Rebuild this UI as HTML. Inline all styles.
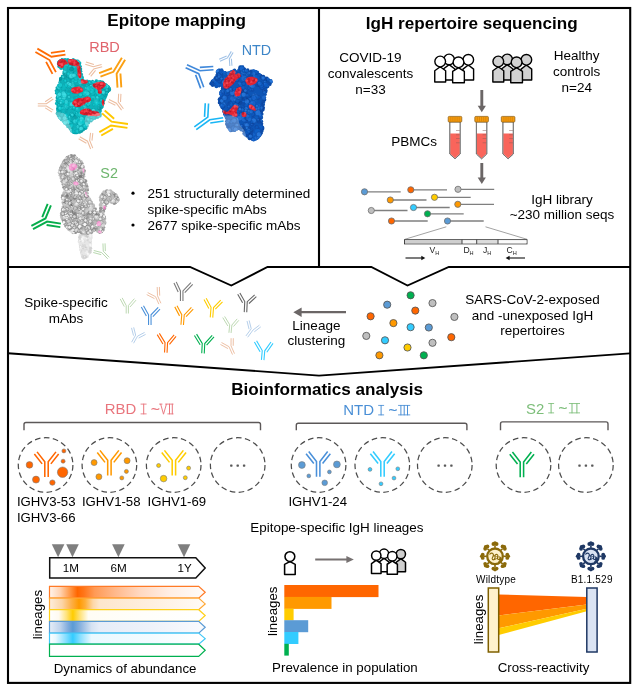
<!DOCTYPE html>
<html><head><meta charset="utf-8"><title>Graphical abstract</title>
<style>
html,body{margin:0;padding:0;background:#fff;}
body{width:640px;height:694px;overflow:hidden;font-family:'Liberation Sans', sans-serif;}
svg{display:block;font-family:"Liberation Sans",sans-serif;}
</style></head><body>
<svg width="640" height="694" viewBox="0 0 640 694" style="will-change:transform">
<g opacity="0.999">
<rect x="0" y="0" width="640" height="694" fill="#fff"/>
<g fill="none" stroke="#000" stroke-width="2.1" stroke-linejoin="miter">
<rect x="8" y="8" width="622.2" height="674.9"/>
<path d="M319,8V267"/>
<path d="M8,267H190L231.3,285.5L267.5,267H371.3L407.5,285.5L448.8,267H630" stroke-width="1.9"/>
<path d="M8,353.2L319,375.6L630,353.4" stroke-width="1.9"/>
</g>
<text x="107.3" y="26.4" font-size="17.1" text-anchor="start" font-weight="bold" fill="#000" >Epitope mapping</text>
<text x="365.8" y="28.5" font-size="17.1" text-anchor="start" font-weight="bold" fill="#000" >IgH repertoire sequencing</text>
<text x="231.2" y="394.6" font-size="17.1" text-anchor="start" font-weight="bold" fill="#000" >Bioinformatics analysis</text>
<defs><clipPath id="cprbd"><path d="M57.78,61.67C58.44,60.31 58.86,59.83 60.37,59.07C61.88,58.32 62.14,58.43 64.26,58.43C66.38,58.43 67.03,58.86 69.45,59.07C71.87,59.29 72.36,58.88 74.63,59.33C76.9,59.79 77.66,59.72 79.17,61.02C80.68,62.32 80.81,62.94 81.11,64.91C81.41,66.87 80.31,67.18 80.46,69.45C80.62,71.71 81.16,72.36 81.76,74.63C82.37,76.9 81.7,77.81 83.06,79.17C84.42,80.53 85.33,80.01 87.59,80.46C89.86,80.92 90.06,81.11 92.78,81.11C95.5,81.11 96.54,80.16 99.26,80.46C101.98,80.77 102.18,81.2 104.45,82.41C106.72,83.62 107.47,84.14 108.98,85.65C110.5,87.16 111.08,87.23 110.93,88.89C110.78,90.55 109.55,90.96 108.34,92.78C107.13,94.59 106.65,94.55 105.74,96.67C104.84,98.79 104.9,99.74 104.45,101.85C103.99,103.97 104.55,103.63 103.8,105.74C103.04,107.86 101.66,108.81 101.21,110.93C100.75,113.05 102.31,113.3 101.85,114.82C101.4,116.33 101.08,116.2 99.26,117.41C97.45,118.62 96.5,118.79 94.08,120C91.66,121.21 90.4,121.08 88.89,122.6C87.38,124.11 88.65,124.67 87.59,126.48C86.54,128.3 86.17,128.86 84.35,130.37C82.54,131.89 81.78,132.06 79.82,132.97C77.85,133.87 77.74,134.26 75.93,134.26C74.11,134.26 73.55,134.18 72.04,132.97C70.53,131.76 70.96,130.89 69.45,129.08C67.93,127.26 67.37,127 65.56,125.19C63.74,123.37 63.48,123.11 61.67,121.3C59.85,119.48 58.99,119.53 57.78,117.41C56.57,115.29 56.63,114.64 56.48,112.22C56.33,109.8 57.28,109.46 57.13,107.04C56.98,104.62 55.83,104.27 55.83,101.85C55.83,99.43 57.28,99.09 57.13,96.67C56.98,94.25 55.19,93.9 55.19,91.48C55.19,89.06 56.22,88.26 57.13,86.3C58.04,84.33 58.56,84.93 59.07,83.06C59.59,81.18 58.52,80.17 59.33,78.26C60.15,76.35 61.64,76.64 62.57,74.89C63.51,73.14 63.69,72.37 63.35,70.74C63.02,69.11 62.51,69.25 61.15,67.89C59.79,66.53 58.31,66.36 57.52,64.91C56.73,63.46 57.11,63.03 57.78,61.67Z"/></clipPath><filter id="blrbd" x="-5%" y="-5%" width="110%" height="110%"><feGaussianBlur stdDeviation="0.45"/></filter></defs>
<g filter="url(#blrbd)">
<path d="M57.78,61.67C58.44,60.31 58.86,59.83 60.37,59.07C61.88,58.32 62.14,58.43 64.26,58.43C66.38,58.43 67.03,58.86 69.45,59.07C71.87,59.29 72.36,58.88 74.63,59.33C76.9,59.79 77.66,59.72 79.17,61.02C80.68,62.32 80.81,62.94 81.11,64.91C81.41,66.87 80.31,67.18 80.46,69.45C80.62,71.71 81.16,72.36 81.76,74.63C82.37,76.9 81.7,77.81 83.06,79.17C84.42,80.53 85.33,80.01 87.59,80.46C89.86,80.92 90.06,81.11 92.78,81.11C95.5,81.11 96.54,80.16 99.26,80.46C101.98,80.77 102.18,81.2 104.45,82.41C106.72,83.62 107.47,84.14 108.98,85.65C110.5,87.16 111.08,87.23 110.93,88.89C110.78,90.55 109.55,90.96 108.34,92.78C107.13,94.59 106.65,94.55 105.74,96.67C104.84,98.79 104.9,99.74 104.45,101.85C103.99,103.97 104.55,103.63 103.8,105.74C103.04,107.86 101.66,108.81 101.21,110.93C100.75,113.05 102.31,113.3 101.85,114.82C101.4,116.33 101.08,116.2 99.26,117.41C97.45,118.62 96.5,118.79 94.08,120C91.66,121.21 90.4,121.08 88.89,122.6C87.38,124.11 88.65,124.67 87.59,126.48C86.54,128.3 86.17,128.86 84.35,130.37C82.54,131.89 81.78,132.06 79.82,132.97C77.85,133.87 77.74,134.26 75.93,134.26C74.11,134.26 73.55,134.18 72.04,132.97C70.53,131.76 70.96,130.89 69.45,129.08C67.93,127.26 67.37,127 65.56,125.19C63.74,123.37 63.48,123.11 61.67,121.3C59.85,119.48 58.99,119.53 57.78,117.41C56.57,115.29 56.63,114.64 56.48,112.22C56.33,109.8 57.28,109.46 57.13,107.04C56.98,104.62 55.83,104.27 55.83,101.85C55.83,99.43 57.28,99.09 57.13,96.67C56.98,94.25 55.19,93.9 55.19,91.48C55.19,89.06 56.22,88.26 57.13,86.3C58.04,84.33 58.56,84.93 59.07,83.06C59.59,81.18 58.52,80.17 59.33,78.26C60.15,76.35 61.64,76.64 62.57,74.89C63.51,73.14 63.69,72.37 63.35,70.74C63.02,69.11 62.51,69.25 61.15,67.89C59.79,66.53 58.31,66.36 57.52,64.91C56.73,63.46 57.11,63.03 57.78,61.67Z" fill="#0ab2ba"/>
<circle cx="58.58" cy="61.99" r="1.54" fill="#0aa6ae"/>
<circle cx="61.95" cy="59.08" r="1.07" fill="#0aa6ae"/>
<circle cx="65.11" cy="59.62" r="1.23" fill="#0aa6ae"/>
<circle cx="67.94" cy="59.67" r="1.55" fill="#0ab2ba"/>
<circle cx="70.06" cy="60.15" r="1.15" fill="#0aa6ae"/>
<circle cx="73.26" cy="59.75" r="1.67" fill="#0ab2ba"/>
<circle cx="75.13" cy="60.41" r="1.03" fill="#0aa6ae"/>
<circle cx="77.73" cy="61.52" r="1.92" fill="#0aa6ae"/>
<circle cx="79.58" cy="62.99" r="1.8" fill="#0ab2ba"/>
<circle cx="80.9" cy="66.49" r="1.1" fill="#0ab2ba"/>
<circle cx="80.61" cy="68.92" r="1.67" fill="#0aa6ae"/>
<circle cx="80.5" cy="71.34" r="1.83" fill="#0aa6ae"/>
<circle cx="81.13" cy="74.38" r="1.9" fill="#0ab2ba"/>
<circle cx="81.78" cy="77.26" r="1.99" fill="#0ab2ba"/>
<circle cx="82.45" cy="78.69" r="1.33" fill="#0ab2ba"/>
<circle cx="83.63" cy="80.43" r="1.21" fill="#0aa6ae"/>
<circle cx="85.26" cy="80.76" r="1.06" fill="#0aa6ae"/>
<circle cx="87.15" cy="81.3" r="1.8" fill="#0ab2ba"/>
<circle cx="89.68" cy="81.38" r="1.43" fill="#0ab2ba"/>
<circle cx="92.52" cy="81.4" r="1.61" fill="#0aa6ae"/>
<circle cx="96.37" cy="81.19" r="1.92" fill="#0ab2ba"/>
<circle cx="100.46" cy="81.24" r="1.31" fill="#0ab2ba"/>
<circle cx="102.49" cy="82.38" r="1.97" fill="#0aa6ae"/>
<circle cx="103.79" cy="82.93" r="1.04" fill="#0aa6ae"/>
<circle cx="106.23" cy="84.69" r="1.14" fill="#0aa6ae"/>
<circle cx="108.44" cy="86.8" r="1.52" fill="#0ab2ba"/>
<circle cx="109.23" cy="89.77" r="1.94" fill="#0aa6ae"/>
<circle cx="107.51" cy="91.69" r="1.72" fill="#0aa6ae"/>
<circle cx="106.57" cy="93.92" r="1.52" fill="#0ab2ba"/>
<circle cx="105.46" cy="95.58" r="1.99" fill="#0aa6ae"/>
<circle cx="105.03" cy="97.56" r="1.63" fill="#0aa6ae"/>
<circle cx="104.07" cy="99.79" r="1.68" fill="#0aa6ae"/>
<circle cx="103.88" cy="103.47" r="1.02" fill="#0ab2ba"/>
<circle cx="102.4" cy="106.89" r="1.25" fill="#0aa6ae"/>
<circle cx="101.54" cy="108.1" r="1.19" fill="#0aa6ae"/>
<circle cx="100.42" cy="110.93" r="1.38" fill="#0ab2ba"/>
<circle cx="99.93" cy="115.91" r="1.68" fill="#0ab2ba"/>
<circle cx="97.84" cy="117.43" r="1.27" fill="#0aa6ae"/>
<circle cx="95.22" cy="118.58" r="1.1" fill="#0aa6ae"/>
<circle cx="92.52" cy="119.61" r="1.22" fill="#0ab2ba"/>
<circle cx="91.05" cy="120.71" r="1.74" fill="#0aa6ae"/>
<circle cx="88.52" cy="122.76" r="1.79" fill="#0ab2ba"/>
<circle cx="86.96" cy="125.65" r="1.84" fill="#0aa6ae"/>
<circle cx="85.52" cy="128.26" r="1.83" fill="#0aa6ae"/>
<circle cx="83.42" cy="129.93" r="1.42" fill="#0aa6ae"/>
<circle cx="81.39" cy="131.27" r="1.63" fill="#0aa6ae"/>
<circle cx="79.71" cy="132.43" r="1.41" fill="#0aa6ae"/>
<circle cx="73.94" cy="131.68" r="1.88" fill="#0aa6ae"/>
<circle cx="71.87" cy="130.77" r="1.99" fill="#0ab2ba"/>
<circle cx="70.46" cy="128.81" r="1.84" fill="#0aa6ae"/>
<circle cx="69.26" cy="126.81" r="1.89" fill="#0aa6ae"/>
<circle cx="67.47" cy="126.67" r="1.24" fill="#0ab2ba"/>
<circle cx="65.04" cy="122.96" r="1.9" fill="#0ab2ba"/>
<circle cx="63.38" cy="122.06" r="1.12" fill="#0ab2ba"/>
<circle cx="61.36" cy="119.81" r="1.52" fill="#0ab2ba"/>
<circle cx="60" cy="118.06" r="1.25" fill="#0aa6ae"/>
<circle cx="57.76" cy="115.82" r="1.06" fill="#0ab2ba"/>
<circle cx="57.42" cy="113.51" r="1.82" fill="#0aa6ae"/>
<circle cx="57.89" cy="109.82" r="1.81" fill="#0ab2ba"/>
<circle cx="57.61" cy="108.37" r="1.57" fill="#0aa6ae"/>
<circle cx="57.92" cy="106.12" r="1.62" fill="#0ab2ba"/>
<circle cx="56.7" cy="103.53" r="1.78" fill="#0ab2ba"/>
<circle cx="56.42" cy="100.56" r="1.05" fill="#0aa6ae"/>
<circle cx="57.43" cy="97.64" r="1.85" fill="#0aa6ae"/>
<circle cx="57.62" cy="96.1" r="1.31" fill="#0aa6ae"/>
<circle cx="56.35" cy="93.18" r="1.36" fill="#0aa6ae"/>
<circle cx="55.72" cy="90.85" r="1.13" fill="#0aa6ae"/>
<circle cx="57.05" cy="87.77" r="1.57" fill="#0aa6ae"/>
<circle cx="58.71" cy="85.49" r="1.78" fill="#0ab2ba"/>
<circle cx="59.77" cy="82.55" r="1.43" fill="#0aa6ae"/>
<circle cx="60.28" cy="80.32" r="1.31" fill="#0aa6ae"/>
<circle cx="60.4" cy="78.33" r="1.25" fill="#0ab2ba"/>
<circle cx="62.02" cy="76.08" r="1.22" fill="#0ab2ba"/>
<circle cx="63.75" cy="73.59" r="1.37" fill="#0aa6ae"/>
<circle cx="64.07" cy="71.89" r="1.69" fill="#0aa6ae"/>
<circle cx="61.07" cy="68.26" r="1.73" fill="#0ab2ba"/>
<circle cx="59.05" cy="66.52" r="1.72" fill="#0ab2ba"/>
<circle cx="57.83" cy="63.68" r="1.04" fill="#0ab2ba"/>
<g clip-path="url(#cprbd)">
<circle cx="91.93" cy="86.92" r="2.51" fill="#14ccd2" stroke="#078f98" stroke-width="0.45" opacity="0.89"/>
<circle cx="87.46" cy="119" r="1.26" fill="#3fe0e6" stroke="#078f98" stroke-width="0.45" opacity="0.86"/>
<circle cx="86.62" cy="121.22" r="1.59" fill="#068c95" opacity="0.55"/>
<circle cx="69.28" cy="103.89" r="2.7" fill="#14ccd2" stroke="#078f98" stroke-width="0.45" opacity="0.9"/>
<circle cx="78.33" cy="101.53" r="2.13" fill="#3fe0e6" opacity="0.57"/>
<circle cx="63.51" cy="65.7" r="2.4" fill="#0cbcc4" stroke="#078f98" stroke-width="0.45" opacity="0.65"/>
<circle cx="63.35" cy="97.53" r="2.7" fill="#3fe0e6" stroke="#078f98" stroke-width="0.45" opacity="0.9"/>
<circle cx="70.13" cy="119.41" r="1.52" fill="#0cbcc4" opacity="0.49"/>
<circle cx="69.67" cy="118.95" r="0.61" fill="#3fe0e6" opacity="0.6"/>
<circle cx="88.58" cy="93.92" r="2.54" fill="#3fe0e6" opacity="0.36"/>
<circle cx="87.81" cy="93.16" r="1.01" fill="#3fe0e6" opacity="0.6"/>
<circle cx="91.32" cy="117.38" r="1.31" fill="#14ccd2" stroke="#078f98" stroke-width="0.45" opacity="0.65"/>
<circle cx="60.26" cy="119.01" r="1.39" fill="#3fe0e6" stroke="#078f98" stroke-width="0.45" opacity="0.84"/>
<circle cx="59.84" cy="118.59" r="0.56" fill="#3fe0e6" opacity="0.6"/>
<circle cx="73.85" cy="91.51" r="1.98" fill="#0cbcc4" stroke="#078f98" stroke-width="0.45" opacity="0.79"/>
<circle cx="73.25" cy="90.91" r="0.79" fill="#3fe0e6" opacity="0.6"/>
<circle cx="70.5" cy="108.89" r="1.38" fill="#14ccd2" opacity="0.39"/>
<circle cx="70.09" cy="108.48" r="0.55" fill="#3fe0e6" opacity="0.6"/>
<circle cx="98.24" cy="115.86" r="1.67" fill="#3fe0e6" opacity="0.77"/>
<circle cx="97.74" cy="115.36" r="0.67" fill="#3fe0e6" opacity="0.6"/>
<circle cx="86.74" cy="98.29" r="2.27" fill="#0cbcc4" opacity="0.67"/>
<circle cx="65.33" cy="107.39" r="2.21" fill="#3fe0e6" stroke="#078f98" stroke-width="0.45" opacity="0.65"/>
<circle cx="64.67" cy="106.73" r="0.88" fill="#3fe0e6" opacity="0.6"/>
<circle cx="95.35" cy="103.73" r="2.09" fill="#14ccd2" opacity="0.57"/>
<circle cx="86.05" cy="102.1" r="1.83" fill="#089ba4" opacity="0.52"/>
<circle cx="85.5" cy="101.55" r="0.73" fill="#3fe0e6" opacity="0.6"/>
<circle cx="98.05" cy="85.28" r="1.73" fill="#14ccd2" stroke="#078f98" stroke-width="0.45" opacity="0.9"/>
<circle cx="97.53" cy="84.76" r="0.69" fill="#3fe0e6" opacity="0.6"/>
<circle cx="70.26" cy="65.98" r="1.38" fill="#3fe0e6" opacity="0.4"/>
<circle cx="92.54" cy="88.09" r="2.77" fill="#0cbcc4" stroke="#078f98" stroke-width="0.45" opacity="0.79"/>
<circle cx="91.71" cy="87.26" r="1.11" fill="#3fe0e6" opacity="0.6"/>
<circle cx="65.16" cy="124.3" r="1.79" fill="#089ba4" opacity="0.75"/>
<circle cx="64.62" cy="123.76" r="0.72" fill="#3fe0e6" opacity="0.6"/>
<circle cx="85.99" cy="102.64" r="2.21" fill="#3fe0e6" opacity="0.67"/>
<circle cx="64.83" cy="105.83" r="1.52" fill="#3fe0e6" stroke="#078f98" stroke-width="0.45" opacity="0.93"/>
<circle cx="64.38" cy="105.37" r="0.61" fill="#3fe0e6" opacity="0.6"/>
<circle cx="70.97" cy="108.29" r="1.44" fill="#14ccd2" stroke="#078f98" stroke-width="0.45" opacity="0.82"/>
<circle cx="74.12" cy="83.33" r="1.75" fill="#0cbcc4" opacity="0.74"/>
<circle cx="95.09" cy="114.52" r="1.75" fill="#0cbcc4" stroke="#078f98" stroke-width="0.45" opacity="0.77"/>
<circle cx="94.57" cy="114" r="0.7" fill="#3fe0e6" opacity="0.6"/>
<circle cx="57.57" cy="64.34" r="1.52" fill="#14ccd2" stroke="#078f98" stroke-width="0.45" opacity="0.67"/>
<circle cx="56.49" cy="93.13" r="2.31" fill="#089ba4" opacity="0.75"/>
<circle cx="55.8" cy="92.44" r="0.92" fill="#3fe0e6" opacity="0.6"/>
<circle cx="75.86" cy="98.57" r="2.15" fill="#14ccd2" stroke="#078f98" stroke-width="0.45" opacity="0.65"/>
<circle cx="66.07" cy="74.3" r="1.47" fill="#3fe0e6" stroke="#078f98" stroke-width="0.45" opacity="0.66"/>
<circle cx="80.16" cy="89.35" r="2.33" fill="#0cbcc4" stroke="#078f98" stroke-width="0.45" opacity="0.68"/>
<circle cx="79.46" cy="88.65" r="0.93" fill="#3fe0e6" opacity="0.6"/>
<circle cx="65.81" cy="83.68" r="1.39" fill="#3fe0e6" opacity="0.37"/>
<circle cx="65.4" cy="83.26" r="0.55" fill="#3fe0e6" opacity="0.6"/>
<circle cx="99.1" cy="93.72" r="2.69" fill="#14ccd2" stroke="#078f98" stroke-width="0.45" opacity="0.82"/>
<circle cx="98.29" cy="92.91" r="1.08" fill="#3fe0e6" opacity="0.6"/>
<circle cx="60.41" cy="110.18" r="2.75" fill="#0cbcc4" opacity="0.4"/>
<circle cx="59.58" cy="109.35" r="1.1" fill="#3fe0e6" opacity="0.6"/>
<circle cx="83.23" cy="94.97" r="1.5" fill="#14ccd2" opacity="0.44"/>
<circle cx="72.17" cy="104.45" r="2.71" fill="#3fe0e6" stroke="#078f98" stroke-width="0.45" opacity="0.74"/>
<circle cx="71.36" cy="103.64" r="1.09" fill="#3fe0e6" opacity="0.6"/>
<circle cx="64.92" cy="114.53" r="2.37" fill="#14ccd2" stroke="#078f98" stroke-width="0.45" opacity="0.75"/>
<circle cx="64.21" cy="113.82" r="0.95" fill="#3fe0e6" opacity="0.6"/>
<circle cx="94.36" cy="84.6" r="2.51" fill="#3fe0e6" opacity="0.76"/>
<circle cx="60.31" cy="110.89" r="2.26" fill="#0aa6ae" opacity="0.73"/>
<circle cx="103.81" cy="92.55" r="2.64" fill="#0cbcc4" stroke="#078f98" stroke-width="0.45" opacity="0.74"/>
<circle cx="61.04" cy="101.57" r="1.38" fill="#0aa6ae" opacity="0.44"/>
<circle cx="71.21" cy="74.26" r="2.56" fill="#3fe0e6" opacity="0.7"/>
<circle cx="65.09" cy="64.43" r="2.52" fill="#14ccd2" stroke="#078f98" stroke-width="0.45" opacity="0.63"/>
<circle cx="67.6" cy="121.33" r="2.18" fill="#3fe0e6" stroke="#078f98" stroke-width="0.45" opacity="0.83"/>
<circle cx="71.45" cy="130.1" r="1.91" fill="#3fe0e6" stroke="#078f98" stroke-width="0.45" opacity="0.82"/>
<circle cx="70.88" cy="129.52" r="0.76" fill="#3fe0e6" opacity="0.6"/>
<circle cx="65.89" cy="115.58" r="2.68" fill="#14ccd2" opacity="0.54"/>
<circle cx="67.12" cy="85.01" r="2.79" fill="#14ccd2" stroke="#078f98" stroke-width="0.45" opacity="0.66"/>
<circle cx="78.53" cy="130.32" r="2.64" fill="#14ccd2" opacity="0.75"/>
<circle cx="63.59" cy="96.61" r="1.3" fill="#14ccd2" stroke="#078f98" stroke-width="0.45" opacity="0.61"/>
<circle cx="66.15" cy="117.73" r="1.43" fill="#14ccd2" stroke="#078f98" stroke-width="0.45" opacity="0.87"/>
<circle cx="104.02" cy="86.68" r="1.46" fill="#089ba4" opacity="0.56"/>
<circle cx="103.59" cy="86.24" r="0.58" fill="#3fe0e6" opacity="0.6"/>
<circle cx="75.21" cy="121.44" r="2.4" fill="#3fe0e6" stroke="#078f98" stroke-width="0.45" opacity="0.65"/>
<circle cx="74.49" cy="120.72" r="0.96" fill="#3fe0e6" opacity="0.6"/>
<circle cx="74.97" cy="131.66" r="1.78" fill="#14ccd2" stroke="#078f98" stroke-width="0.45" opacity="0.92"/>
<circle cx="88.83" cy="119.95" r="1.92" fill="#14ccd2" stroke="#078f98" stroke-width="0.45" opacity="0.72"/>
<circle cx="88.25" cy="119.37" r="0.77" fill="#3fe0e6" opacity="0.6"/>
<circle cx="64.42" cy="116.17" r="2.1" fill="#3fe0e6" opacity="0.69"/>
<circle cx="101.51" cy="100.28" r="1.65" fill="#14ccd2" stroke="#078f98" stroke-width="0.45" opacity="0.76"/>
<circle cx="88.78" cy="89.85" r="2.03" fill="#3fe0e6" stroke="#078f98" stroke-width="0.45" opacity="0.64"/>
<circle cx="79.94" cy="79.54" r="1.61" fill="#3fe0e6" stroke="#078f98" stroke-width="0.45" opacity="0.61"/>
<circle cx="68.03" cy="93.23" r="2.14" fill="#14ccd2" stroke="#078f98" stroke-width="0.45" opacity="0.64"/>
<circle cx="79.44" cy="64.18" r="1.25" fill="#14ccd2" stroke="#078f98" stroke-width="0.45" opacity="0.66"/>
<circle cx="79.07" cy="63.8" r="0.5" fill="#3fe0e6" opacity="0.6"/>
<circle cx="101.35" cy="82.41" r="1.63" fill="#14ccd2" stroke="#078f98" stroke-width="0.45" opacity="0.61"/>
<circle cx="100.86" cy="81.92" r="0.65" fill="#3fe0e6" opacity="0.6"/>
<circle cx="78.23" cy="126.63" r="1.99" fill="#3fe0e6" stroke="#078f98" stroke-width="0.45" opacity="0.82"/>
<circle cx="77.63" cy="126.03" r="0.8" fill="#3fe0e6" opacity="0.6"/>
<circle cx="93.76" cy="91.13" r="2.77" fill="#0cbcc4" stroke="#078f98" stroke-width="0.45" opacity="0.77"/>
<circle cx="92.93" cy="90.3" r="1.11" fill="#3fe0e6" opacity="0.6"/>
<circle cx="63.54" cy="111.93" r="2.3" fill="#0cbcc4" stroke="#078f98" stroke-width="0.45" opacity="0.66"/>
<circle cx="72.52" cy="107.62" r="1.41" fill="#14ccd2" stroke="#078f98" stroke-width="0.45" opacity="0.87"/>
<circle cx="72.1" cy="107.19" r="0.56" fill="#3fe0e6" opacity="0.6"/>
<circle cx="65.32" cy="60.42" r="1.37" fill="#3fe0e6" stroke="#078f98" stroke-width="0.45" opacity="0.63"/>
<circle cx="64.91" cy="60.01" r="0.55" fill="#3fe0e6" opacity="0.6"/>
<circle cx="74.94" cy="130.53" r="1.98" fill="#14ccd2" opacity="0.56"/>
<circle cx="102.79" cy="91.98" r="1.85" fill="#14ccd2" stroke="#078f98" stroke-width="0.45" opacity="0.67"/>
<circle cx="70.01" cy="73.77" r="1.28" fill="#3fe0e6" stroke="#078f98" stroke-width="0.45" opacity="0.6"/>
<circle cx="93.4" cy="98.26" r="2.43" fill="#3fe0e6" stroke="#078f98" stroke-width="0.45" opacity="0.81"/>
<circle cx="92.67" cy="97.53" r="0.97" fill="#3fe0e6" opacity="0.6"/>
<circle cx="83.41" cy="86.75" r="1.71" fill="#0aa6ae" opacity="0.7"/>
<circle cx="82.9" cy="86.24" r="0.68" fill="#3fe0e6" opacity="0.6"/>
<circle cx="93.67" cy="84.31" r="2.76" fill="#3fe0e6" stroke="#078f98" stroke-width="0.45" opacity="0.95"/>
<circle cx="69.04" cy="91.39" r="1.63" fill="#089ba4" opacity="0.59"/>
<circle cx="84.64" cy="91.91" r="2.19" fill="#089ba4" opacity="0.6"/>
<circle cx="83.99" cy="91.26" r="0.88" fill="#3fe0e6" opacity="0.6"/>
<circle cx="68.36" cy="87.37" r="1.54" fill="#0cbcc4" stroke="#078f98" stroke-width="0.45" opacity="0.75"/>
<circle cx="94.84" cy="85.84" r="1.68" fill="#14ccd2" opacity="0.55"/>
<circle cx="60.99" cy="95.97" r="1.72" fill="#0cbcc4" stroke="#078f98" stroke-width="0.45" opacity="0.67"/>
<circle cx="60.48" cy="95.46" r="0.69" fill="#3fe0e6" opacity="0.6"/>
<circle cx="66.16" cy="60.58" r="2.37" fill="#089ba4" opacity="0.68"/>
<circle cx="106.08" cy="91.9" r="2.29" fill="#14ccd2" stroke="#078f98" stroke-width="0.45" opacity="0.7"/>
<circle cx="105.39" cy="91.21" r="0.92" fill="#3fe0e6" opacity="0.6"/>
<circle cx="101.09" cy="103.84" r="1.34" fill="#0cbcc4" stroke="#078f98" stroke-width="0.45" opacity="0.77"/>
<circle cx="100.69" cy="103.44" r="0.53" fill="#3fe0e6" opacity="0.6"/>
<circle cx="66.54" cy="106.64" r="2.14" fill="#3fe0e6" stroke="#078f98" stroke-width="0.45" opacity="0.84"/>
<circle cx="65.9" cy="106" r="0.86" fill="#3fe0e6" opacity="0.6"/>
<circle cx="79.81" cy="115.57" r="2.79" fill="#068c95" opacity="0.5"/>
<circle cx="60.43" cy="108.48" r="2.23" fill="#14ccd2" stroke="#078f98" stroke-width="0.45" opacity="0.94"/>
<circle cx="59.77" cy="107.81" r="0.89" fill="#3fe0e6" opacity="0.6"/>
<circle cx="84.06" cy="126.9" r="2.01" fill="#068c95" opacity="0.43"/>
<circle cx="106.37" cy="88.46" r="1.75" fill="#14ccd2" stroke="#078f98" stroke-width="0.45" opacity="0.91"/>
<circle cx="105.84" cy="87.93" r="0.7" fill="#3fe0e6" opacity="0.6"/>
<circle cx="84.82" cy="105.44" r="1.77" fill="#3fe0e6" opacity="0.74"/>
<circle cx="84.29" cy="104.91" r="0.71" fill="#3fe0e6" opacity="0.6"/>
<circle cx="58.52" cy="91.25" r="1.7" fill="#14ccd2" stroke="#078f98" stroke-width="0.45" opacity="0.64"/>
<circle cx="77.32" cy="74.5" r="1.5" fill="#089ba4" opacity="0.46"/>
<circle cx="75.64" cy="75.37" r="1.66" fill="#0cbcc4" stroke="#078f98" stroke-width="0.45" opacity="0.67"/>
<circle cx="75.14" cy="74.87" r="0.66" fill="#3fe0e6" opacity="0.6"/>
<circle cx="64.82" cy="71.19" r="1.97" fill="#3fe0e6" stroke="#078f98" stroke-width="0.45" opacity="0.86"/>
<circle cx="64.23" cy="70.6" r="0.79" fill="#3fe0e6" opacity="0.6"/>
<circle cx="85.26" cy="103.76" r="2.21" fill="#14ccd2" stroke="#078f98" stroke-width="0.45" opacity="0.77"/>
<circle cx="70.15" cy="126.58" r="2.3" fill="#3fe0e6" stroke="#078f98" stroke-width="0.45" opacity="0.77"/>
<circle cx="69.46" cy="125.89" r="0.92" fill="#3fe0e6" opacity="0.6"/>
<circle cx="95.15" cy="84.12" r="2.37" fill="#14ccd2" stroke="#078f98" stroke-width="0.45" opacity="0.77"/>
<circle cx="103.3" cy="92.3" r="1.99" fill="#3fe0e6" stroke="#078f98" stroke-width="0.45" opacity="0.81"/>
<circle cx="73.21" cy="89.53" r="2.68" fill="#14ccd2" stroke="#078f98" stroke-width="0.45" opacity="0.75"/>
<circle cx="72.41" cy="88.73" r="1.07" fill="#3fe0e6" opacity="0.6"/>
<circle cx="65.3" cy="80.82" r="1.5" fill="#14ccd2" stroke="#078f98" stroke-width="0.45" opacity="0.92"/>
<circle cx="85.35" cy="93.72" r="2.65" fill="#14ccd2" stroke="#078f98" stroke-width="0.45" opacity="0.85"/>
<circle cx="84.56" cy="92.92" r="1.06" fill="#3fe0e6" opacity="0.6"/>
<circle cx="76.77" cy="100.66" r="1.7" fill="#14ccd2" stroke="#078f98" stroke-width="0.45" opacity="0.64"/>
<circle cx="81.76" cy="91.34" r="1.62" fill="#0cbcc4" opacity="0.47"/>
<circle cx="69.59" cy="84.79" r="1.75" fill="#14ccd2" stroke="#078f98" stroke-width="0.45" opacity="0.72"/>
<circle cx="69.06" cy="84.26" r="0.7" fill="#3fe0e6" opacity="0.6"/>
<circle cx="57.56" cy="95.65" r="2.79" fill="#3fe0e6" stroke="#078f98" stroke-width="0.45" opacity="0.8"/>
<circle cx="79.15" cy="80.82" r="1.64" fill="#3fe0e6" stroke="#078f98" stroke-width="0.45" opacity="0.6"/>
<circle cx="62.49" cy="113.7" r="1.53" fill="#3fe0e6" stroke="#078f98" stroke-width="0.45" opacity="0.8"/>
<circle cx="75.15" cy="67.37" r="1.55" fill="#0cbcc4" opacity="0.57"/>
<circle cx="74.68" cy="66.91" r="0.62" fill="#3fe0e6" opacity="0.6"/>
<circle cx="85.51" cy="109.13" r="2.17" fill="#3fe0e6" stroke="#078f98" stroke-width="0.45" opacity="0.65"/>
<circle cx="84.86" cy="108.48" r="0.87" fill="#3fe0e6" opacity="0.6"/>
<circle cx="59.8" cy="117.97" r="1.83" fill="#3fe0e6" stroke="#078f98" stroke-width="0.45" opacity="0.89"/>
<circle cx="59.25" cy="117.43" r="0.73" fill="#3fe0e6" opacity="0.6"/>
<circle cx="93.23" cy="89.92" r="1.21" fill="#0aa6ae" opacity="0.5"/>
<circle cx="92.86" cy="89.56" r="0.48" fill="#3fe0e6" opacity="0.6"/>
<circle cx="99.9" cy="87.89" r="2.49" fill="#0aa6ae" opacity="0.67"/>
<circle cx="99.15" cy="87.14" r="1" fill="#3fe0e6" opacity="0.6"/>
<circle cx="67.16" cy="70.39" r="1.83" fill="#0aa6ae" opacity="0.4"/>
<circle cx="66.62" cy="69.84" r="0.73" fill="#3fe0e6" opacity="0.6"/>
<circle cx="60.57" cy="89.22" r="2.14" fill="#3fe0e6" stroke="#078f98" stroke-width="0.45" opacity="0.73"/>
<circle cx="66.84" cy="102.88" r="2.22" fill="#0cbcc4" stroke="#078f98" stroke-width="0.45" opacity="0.7"/>
<circle cx="84.14" cy="81.82" r="2.04" fill="#14ccd2" stroke="#078f98" stroke-width="0.45" opacity="0.62"/>
<circle cx="96.46" cy="116.82" r="1.23" fill="#0aa6ae" opacity="0.35"/>
<circle cx="92.82" cy="81.54" r="1.96" fill="#3fe0e6" stroke="#078f98" stroke-width="0.45" opacity="0.63"/>
<circle cx="65.86" cy="64.76" r="2.39" fill="#3fe0e6" opacity="0.58"/>
<circle cx="65.15" cy="64.04" r="0.96" fill="#3fe0e6" opacity="0.6"/>
<circle cx="92.75" cy="97.29" r="2.74" fill="#0cbcc4" stroke="#078f98" stroke-width="0.45" opacity="0.75"/>
<circle cx="86.43" cy="88.07" r="1.94" fill="#3fe0e6" stroke="#078f98" stroke-width="0.45" opacity="0.69"/>
<circle cx="69.5" cy="85.55" r="2.24" fill="#14ccd2" stroke="#078f98" stroke-width="0.45" opacity="0.81"/>
<circle cx="77.6" cy="87.66" r="1.71" fill="#14ccd2" stroke="#078f98" stroke-width="0.45" opacity="0.8"/>
<circle cx="77.09" cy="87.14" r="0.68" fill="#3fe0e6" opacity="0.6"/>
<circle cx="79.21" cy="61.46" r="2.37" fill="#3fe0e6" stroke="#078f98" stroke-width="0.45" opacity="0.68"/>
<circle cx="78.5" cy="60.75" r="0.95" fill="#3fe0e6" opacity="0.6"/>
<circle cx="66.15" cy="104.37" r="2.23" fill="#14ccd2" stroke="#078f98" stroke-width="0.45" opacity="0.73"/>
<circle cx="79.31" cy="73.6" r="1.83" fill="#3fe0e6" stroke="#078f98" stroke-width="0.45" opacity="0.91"/>
<circle cx="62.87" cy="117.32" r="2.64" fill="#0aa6ae" opacity="0.45"/>
<circle cx="62.36" cy="90.44" r="2.79" fill="#14ccd2" stroke="#078f98" stroke-width="0.45" opacity="0.82"/>
<circle cx="56.8" cy="100.13" r="2.15" fill="#0aa6ae" opacity="0.52"/>
<circle cx="56.16" cy="99.48" r="0.86" fill="#3fe0e6" opacity="0.6"/>
<circle cx="68.78" cy="75.23" r="2.7" fill="#0cbcc4" stroke="#078f98" stroke-width="0.45" opacity="0.89"/>
<circle cx="67.97" cy="74.42" r="1.08" fill="#3fe0e6" opacity="0.6"/>
<circle cx="91.11" cy="120.32" r="1.58" fill="#14ccd2" stroke="#078f98" stroke-width="0.45" opacity="0.72"/>
<circle cx="90.64" cy="119.84" r="0.63" fill="#3fe0e6" opacity="0.6"/>
<circle cx="74.39" cy="74.83" r="1.52" fill="#3fe0e6" stroke="#078f98" stroke-width="0.45" opacity="0.92"/>
<circle cx="73.93" cy="74.37" r="0.61" fill="#3fe0e6" opacity="0.6"/>
<circle cx="71.25" cy="130.15" r="1.52" fill="#14ccd2" stroke="#078f98" stroke-width="0.45" opacity="0.91"/>
<circle cx="70.79" cy="129.69" r="0.61" fill="#3fe0e6" opacity="0.6"/>
<circle cx="74.42" cy="108.05" r="2.15" fill="#0cbcc4" stroke="#078f98" stroke-width="0.45" opacity="0.91"/>
<circle cx="73.77" cy="107.41" r="0.86" fill="#3fe0e6" opacity="0.6"/>
<circle cx="64.64" cy="83.29" r="1.38" fill="#0aa6ae" opacity="0.38"/>
<circle cx="56.3" cy="91.97" r="2.33" fill="#0cbcc4" stroke="#078f98" stroke-width="0.45" opacity="0.73"/>
<circle cx="70.69" cy="122.7" r="1.52" fill="#0cbcc4" stroke="#078f98" stroke-width="0.45" opacity="0.93"/>
<circle cx="70.23" cy="122.24" r="0.61" fill="#3fe0e6" opacity="0.6"/>
<circle cx="86.64" cy="99.03" r="1.22" fill="#089ba4" opacity="0.43"/>
<circle cx="86.28" cy="98.67" r="0.49" fill="#3fe0e6" opacity="0.6"/>
<circle cx="59.55" cy="99.43" r="2.54" fill="#14ccd2" stroke="#078f98" stroke-width="0.45" opacity="0.66"/>
<circle cx="83.17" cy="84.86" r="1.98" fill="#089ba4" opacity="0.65"/>
<circle cx="60.26" cy="64.93" r="2.53" fill="#0aa6ae" opacity="0.5"/>
<circle cx="59.5" cy="64.17" r="1.01" fill="#3fe0e6" opacity="0.6"/>
<circle cx="79.73" cy="67.77" r="2.62" fill="#14ccd2" opacity="0.67"/>
<circle cx="97.9" cy="111.37" r="1.22" fill="#3fe0e6" stroke="#078f98" stroke-width="0.45" opacity="0.75"/>
<circle cx="74.62" cy="97.82" r="1.86" fill="#0aa6ae" opacity="0.68"/>
<circle cx="70.87" cy="76.2" r="1.46" fill="#3fe0e6" stroke="#078f98" stroke-width="0.45" opacity="0.79"/>
<circle cx="70.43" cy="75.76" r="0.59" fill="#3fe0e6" opacity="0.6"/>
<circle cx="74.41" cy="115.38" r="1.47" fill="#068c95" opacity="0.77"/>
<circle cx="77.74" cy="131.14" r="1.89" fill="#3fe0e6" stroke="#078f98" stroke-width="0.45" opacity="0.73"/>
<circle cx="91.41" cy="93.17" r="2.26" fill="#3fe0e6" stroke="#078f98" stroke-width="0.45" opacity="0.77"/>
<circle cx="65.88" cy="117.99" r="1.68" fill="#0cbcc4" opacity="0.72"/>
<circle cx="65.38" cy="117.49" r="0.67" fill="#3fe0e6" opacity="0.6"/>
<circle cx="64.35" cy="123.22" r="2.34" fill="#3fe0e6" opacity="0.47"/>
<circle cx="75.68" cy="72.99" r="2.03" fill="#0cbcc4" stroke="#078f98" stroke-width="0.45" opacity="0.92"/>
<circle cx="80.81" cy="101.25" r="1.7" fill="#3fe0e6" stroke="#078f98" stroke-width="0.45" opacity="0.61"/>
<circle cx="65.17" cy="94.36" r="1.72" fill="#3fe0e6" stroke="#078f98" stroke-width="0.45" opacity="0.78"/>
<circle cx="93.03" cy="82.61" r="2.11" fill="#14ccd2" opacity="0.74"/>
<circle cx="63.49" cy="90.93" r="2.32" fill="#089ba4" opacity="0.73"/>
<circle cx="70.06" cy="81.6" r="1.4" fill="#3fe0e6" stroke="#078f98" stroke-width="0.45" opacity="0.91"/>
<circle cx="75.73" cy="90.98" r="2.27" fill="#3fe0e6" stroke="#078f98" stroke-width="0.45" opacity="0.72"/>
<circle cx="75.8" cy="85.38" r="2.18" fill="#0aa6ae" opacity="0.35"/>
<circle cx="66.06" cy="101.67" r="1.96" fill="#3fe0e6" opacity="0.61"/>
<circle cx="64.39" cy="121.17" r="2.53" fill="#3fe0e6" stroke="#078f98" stroke-width="0.45" opacity="0.64"/>
<circle cx="92.09" cy="85.88" r="2.47" fill="#3fe0e6" stroke="#078f98" stroke-width="0.45" opacity="0.87"/>
<circle cx="91.35" cy="85.14" r="0.99" fill="#3fe0e6" opacity="0.6"/>
<circle cx="74.36" cy="64.15" r="2.78" fill="#0cbcc4" stroke="#078f98" stroke-width="0.45" opacity="0.67"/>
<circle cx="77.39" cy="120.62" r="2.24" fill="#14ccd2" stroke="#078f98" stroke-width="0.45" opacity="0.69"/>
<circle cx="61.78" cy="114.95" r="2.02" fill="#0cbcc4" stroke="#078f98" stroke-width="0.45" opacity="0.93"/>
<circle cx="72.57" cy="85.48" r="2.39" fill="#3fe0e6" stroke="#078f98" stroke-width="0.45" opacity="0.73"/>
<circle cx="64.19" cy="123.48" r="2.42" fill="#3fe0e6" stroke="#078f98" stroke-width="0.45" opacity="0.84"/>
<circle cx="86.32" cy="91.25" r="1.39" fill="#3fe0e6" stroke="#078f98" stroke-width="0.45" opacity="0.74"/>
<circle cx="85.9" cy="90.84" r="0.55" fill="#3fe0e6" opacity="0.6"/>
<circle cx="69.29" cy="116.9" r="1.38" fill="#3fe0e6" stroke="#078f98" stroke-width="0.45" opacity="0.89"/>
<circle cx="90.13" cy="82.87" r="1.85" fill="#0cbcc4" stroke="#078f98" stroke-width="0.45" opacity="0.83"/>
<circle cx="89.58" cy="82.32" r="0.74" fill="#3fe0e6" opacity="0.6"/>
<circle cx="74.96" cy="98.88" r="1.34" fill="#0aa6ae" opacity="0.55"/>
<circle cx="66.73" cy="118.01" r="1.86" fill="#3fe0e6" stroke="#078f98" stroke-width="0.45" opacity="0.71"/>
<circle cx="66.17" cy="92.15" r="1.34" fill="#0cbcc4" stroke="#078f98" stroke-width="0.45" opacity="0.68"/>
<circle cx="77.73" cy="109.41" r="2.61" fill="#0cbcc4" stroke="#078f98" stroke-width="0.45" opacity="0.82"/>
<circle cx="76.95" cy="108.62" r="1.05" fill="#3fe0e6" opacity="0.6"/>
<circle cx="89.78" cy="92.46" r="2.43" fill="#068c95" opacity="0.74"/>
<circle cx="86.26" cy="90.71" r="1.24" fill="#14ccd2" stroke="#078f98" stroke-width="0.45" opacity="0.94"/>
<circle cx="67.8" cy="125.63" r="2.73" fill="#068c95" opacity="0.56"/>
<circle cx="76.7" cy="121.54" r="2.07" fill="#0cbcc4" opacity="0.39"/>
<circle cx="76.08" cy="120.92" r="0.83" fill="#3fe0e6" opacity="0.6"/>
<circle cx="72.8" cy="63.59" r="1.61" fill="#089ba4" opacity="0.66"/>
<circle cx="78.67" cy="126.42" r="1.28" fill="#0aa6ae" opacity="0.51"/>
<circle cx="78.29" cy="126.04" r="0.51" fill="#3fe0e6" opacity="0.6"/>
<circle cx="98.79" cy="81.13" r="2.4" fill="#089ba4" opacity="0.47"/>
<circle cx="98.07" cy="80.42" r="0.96" fill="#3fe0e6" opacity="0.6"/>
<circle cx="76.88" cy="131.35" r="2.18" fill="#0cbcc4" stroke="#078f98" stroke-width="0.45" opacity="0.67"/>
<circle cx="87.57" cy="93.59" r="2.26" fill="#3fe0e6" stroke="#078f98" stroke-width="0.45" opacity="0.84"/>
<circle cx="83.4" cy="92.8" r="2.38" fill="#14ccd2" stroke="#078f98" stroke-width="0.45" opacity="0.94"/>
<circle cx="99.23" cy="81.44" r="2.34" fill="#14ccd2" stroke="#078f98" stroke-width="0.45" opacity="0.81"/>
<circle cx="98.53" cy="80.74" r="0.94" fill="#3fe0e6" opacity="0.6"/>
<circle cx="68.07" cy="121.96" r="2.34" fill="#3fe0e6" stroke="#078f98" stroke-width="0.45" opacity="0.77"/>
<circle cx="71.81" cy="114.34" r="2.13" fill="#0cbcc4" stroke="#078f98" stroke-width="0.45" opacity="0.85"/>
<circle cx="71.17" cy="113.7" r="0.85" fill="#3fe0e6" opacity="0.6"/>
<circle cx="78.11" cy="87.9" r="2.49" fill="#0cbcc4" stroke="#078f98" stroke-width="0.45" opacity="0.73"/>
<circle cx="80.28" cy="76.96" r="2.54" fill="#3fe0e6" opacity="0.52"/>
<circle cx="79.52" cy="76.2" r="1.01" fill="#3fe0e6" opacity="0.6"/>
<circle cx="99.39" cy="106.07" r="2.2" fill="#0aa6ae" opacity="0.37"/>
<circle cx="98.73" cy="105.41" r="0.88" fill="#3fe0e6" opacity="0.6"/>
<circle cx="76.3" cy="112.67" r="2.64" fill="#0cbcc4" opacity="0.39"/>
<circle cx="59.06" cy="106.18" r="1.21" fill="#14ccd2" opacity="0.55"/>
<circle cx="79.44" cy="96.35" r="1.31" fill="#14ccd2" stroke="#078f98" stroke-width="0.45" opacity="0.71"/>
<circle cx="91.66" cy="111.72" r="1.81" fill="#14ccd2" opacity="0.43"/>
<circle cx="91.11" cy="111.18" r="0.72" fill="#3fe0e6" opacity="0.6"/>
<circle cx="86.25" cy="126.6" r="2.65" fill="#0cbcc4" stroke="#078f98" stroke-width="0.45" opacity="0.63"/>
<circle cx="81.37" cy="81.52" r="1.94" fill="#0cbcc4" stroke="#078f98" stroke-width="0.45" opacity="0.91"/>
<circle cx="69.21" cy="127.61" r="1.52" fill="#0aa6ae" opacity="0.68"/>
<circle cx="66.14" cy="106.58" r="1.72" fill="#0cbcc4" opacity="0.38"/>
<circle cx="65.63" cy="106.07" r="0.69" fill="#3fe0e6" opacity="0.6"/>
<circle cx="80.5" cy="126.79" r="1.73" fill="#0aa6ae" opacity="0.55"/>
<circle cx="66.05" cy="110.53" r="2.13" fill="#0aa6ae" opacity="0.55"/>
<circle cx="58.6" cy="104.74" r="1.2" fill="#14ccd2" stroke="#078f98" stroke-width="0.45" opacity="0.84"/>
<circle cx="88.37" cy="97.54" r="2.32" fill="#14ccd2" stroke="#078f98" stroke-width="0.45" opacity="0.68"/>
<circle cx="62.11" cy="101.57" r="2.45" fill="#14ccd2" stroke="#078f98" stroke-width="0.45" opacity="0.7"/>
<circle cx="61.37" cy="100.83" r="0.98" fill="#3fe0e6" opacity="0.6"/>
<circle cx="60.1" cy="98.42" r="1.43" fill="#3fe0e6" stroke="#078f98" stroke-width="0.45" opacity="0.75"/>
<circle cx="101.53" cy="100.52" r="1.65" fill="#0cbcc4" stroke="#078f98" stroke-width="0.45" opacity="0.86"/>
<circle cx="101.03" cy="100.02" r="0.66" fill="#3fe0e6" opacity="0.6"/>
<circle cx="99.13" cy="104.52" r="1.32" fill="#089ba4" opacity="0.78"/>
<circle cx="68.57" cy="83.25" r="2.01" fill="#3fe0e6" stroke="#078f98" stroke-width="0.45" opacity="0.86"/>
<circle cx="80.02" cy="94.2" r="2.18" fill="#3fe0e6" stroke="#078f98" stroke-width="0.45" opacity="0.72"/>
<circle cx="97.36" cy="85" r="1.24" fill="#0cbcc4" stroke="#078f98" stroke-width="0.45" opacity="0.8"/>
<circle cx="96.99" cy="84.63" r="0.5" fill="#3fe0e6" opacity="0.6"/>
<circle cx="97.65" cy="98.51" r="1.67" fill="#14ccd2" stroke="#078f98" stroke-width="0.45" opacity="0.62"/>
<circle cx="97.15" cy="98.01" r="0.67" fill="#3fe0e6" opacity="0.6"/>
<circle cx="68.54" cy="73.84" r="1.8" fill="#14ccd2" stroke="#078f98" stroke-width="0.45" opacity="0.83"/>
<circle cx="77.31" cy="104.14" r="1.64" fill="#0aa6ae" opacity="0.62"/>
<circle cx="76.82" cy="103.65" r="0.65" fill="#3fe0e6" opacity="0.6"/>
<circle cx="60.73" cy="102.82" r="1.44" fill="#3fe0e6" stroke="#078f98" stroke-width="0.45" opacity="0.87"/>
<circle cx="60.3" cy="102.39" r="0.58" fill="#3fe0e6" opacity="0.6"/>
<circle cx="80.33" cy="82.42" r="2.24" fill="#3fe0e6" stroke="#078f98" stroke-width="0.45" opacity="0.64"/>
<circle cx="64.97" cy="68.23" r="2.18" fill="#3fe0e6" stroke="#078f98" stroke-width="0.45" opacity="0.76"/>
<circle cx="72.88" cy="81.65" r="2.22" fill="#3fe0e6" stroke="#078f98" stroke-width="0.45" opacity="0.86"/>
<circle cx="72.21" cy="80.98" r="0.89" fill="#3fe0e6" opacity="0.6"/>
<circle cx="75.39" cy="80.18" r="2.65" fill="#14ccd2" stroke="#078f98" stroke-width="0.45" opacity="0.91"/>
<circle cx="92.63" cy="92.72" r="2.56" fill="#0cbcc4" stroke="#078f98" stroke-width="0.45" opacity="0.86"/>
<circle cx="91.86" cy="91.95" r="1.02" fill="#3fe0e6" opacity="0.6"/>
<circle cx="80.33" cy="93.5" r="2.67" fill="#0cbcc4" stroke="#078f98" stroke-width="0.45" opacity="0.71"/>
<circle cx="72.11" cy="115.25" r="1.8" fill="#0cbcc4" stroke="#078f98" stroke-width="0.45" opacity="0.82"/>
<circle cx="83.22" cy="118.27" r="1.54" fill="#14ccd2" stroke="#078f98" stroke-width="0.45" opacity="0.7"/>
<circle cx="83.53" cy="94.26" r="1.4" fill="#14ccd2" stroke="#078f98" stroke-width="0.45" opacity="0.63"/>
<circle cx="83.11" cy="93.84" r="0.56" fill="#3fe0e6" opacity="0.6"/>
<circle cx="62.63" cy="87.69" r="2.72" fill="#0cbcc4" opacity="0.72"/>
<circle cx="106.19" cy="90.98" r="1.25" fill="#068c95" opacity="0.62"/>
<circle cx="105.81" cy="90.6" r="0.5" fill="#3fe0e6" opacity="0.6"/>
<circle cx="86.39" cy="124.04" r="2.34" fill="#14ccd2" stroke="#078f98" stroke-width="0.45" opacity="0.93"/>
<circle cx="91.78" cy="120.13" r="1.2" fill="#3fe0e6" stroke="#078f98" stroke-width="0.45" opacity="0.86"/>
<circle cx="91.42" cy="119.77" r="0.48" fill="#3fe0e6" opacity="0.6"/>
<circle cx="70.66" cy="77.37" r="2.36" fill="#068c95" opacity="0.58"/>
<circle cx="69.95" cy="76.66" r="0.94" fill="#3fe0e6" opacity="0.6"/>
<circle cx="86.81" cy="85.66" r="1.53" fill="#0cbcc4" stroke="#078f98" stroke-width="0.45" opacity="0.87"/>
<circle cx="96.02" cy="101.05" r="1.83" fill="#3fe0e6" opacity="0.37"/>
<circle cx="82.64" cy="89.99" r="2.16" fill="#0aa6ae" opacity="0.68"/>
<circle cx="77.52" cy="114.9" r="2.5" fill="#0cbcc4" stroke="#078f98" stroke-width="0.45" opacity="0.73"/>
<circle cx="76.77" cy="114.16" r="1" fill="#3fe0e6" opacity="0.6"/>
<circle cx="74.24" cy="66.65" r="2.04" fill="#14ccd2" stroke="#078f98" stroke-width="0.45" opacity="0.75"/>
<circle cx="76.12" cy="77.99" r="2.39" fill="#0cbcc4" stroke="#078f98" stroke-width="0.45" opacity="0.75"/>
<circle cx="60.82" cy="67" r="2.55" fill="#0cbcc4" stroke="#078f98" stroke-width="0.45" opacity="0.8"/>
<circle cx="60.05" cy="66.23" r="1.02" fill="#3fe0e6" opacity="0.6"/>
<circle cx="81.83" cy="119.04" r="1.97" fill="#14ccd2" stroke="#078f98" stroke-width="0.45" opacity="0.93"/>
<circle cx="91.48" cy="90.66" r="2.67" fill="#14ccd2" stroke="#078f98" stroke-width="0.45" opacity="0.85"/>
<circle cx="60.21" cy="63.79" r="1.49" fill="#14ccd2" opacity="0.45"/>
<circle cx="59.76" cy="63.34" r="0.6" fill="#3fe0e6" opacity="0.6"/>
<circle cx="93.77" cy="104.79" r="1.27" fill="#14ccd2" stroke="#078f98" stroke-width="0.45" opacity="0.81"/>
<circle cx="88.72" cy="88.57" r="2.79" fill="#14ccd2" stroke="#078f98" stroke-width="0.45" opacity="0.68"/>
<circle cx="80.61" cy="113.92" r="2.5" fill="#14ccd2" opacity="0.8"/>
<circle cx="79.86" cy="113.17" r="1" fill="#3fe0e6" opacity="0.6"/>
<circle cx="80.6" cy="130.64" r="2.57" fill="#068c95" opacity="0.36"/>
<circle cx="79.83" cy="129.87" r="1.03" fill="#3fe0e6" opacity="0.6"/>
<circle cx="88.01" cy="105.12" r="1.4" fill="#0cbcc4" stroke="#078f98" stroke-width="0.45" opacity="0.89"/>
<circle cx="87.59" cy="104.7" r="0.56" fill="#3fe0e6" opacity="0.6"/>
<circle cx="71.61" cy="125.31" r="2.07" fill="#14ccd2" stroke="#078f98" stroke-width="0.45" opacity="0.63"/>
<circle cx="71.69" cy="84.29" r="1.99" fill="#3fe0e6" opacity="0.52"/>
<circle cx="71.09" cy="83.7" r="0.79" fill="#3fe0e6" opacity="0.6"/>
<circle cx="60.18" cy="63.34" r="2.74" fill="#0cbcc4" stroke="#078f98" stroke-width="0.45" opacity="0.95"/>
<circle cx="72.52" cy="72.03" r="1.69" fill="#089ba4" opacity="0.77"/>
<circle cx="72.02" cy="71.52" r="0.67" fill="#3fe0e6" opacity="0.6"/>
<circle cx="89.4" cy="101.46" r="1.74" fill="#3fe0e6" stroke="#078f98" stroke-width="0.45" opacity="0.84"/>
<circle cx="88.88" cy="100.94" r="0.7" fill="#3fe0e6" opacity="0.6"/>
<circle cx="92.44" cy="88.66" r="2.5" fill="#14ccd2" stroke="#078f98" stroke-width="0.45" opacity="0.63"/>
<circle cx="64.97" cy="76.21" r="2.78" fill="#068c95" opacity="0.48"/>
<circle cx="88.4" cy="103.27" r="2.11" fill="#3fe0e6" opacity="0.46"/>
<circle cx="80.74" cy="116.75" r="1.48" fill="#0cbcc4" opacity="0.61"/>
<circle cx="80.29" cy="116.31" r="0.59" fill="#3fe0e6" opacity="0.6"/>
<circle cx="84.91" cy="92.64" r="2.31" fill="#0cbcc4" opacity="0.45"/>
<circle cx="70.65" cy="81.57" r="1.57" fill="#089ba4" opacity="0.66"/>
<circle cx="84.86" cy="126.19" r="1.88" fill="#14ccd2" opacity="0.68"/>
<circle cx="84.3" cy="125.63" r="0.75" fill="#3fe0e6" opacity="0.6"/>
<circle cx="65.91" cy="115.9" r="2.25" fill="#14ccd2" stroke="#078f98" stroke-width="0.45" opacity="0.94"/>
<circle cx="65.24" cy="115.23" r="0.9" fill="#3fe0e6" opacity="0.6"/>
<circle cx="93.72" cy="117.71" r="1.43" fill="#0cbcc4" opacity="0.73"/>
<circle cx="72.32" cy="118.71" r="1.54" fill="#089ba4" opacity="0.42"/>
<circle cx="91.37" cy="83.74" r="1.48" fill="#089ba4" opacity="0.58"/>
<circle cx="90.93" cy="83.3" r="0.59" fill="#3fe0e6" opacity="0.6"/>
<circle cx="65.63" cy="67.9" r="2.73" fill="#0aa6ae" opacity="0.65"/>
<circle cx="97.42" cy="91.96" r="2.39" fill="#14ccd2" stroke="#078f98" stroke-width="0.45" opacity="0.85"/>
<circle cx="72.13" cy="99.5" r="1.32" fill="#14ccd2" opacity="0.68"/>
<circle cx="71.57" cy="69.2" r="2.42" fill="#068c95" opacity="0.69"/>
<circle cx="75.24" cy="117.13" r="1.77" fill="#089ba4" opacity="0.72"/>
<circle cx="100.65" cy="103.17" r="1.67" fill="#0cbcc4" opacity="0.78"/>
<circle cx="64.25" cy="95.37" r="2.58" fill="#3fe0e6" stroke="#078f98" stroke-width="0.45" opacity="0.68"/>
<circle cx="59.6" cy="88.07" r="2.36" fill="#0cbcc4" stroke="#078f98" stroke-width="0.45" opacity="0.92"/>
<circle cx="104.73" cy="98.79" r="1.98" fill="#0cbcc4" stroke="#078f98" stroke-width="0.45" opacity="0.63"/>
<circle cx="85.12" cy="102.5" r="2.67" fill="#14ccd2" stroke="#078f98" stroke-width="0.45" opacity="0.84"/>
<circle cx="84.32" cy="101.7" r="1.07" fill="#3fe0e6" opacity="0.6"/>
<circle cx="69.11" cy="97.03" r="1.3" fill="#3fe0e6" stroke="#078f98" stroke-width="0.45" opacity="0.81"/>
<circle cx="68.72" cy="96.64" r="0.52" fill="#3fe0e6" opacity="0.6"/>
<circle cx="79.14" cy="118.48" r="1.93" fill="#0cbcc4" opacity="0.47"/>
<circle cx="78.57" cy="117.9" r="0.77" fill="#3fe0e6" opacity="0.6"/>
<circle cx="59.16" cy="82.7" r="1.36" fill="#3fe0e6" stroke="#078f98" stroke-width="0.45" opacity="0.78"/>
<circle cx="58.76" cy="82.29" r="0.54" fill="#3fe0e6" opacity="0.6"/>
<circle cx="61.25" cy="108.54" r="1.59" fill="#14ccd2" stroke="#078f98" stroke-width="0.45" opacity="0.65"/>
<circle cx="60.77" cy="108.07" r="0.63" fill="#3fe0e6" opacity="0.6"/>
<circle cx="93.94" cy="86.76" r="2.28" fill="#14ccd2" stroke="#078f98" stroke-width="0.45" opacity="0.91"/>
<circle cx="93.25" cy="86.07" r="0.91" fill="#3fe0e6" opacity="0.6"/>
<circle cx="99.36" cy="108.47" r="1.85" fill="#068c95" opacity="0.66"/>
<circle cx="98.81" cy="107.92" r="0.74" fill="#3fe0e6" opacity="0.6"/>
<circle cx="81.54" cy="103.12" r="2.48" fill="#3fe0e6" opacity="0.75"/>
<circle cx="79.01" cy="88.36" r="1.92" fill="#3fe0e6" stroke="#078f98" stroke-width="0.45" opacity="0.9"/>
<circle cx="78.15" cy="71.14" r="1.95" fill="#14ccd2" stroke="#078f98" stroke-width="0.45" opacity="0.77"/>
<circle cx="77.57" cy="70.55" r="0.78" fill="#3fe0e6" opacity="0.6"/>
<circle cx="58.69" cy="86.8" r="2.33" fill="#3fe0e6" stroke="#078f98" stroke-width="0.45" opacity="0.87"/>
<circle cx="57.99" cy="86.1" r="0.93" fill="#3fe0e6" opacity="0.6"/>
<circle cx="65.23" cy="59.86" r="1.99" fill="#0cbcc4" stroke="#078f98" stroke-width="0.45" opacity="0.91"/>
<circle cx="72.39" cy="90.25" r="2.01" fill="#089ba4" opacity="0.79"/>
<circle cx="73.08" cy="131.72" r="1.91" fill="#0cbcc4" stroke="#078f98" stroke-width="0.45" opacity="0.77"/>
<circle cx="79.88" cy="65.1" r="2.33" fill="#0cbcc4" stroke="#078f98" stroke-width="0.45" opacity="0.9"/>
<circle cx="78.68" cy="122.17" r="1.77" fill="#14ccd2" stroke="#078f98" stroke-width="0.45" opacity="0.73"/>
<circle cx="78.86" cy="92.16" r="1.38" fill="#089ba4" opacity="0.75"/>
<circle cx="59.31" cy="86.15" r="1.92" fill="#0aa6ae" opacity="0.48"/>
<circle cx="70.06" cy="84.37" r="1.92" fill="#3fe0e6" stroke="#078f98" stroke-width="0.45" opacity="0.69"/>
<circle cx="96.57" cy="89.59" r="1.24" fill="#14ccd2" opacity="0.71"/>
<circle cx="67.5" cy="125.85" r="1.66" fill="#0cbcc4" stroke="#078f98" stroke-width="0.45" opacity="0.7"/>
<circle cx="88.25" cy="110.69" r="1.27" fill="#14ccd2" opacity="0.61"/>
<circle cx="87.87" cy="110.31" r="0.51" fill="#3fe0e6" opacity="0.6"/>
<circle cx="80.09" cy="123.57" r="2.34" fill="#3fe0e6" stroke="#078f98" stroke-width="0.45" opacity="0.78"/>
<circle cx="63.44" cy="93.31" r="2.03" fill="#3fe0e6" opacity="0.73"/>
<circle cx="86.21" cy="93.29" r="2.7" fill="#14ccd2" opacity="0.47"/>
<circle cx="85.4" cy="92.48" r="1.08" fill="#3fe0e6" opacity="0.6"/>
<circle cx="67.06" cy="108.4" r="1.21" fill="#0cbcc4" stroke="#078f98" stroke-width="0.45" opacity="0.68"/>
<circle cx="66.7" cy="108.03" r="0.48" fill="#3fe0e6" opacity="0.6"/>
<circle cx="60.26" cy="85.02" r="2.46" fill="#14ccd2" stroke="#078f98" stroke-width="0.45" opacity="0.86"/>
<circle cx="64.58" cy="118.19" r="2.15" fill="#3fe0e6" stroke="#078f98" stroke-width="0.45" opacity="0.7"/>
<circle cx="107.69" cy="93.6" r="2.69" fill="#089ba4" opacity="0.6"/>
<circle cx="106.88" cy="92.79" r="1.08" fill="#3fe0e6" opacity="0.6"/>
<circle cx="80.63" cy="94.86" r="1.98" fill="#14ccd2" stroke="#078f98" stroke-width="0.45" opacity="0.87"/>
<circle cx="56.37" cy="103.46" r="1.52" fill="#0cbcc4" stroke="#078f98" stroke-width="0.45" opacity="0.85"/>
<circle cx="55.91" cy="103.01" r="0.61" fill="#3fe0e6" opacity="0.6"/>
<circle cx="97.33" cy="97.23" r="1.54" fill="#3fe0e6" stroke="#078f98" stroke-width="0.45" opacity="0.71"/>
<circle cx="96.87" cy="96.77" r="0.62" fill="#3fe0e6" opacity="0.6"/>
<circle cx="70.67" cy="63.26" r="2.1" fill="#14ccd2" stroke="#078f98" stroke-width="0.45" opacity="0.75"/>
<circle cx="59.54" cy="94.29" r="2.17" fill="#3fe0e6" stroke="#078f98" stroke-width="0.45" opacity="0.82"/>
<circle cx="71.32" cy="74.24" r="1.87" fill="#14ccd2" opacity="0.58"/>
<circle cx="106.58" cy="86.46" r="2.23" fill="#3fe0e6" stroke="#078f98" stroke-width="0.45" opacity="0.87"/>
<circle cx="62.09" cy="68.19" r="1.48" fill="#14ccd2" stroke="#078f98" stroke-width="0.45" opacity="0.83"/>
<circle cx="81.16" cy="128.48" r="2.25" fill="#3fe0e6" stroke="#078f98" stroke-width="0.45" opacity="0.82"/>
<circle cx="80.48" cy="127.81" r="0.9" fill="#3fe0e6" opacity="0.6"/>
<circle cx="92.9" cy="109.8" r="1.39" fill="#3fe0e6" stroke="#078f98" stroke-width="0.45" opacity="0.91"/>
<circle cx="63.83" cy="64.66" r="2.13" fill="#14ccd2" opacity="0.58"/>
<circle cx="83" cy="82.39" r="1.27" fill="#0cbcc4" stroke="#078f98" stroke-width="0.45" opacity="0.7"/>
<circle cx="82.62" cy="82.01" r="0.51" fill="#3fe0e6" opacity="0.6"/>
<circle cx="65.25" cy="122.78" r="2.42" fill="#3fe0e6" stroke="#078f98" stroke-width="0.45" opacity="0.64"/>
<circle cx="63.1" cy="108.95" r="2.75" fill="#0cbcc4" opacity="0.51"/>
<circle cx="62.28" cy="108.12" r="1.1" fill="#3fe0e6" opacity="0.6"/>
<circle cx="71.38" cy="76.03" r="2.69" fill="#3fe0e6" stroke="#078f98" stroke-width="0.45" opacity="0.83"/>
<circle cx="70.57" cy="75.23" r="1.07" fill="#3fe0e6" opacity="0.6"/>
<circle cx="76.95" cy="113.04" r="1.43" fill="#0cbcc4" stroke="#078f98" stroke-width="0.45" opacity="0.62"/>
<circle cx="76.52" cy="112.61" r="0.57" fill="#3fe0e6" opacity="0.6"/>
<circle cx="76.15" cy="90.34" r="1.36" fill="#068c95" opacity="0.79"/>
<circle cx="75.74" cy="89.94" r="0.54" fill="#3fe0e6" opacity="0.6"/>
<circle cx="63.11" cy="77.05" r="1.48" fill="#3fe0e6" stroke="#078f98" stroke-width="0.45" opacity="0.74"/>
<circle cx="62.66" cy="76.6" r="0.59" fill="#3fe0e6" opacity="0.6"/>
<circle cx="70.68" cy="60.71" r="1.84" fill="#14ccd2" stroke="#078f98" stroke-width="0.45" opacity="0.74"/>
<circle cx="81.59" cy="118.74" r="2.43" fill="#3fe0e6" stroke="#078f98" stroke-width="0.45" opacity="0.72"/>
<circle cx="59.43" cy="78.26" r="2.78" fill="#068c95" opacity="0.69"/>
<circle cx="92.81" cy="99.51" r="1.4" fill="#0aa6ae" opacity="0.76"/>
<circle cx="93.57" cy="110.38" r="1.95" fill="#3fe0e6" stroke="#078f98" stroke-width="0.45" opacity="0.81"/>
<circle cx="92.99" cy="109.8" r="0.78" fill="#3fe0e6" opacity="0.6"/>
<circle cx="74.03" cy="75.48" r="2.26" fill="#3fe0e6" stroke="#078f98" stroke-width="0.45" opacity="0.68"/>
<circle cx="73.35" cy="74.81" r="0.9" fill="#3fe0e6" opacity="0.6"/>
<circle cx="61.8" cy="65.28" r="2.5" fill="#068c95" opacity="0.58"/>
<circle cx="61.05" cy="64.53" r="1" fill="#3fe0e6" opacity="0.6"/>
<circle cx="107.63" cy="90.83" r="2.64" fill="#068c95" opacity="0.36"/>
<circle cx="106.84" cy="90.04" r="1.06" fill="#3fe0e6" opacity="0.6"/>
<circle cx="73.05" cy="80.1" r="1.78" fill="#0cbcc4" stroke="#078f98" stroke-width="0.45" opacity="0.65"/>
<circle cx="81.87" cy="121.56" r="2.79" fill="#14ccd2" opacity="0.75"/>
<circle cx="81.03" cy="120.72" r="1.12" fill="#3fe0e6" opacity="0.6"/>
<circle cx="97.11" cy="103.3" r="1.77" fill="#14ccd2" opacity="0.74"/>
<circle cx="96.58" cy="102.77" r="0.71" fill="#3fe0e6" opacity="0.6"/>
<circle cx="73.19" cy="84.35" r="2.46" fill="#0aa6ae" opacity="0.38"/>
<circle cx="72.9" cy="90.75" r="2.59" fill="#14ccd2" stroke="#078f98" stroke-width="0.45" opacity="0.91"/>
<circle cx="72.12" cy="89.97" r="1.04" fill="#3fe0e6" opacity="0.6"/>
<circle cx="79.73" cy="80.93" r="1.79" fill="#0cbcc4" opacity="0.64"/>
<circle cx="103.25" cy="104.13" r="1.84" fill="#0cbcc4" opacity="0.61"/>
<circle cx="72.31" cy="114.79" r="1.55" fill="#3fe0e6" stroke="#078f98" stroke-width="0.45" opacity="0.72"/>
<circle cx="71.85" cy="114.33" r="0.62" fill="#3fe0e6" opacity="0.6"/>
<circle cx="68.11" cy="80.19" r="1.29" fill="#0cbcc4" stroke="#078f98" stroke-width="0.45" opacity="0.68"/>
<circle cx="68.47" cy="63.39" r="1.79" fill="#0cbcc4" stroke="#078f98" stroke-width="0.45" opacity="0.7"/>
<circle cx="67.93" cy="62.86" r="0.72" fill="#3fe0e6" opacity="0.6"/>
<circle cx="104.6" cy="87.23" r="2.05" fill="#0cbcc4" stroke="#078f98" stroke-width="0.45" opacity="0.63"/>
<circle cx="60.05" cy="108.27" r="2.1" fill="#14ccd2" stroke="#078f98" stroke-width="0.45" opacity="0.85"/>
<circle cx="59.42" cy="107.64" r="0.84" fill="#3fe0e6" opacity="0.6"/>
<path d="M56.48,62.44C57.03,60.85 57.61,61.01 59.33,60.11C61.06,59.21 61.03,58.8 62.96,59.07C64.9,59.35 65.35,59.9 66.59,61.15C67.84,62.39 68.11,62.7 67.63,63.74C67.15,64.78 66.09,64 64.78,65.04C63.46,66.07 64.16,66.73 62.7,67.63C61.25,68.53 60.79,68.82 59.33,68.41C57.88,67.99 58.02,67.66 57.26,66.07C56.5,64.48 55.93,64.04 56.48,62.44Z" fill="#e4222f"/>
<circle cx="60.44" cy="59.99" r="1.14" fill="#f9525e" opacity="0.53"/>
<circle cx="56.99" cy="64.8" r="0.93" fill="#b01828" opacity="0.49"/>
<circle cx="64.6" cy="61.49" r="1.1" fill="#b01828" opacity="0.73"/>
<circle cx="61.65" cy="63.84" r="1.36" fill="#f9525e" opacity="0.74"/>
<circle cx="58.58" cy="67.17" r="0.77" fill="#f9525e" opacity="0.66"/>
<circle cx="61.69" cy="61.58" r="1.35" fill="#b01828" opacity="0.52"/>
<circle cx="59.49" cy="60.84" r="0.89" fill="#f9525e" opacity="0.53"/>
<circle cx="62.56" cy="65.37" r="0.81" fill="#f9525e" opacity="0.46"/>
<circle cx="60.62" cy="61.47" r="1.16" fill="#b01828" opacity="0.76"/>
<circle cx="59.81" cy="64.21" r="1.26" fill="#f9525e" opacity="0.56"/>
<circle cx="61.87" cy="64.89" r="1.14" fill="#f9525e" opacity="0.8"/>
<circle cx="59.15" cy="66.55" r="1.09" fill="#f9525e" opacity="0.5"/>
<circle cx="58.96" cy="66.03" r="1.34" fill="#b01828" opacity="0.76"/>
<circle cx="60.23" cy="60.45" r="1.22" fill="#f9525e" opacity="0.59"/>
<circle cx="59.75" cy="60.34" r="1.39" fill="#b01828" opacity="0.45"/>
<circle cx="60.16" cy="67.15" r="0.92" fill="#f9525e" opacity="0.57"/>
<circle cx="59.21" cy="67.65" r="1.38" fill="#f9525e" opacity="0.71"/>
<path d="M68.15,60.37C68.67,58.92 69.49,59.21 71.39,59.07C73.29,58.94 73.52,59.16 75.28,59.85C77.04,60.54 76.86,60.49 78,61.67C79.14,62.84 80.04,63.08 79.56,64.26C79.07,65.44 78.12,65.87 76.19,66.07C74.25,66.28 74.09,65.45 72.3,65.04C70.5,64.62 70.55,65.76 69.45,64.52C68.34,63.27 67.63,61.82 68.15,60.37Z" fill="#e4222f"/>
<circle cx="69.88" cy="63.52" r="1.38" fill="#b01828" opacity="0.46"/>
<circle cx="72.77" cy="64.55" r="1.36" fill="#b01828" opacity="0.62"/>
<circle cx="74.78" cy="60.82" r="1.25" fill="#f9525e" opacity="0.43"/>
<circle cx="68.29" cy="60.44" r="0.93" fill="#f9525e" opacity="0.66"/>
<circle cx="77.87" cy="63.1" r="1.19" fill="#b01828" opacity="0.78"/>
<circle cx="75.79" cy="65.9" r="1.21" fill="#f9525e" opacity="0.43"/>
<circle cx="75.91" cy="61.14" r="0.85" fill="#b01828" opacity="0.54"/>
<circle cx="71.77" cy="64.24" r="1.32" fill="#b01828" opacity="0.62"/>
<circle cx="72.36" cy="60.13" r="1.18" fill="#f9525e" opacity="0.5"/>
<circle cx="74.25" cy="64.17" r="1.2" fill="#f9525e" opacity="0.47"/>
<circle cx="76.32" cy="64.61" r="0.79" fill="#b01828" opacity="0.57"/>
<circle cx="69.86" cy="61.18" r="1.24" fill="#f9525e" opacity="0.78"/>
<circle cx="74.47" cy="62.71" r="1.13" fill="#f9525e" opacity="0.69"/>
<path d="M77.74,65.82C78.64,64.64 79.89,64.93 80.85,67.63C81.82,70.33 81.86,73.23 81.37,75.93C80.89,78.62 80.08,78.78 79.04,77.74C78,76.7 77.83,75.22 77.48,72.04C77.14,68.86 76.84,66.99 77.74,65.82Z" fill="#e4222f"/>
<circle cx="77.8" cy="67.47" r="1.25" fill="#f9525e" opacity="0.66"/>
<circle cx="80.61" cy="68.34" r="1.26" fill="#b01828" opacity="0.42"/>
<circle cx="78.36" cy="67.49" r="0.91" fill="#b01828" opacity="0.52"/>
<circle cx="78.25" cy="74.4" r="1.26" fill="#f9525e" opacity="0.41"/>
<circle cx="79.58" cy="74.7" r="0.97" fill="#f9525e" opacity="0.8"/>
<circle cx="78.31" cy="66.98" r="0.74" fill="#f9525e" opacity="0.69"/>
<circle cx="78.16" cy="70.98" r="0.7" fill="#b01828" opacity="0.69"/>
<path d="M81.76,79.17C83.14,78.65 84.74,78.95 86.3,79.82C87.85,80.68 88.29,81.37 87.59,82.41C86.9,83.45 85.43,83.88 83.7,83.7C81.98,83.53 81.63,82.97 81.11,81.76C80.59,80.55 80.38,79.69 81.76,79.17Z" fill="#e4222f"/>
<circle cx="86.38" cy="80.69" r="1.08" fill="#f9525e" opacity="0.75"/>
<circle cx="83.64" cy="82.18" r="0.74" fill="#f9525e" opacity="0.73"/>
<circle cx="81.99" cy="81.35" r="1.02" fill="#f9525e" opacity="0.71"/>
<circle cx="82.11" cy="82.27" r="1.36" fill="#f9525e" opacity="0.74"/>
<path d="M71.39,88.89C72.43,87.51 73.33,87.29 75.93,86.95C78.52,86.6 79.21,86.56 81.11,87.59C83.01,88.63 83.4,89.45 83.06,90.83C82.71,92.22 81.72,92.09 79.82,92.78C77.91,93.47 78,93.6 75.93,93.43C73.85,93.25 73.25,93.34 72.04,92.13C70.83,90.92 70.35,90.27 71.39,88.89Z" fill="#e4222f"/>
<circle cx="73.48" cy="89.93" r="1.17" fill="#f9525e" opacity="0.52"/>
<circle cx="75" cy="91" r="1.32" fill="#b01828" opacity="0.56"/>
<circle cx="78.87" cy="87.53" r="1.3" fill="#f9525e" opacity="0.55"/>
<circle cx="81.24" cy="89.52" r="0.85" fill="#f9525e" opacity="0.74"/>
<circle cx="81.87" cy="89.96" r="1.24" fill="#f9525e" opacity="0.48"/>
<circle cx="71.97" cy="90.13" r="0.75" fill="#f9525e" opacity="0.52"/>
<circle cx="71.72" cy="90.15" r="0.85" fill="#f9525e" opacity="0.52"/>
<circle cx="81.1" cy="89.37" r="1.12" fill="#f9525e" opacity="0.63"/>
<circle cx="74.71" cy="91.07" r="0.97" fill="#f9525e" opacity="0.71"/>
<circle cx="72.87" cy="89.55" r="0.71" fill="#f9525e" opacity="0.73"/>
<circle cx="77.43" cy="92.75" r="1.2" fill="#f9525e" opacity="0.62"/>
<circle cx="77.35" cy="89.08" r="0.88" fill="#f9525e" opacity="0.71"/>
<path d="M92.78,84.35C93.82,83.14 95.2,83.1 97.96,82.41C100.73,81.72 101.08,81.24 103.15,81.76C105.22,82.28 105.57,82.8 105.74,84.35C105.92,85.91 105.01,86.38 103.8,87.59C102.59,88.8 101.72,87.51 101.21,88.89C100.69,90.27 102.55,91.57 101.85,92.78C101.16,93.99 99.82,94.29 98.61,93.43C97.4,92.56 98.53,91.27 97.32,89.54C96.11,87.81 95.29,88.33 94.08,86.95C92.87,85.56 91.74,85.56 92.78,84.35Z" fill="#e4222f"/>
<circle cx="102.05" cy="83.54" r="1.34" fill="#f9525e" opacity="0.54"/>
<circle cx="100.99" cy="85.65" r="1.24" fill="#b01828" opacity="0.68"/>
<circle cx="100.95" cy="84.03" r="1.13" fill="#f9525e" opacity="0.77"/>
<circle cx="96.77" cy="83" r="1.09" fill="#f9525e" opacity="0.68"/>
<circle cx="96.14" cy="83.69" r="1.01" fill="#f9525e" opacity="0.78"/>
<circle cx="97.39" cy="83.64" r="1.02" fill="#f9525e" opacity="0.78"/>
<circle cx="95.49" cy="84.79" r="1.08" fill="#b01828" opacity="0.6"/>
<circle cx="96.5" cy="88.16" r="0.98" fill="#f9525e" opacity="0.49"/>
<circle cx="101.57" cy="83.76" r="1.31" fill="#f9525e" opacity="0.52"/>
<circle cx="101.49" cy="87.09" r="1.26" fill="#f9525e" opacity="0.62"/>
<circle cx="93.65" cy="84.25" r="0.71" fill="#b01828" opacity="0.65"/>
<circle cx="98.01" cy="85.92" r="1" fill="#f9525e" opacity="0.61"/>
<circle cx="98.71" cy="82.53" r="0.98" fill="#f9525e" opacity="0.63"/>
<circle cx="97.5" cy="86.35" r="1.05" fill="#b01828" opacity="0.66"/>
<circle cx="105.34" cy="84.34" r="0.81" fill="#f9525e" opacity="0.59"/>
<circle cx="96.92" cy="84.45" r="1.17" fill="#b01828" opacity="0.47"/>
<circle cx="103.14" cy="85.72" r="0.89" fill="#b01828" opacity="0.61"/>
<circle cx="98.47" cy="92.38" r="0.79" fill="#b01828" opacity="0.61"/>
<circle cx="96.15" cy="88.05" r="0.95" fill="#f9525e" opacity="0.5"/>
<circle cx="98.84" cy="84.96" r="0.98" fill="#b01828" opacity="0.41"/>
<circle cx="94.33" cy="86.37" r="1.37" fill="#b01828" opacity="0.71"/>
<circle cx="95.76" cy="85.75" r="0.71" fill="#f9525e" opacity="0.55"/>
<circle cx="100.45" cy="90.48" r="1.04" fill="#f9525e" opacity="0.71"/>
<circle cx="102.03" cy="87.99" r="1.15" fill="#b01828" opacity="0.63"/>
<circle cx="96.45" cy="85.08" r="0.79" fill="#f9525e" opacity="0.46"/>
<path d="M72.69,101.85C73.72,100.13 74.63,99.65 77.22,98.61C79.82,97.58 79.64,98.48 82.41,97.96C85.17,97.45 85.35,96.5 87.59,96.67C89.84,96.84 90.32,97.23 90.83,98.61C91.35,100 91.09,100.64 89.54,101.85C87.98,103.06 87.08,102.11 85,103.15C82.93,104.19 83.83,104.71 81.76,105.74C79.69,106.78 79.47,107.21 77.22,107.04C74.98,106.87 74.54,106.48 73.33,105.09C72.12,103.71 71.65,103.58 72.69,101.85Z" fill="#e4222f"/>
<circle cx="79.58" cy="105.63" r="1.31" fill="#b01828" opacity="0.66"/>
<circle cx="83.07" cy="98.99" r="1.06" fill="#b01828" opacity="0.63"/>
<circle cx="86.73" cy="99.73" r="0.87" fill="#f9525e" opacity="0.49"/>
<circle cx="77.22" cy="104.86" r="0.75" fill="#b01828" opacity="0.74"/>
<circle cx="79.8" cy="103.24" r="0.95" fill="#f9525e" opacity="0.74"/>
<circle cx="84.47" cy="103.55" r="0.95" fill="#b01828" opacity="0.77"/>
<circle cx="86.76" cy="98.62" r="1.28" fill="#f9525e" opacity="0.47"/>
<circle cx="74.3" cy="101.65" r="0.81" fill="#f9525e" opacity="0.66"/>
<circle cx="75.58" cy="102.59" r="1.18" fill="#f9525e" opacity="0.64"/>
<circle cx="83.34" cy="103.93" r="1.25" fill="#f9525e" opacity="0.54"/>
<circle cx="78.07" cy="106.06" r="0.95" fill="#b01828" opacity="0.61"/>
<circle cx="82.52" cy="103.37" r="1.29" fill="#b01828" opacity="0.46"/>
<circle cx="75.86" cy="105.7" r="1.05" fill="#f9525e" opacity="0.62"/>
<circle cx="80.26" cy="103.77" r="1.3" fill="#b01828" opacity="0.41"/>
<circle cx="81.35" cy="101.82" r="1.34" fill="#f9525e" opacity="0.43"/>
<circle cx="87.8" cy="97.83" r="1.24" fill="#f9525e" opacity="0.44"/>
<circle cx="87.77" cy="97.25" r="0.95" fill="#b01828" opacity="0.55"/>
<circle cx="78.19" cy="101.7" r="1.19" fill="#b01828" opacity="0.52"/>
<circle cx="78.78" cy="103.99" r="1.02" fill="#f9525e" opacity="0.47"/>
<circle cx="74.7" cy="104.34" r="0.83" fill="#b01828" opacity="0.77"/>
<circle cx="78.73" cy="103.64" r="1.09" fill="#f9525e" opacity="0.76"/>
<circle cx="87.39" cy="100.94" r="1.06" fill="#b01828" opacity="0.58"/>
<circle cx="89.09" cy="97.79" r="0.73" fill="#f9525e" opacity="0.46"/>
<circle cx="88.05" cy="98.57" r="1.27" fill="#f9525e" opacity="0.45"/>
<circle cx="82.26" cy="100.43" r="1.12" fill="#b01828" opacity="0.7"/>
<circle cx="82.46" cy="98.46" r="0.99" fill="#f9525e" opacity="0.62"/>
<circle cx="79.56" cy="102.77" r="0.93" fill="#b01828" opacity="0.76"/>
<circle cx="76.23" cy="105.46" r="1.16" fill="#f9525e" opacity="0.73"/>
<circle cx="75.15" cy="101.94" r="1.07" fill="#f9525e" opacity="0.67"/>
<circle cx="78.38" cy="100.12" r="1.12" fill="#b01828" opacity="0.49"/>
<circle cx="79.56" cy="102.4" r="1.08" fill="#f9525e" opacity="0.51"/>
<path d="M79.82,112.22C80.16,110.67 81.29,109.85 83.7,108.98C86.12,108.12 86.47,108.47 88.89,108.98C91.31,109.5 90.71,110.24 92.78,110.93C94.85,111.62 94.77,110.71 96.67,111.58C98.57,112.44 99.56,112.96 99.91,114.17C100.25,115.38 99.87,115.6 97.96,116.11C96.06,116.63 95.54,116.29 92.78,116.11C90.01,115.94 90.36,115.81 87.59,115.47C84.83,115.12 84.48,115.68 82.41,114.82C80.33,113.95 79.47,113.78 79.82,112.22Z" fill="#e4222f"/>
<circle cx="93.95" cy="113.77" r="1.16" fill="#b01828" opacity="0.44"/>
<circle cx="88.72" cy="109.49" r="1.19" fill="#b01828" opacity="0.48"/>
<circle cx="84.75" cy="111.48" r="1.22" fill="#f9525e" opacity="0.55"/>
<circle cx="86.15" cy="113.54" r="0.79" fill="#f9525e" opacity="0.42"/>
<circle cx="97.67" cy="112.85" r="1.32" fill="#b01828" opacity="0.42"/>
<circle cx="89.92" cy="110.46" r="1.26" fill="#b01828" opacity="0.79"/>
<circle cx="95.17" cy="115.28" r="0.9" fill="#f9525e" opacity="0.52"/>
<circle cx="87.18" cy="111.49" r="1.31" fill="#f9525e" opacity="0.43"/>
<circle cx="94.27" cy="111.47" r="1.29" fill="#f9525e" opacity="0.51"/>
<circle cx="97.39" cy="112.21" r="0.88" fill="#b01828" opacity="0.51"/>
<circle cx="89.5" cy="112.84" r="1.14" fill="#b01828" opacity="0.72"/>
<circle cx="88.68" cy="115.58" r="1" fill="#f9525e" opacity="0.77"/>
<circle cx="93.29" cy="112.15" r="1.36" fill="#b01828" opacity="0.65"/>
<circle cx="84.29" cy="114.03" r="0.78" fill="#b01828" opacity="0.79"/>
<circle cx="88.55" cy="109.58" r="0.79" fill="#f9525e" opacity="0.45"/>
<circle cx="90.08" cy="112.39" r="0.86" fill="#f9525e" opacity="0.61"/>
<circle cx="81.99" cy="111.19" r="0.87" fill="#f9525e" opacity="0.56"/>
<circle cx="97.95" cy="114.42" r="1.38" fill="#f9525e" opacity="0.53"/>
<circle cx="86.48" cy="111.92" r="0.73" fill="#f9525e" opacity="0.52"/>
<circle cx="96.91" cy="113.6" r="1.01" fill="#f9525e" opacity="0.69"/>
<circle cx="86.35" cy="109.89" r="0.81" fill="#f9525e" opacity="0.67"/>
<circle cx="92.92" cy="114.43" r="0.9" fill="#f9525e" opacity="0.79"/>
<circle cx="86.39" cy="113.46" r="1.34" fill="#b01828" opacity="0.79"/>
<path d="M101.85,101.21C102.2,99.82 103.11,99.05 103.8,99.91C104.49,100.77 104.79,103.06 104.45,104.45C104.1,105.83 103.19,105.96 102.5,105.09C101.81,104.23 101.51,102.59 101.85,101.21Z" fill="#e4222f"/>
<circle cx="103.32" cy="104.81" r="1.31" fill="#f9525e" opacity="0.48"/>
<circle cx="103.95" cy="102.34" r="1.06" fill="#b01828" opacity="0.66"/>
</g>
<path d="M54,113.5C56,111.4 61.2,112 64,113.5C66.8,115 66.4,117.1 68,121C69.6,124.9 72.8,130.8 72,133C71.2,135.2 67.6,133.8 64,132C60.4,130.2 56,127.7 54,124C52,120.3 52,115.6 54,113.5Z" fill="#ffffff" opacity="0.3"/>
<path d="M85.5,117C86.8,114.7 89.3,115.3 93,114.5C96.7,113.7 101.8,111.3 104,113C106.2,114.7 105.8,120.2 104,123C102.2,125.8 98.5,126.4 95,127C91.5,127.6 88.4,128 86.5,126C84.6,124 84.2,119.3 85.5,117Z" fill="#ffffff" opacity="0.3"/>
</g>
<defs><clipPath id="cpntd"><path d="M216.02,71.02C216.78,69.51 217.6,68.58 219.26,68.43C220.92,68.27 221.33,69.46 223.15,70.37C224.96,71.28 225.22,72.32 227.04,72.32C228.85,72.32 229.26,70.98 230.93,70.37C232.59,69.77 232.35,69.57 234.17,69.72C235.98,69.87 237.34,71.78 238.7,71.02C240.07,70.26 239.09,67.69 240,66.48C240.91,65.27 241.08,65.23 242.59,65.83C244.11,66.44 244.67,68.02 246.48,69.07C248.3,70.13 248.41,70.22 250.37,70.37C252.34,70.52 252.79,69.12 254.91,69.72C257.03,70.33 257.48,71.6 259.45,72.96C261.41,74.32 261.52,74.35 263.34,75.56C265.15,76.77 265.41,77.24 267.22,78.15C269.04,79.06 269.9,78.39 271.11,79.45C272.32,80.5 272.86,81.32 272.41,82.69C271.96,84.05 270.38,83.77 269.17,85.28C267.96,86.79 267.98,87.2 267.22,89.17C266.47,91.13 266.38,91.44 265.93,93.7C265.47,95.97 265.58,96.47 265.28,98.89C264.98,101.31 264.93,101.66 264.63,104.08C264.33,106.5 264.44,107.14 263.98,109.26C263.53,111.38 263.14,111.03 262.69,113.15C262.23,115.27 262.04,115.92 262.04,118.34C262.04,120.76 262.38,121.1 262.69,123.52C262.99,125.94 263.49,126.29 263.34,128.71C263.18,131.13 262.95,131.77 262.04,133.89C261.13,136.01 261.11,136.12 259.45,137.78C257.78,139.44 256.88,140.42 254.91,141.02C252.94,141.63 252.68,141.13 251.02,140.37C249.36,139.62 249.44,138.84 247.78,137.78C246.12,136.72 245.1,137.2 243.89,135.84C242.68,134.47 243.8,133.31 242.59,131.95C241.38,130.59 240.52,130.31 238.7,130C236.89,129.7 236.63,130.2 234.82,130.65C233,131.1 232.59,132.4 230.93,131.95C229.26,131.49 228.9,130.52 227.69,128.71C226.48,126.89 226.04,126.14 225.74,124.17C225.44,122.2 226.69,121.94 226.39,120.28C226.09,118.62 225.2,118.7 224.45,117.04C223.69,115.38 223.75,114.96 223.15,113.15C222.54,111.34 222.76,111.38 221.85,109.26C220.95,107.14 220.17,106.19 219.26,104.08C218.35,101.96 217.81,102 217.96,100.19C218.11,98.37 219.61,98.11 219.91,96.3C220.21,94.48 218.96,94.22 219.26,92.41C219.56,90.59 221.2,90.03 221.2,88.52C221.2,87.01 220.92,86.53 219.26,85.93C217.6,85.32 216.19,86.38 214.07,85.93C211.96,85.47 210.94,85.19 210.19,83.98C209.43,82.77 209.93,82.1 210.83,80.74C211.74,79.38 212.86,79.51 214.07,78.15C215.28,76.79 215.57,76.57 216.02,74.91C216.47,73.24 215.26,72.53 216.02,71.02Z"/></clipPath><filter id="blntd" x="-5%" y="-5%" width="110%" height="110%"><feGaussianBlur stdDeviation="0.45"/></filter></defs>
<g filter="url(#blntd)">
<path d="M216.02,71.02C216.78,69.51 217.6,68.58 219.26,68.43C220.92,68.27 221.33,69.46 223.15,70.37C224.96,71.28 225.22,72.32 227.04,72.32C228.85,72.32 229.26,70.98 230.93,70.37C232.59,69.77 232.35,69.57 234.17,69.72C235.98,69.87 237.34,71.78 238.7,71.02C240.07,70.26 239.09,67.69 240,66.48C240.91,65.27 241.08,65.23 242.59,65.83C244.11,66.44 244.67,68.02 246.48,69.07C248.3,70.13 248.41,70.22 250.37,70.37C252.34,70.52 252.79,69.12 254.91,69.72C257.03,70.33 257.48,71.6 259.45,72.96C261.41,74.32 261.52,74.35 263.34,75.56C265.15,76.77 265.41,77.24 267.22,78.15C269.04,79.06 269.9,78.39 271.11,79.45C272.32,80.5 272.86,81.32 272.41,82.69C271.96,84.05 270.38,83.77 269.17,85.28C267.96,86.79 267.98,87.2 267.22,89.17C266.47,91.13 266.38,91.44 265.93,93.7C265.47,95.97 265.58,96.47 265.28,98.89C264.98,101.31 264.93,101.66 264.63,104.08C264.33,106.5 264.44,107.14 263.98,109.26C263.53,111.38 263.14,111.03 262.69,113.15C262.23,115.27 262.04,115.92 262.04,118.34C262.04,120.76 262.38,121.1 262.69,123.52C262.99,125.94 263.49,126.29 263.34,128.71C263.18,131.13 262.95,131.77 262.04,133.89C261.13,136.01 261.11,136.12 259.45,137.78C257.78,139.44 256.88,140.42 254.91,141.02C252.94,141.63 252.68,141.13 251.02,140.37C249.36,139.62 249.44,138.84 247.78,137.78C246.12,136.72 245.1,137.2 243.89,135.84C242.68,134.47 243.8,133.31 242.59,131.95C241.38,130.59 240.52,130.31 238.7,130C236.89,129.7 236.63,130.2 234.82,130.65C233,131.1 232.59,132.4 230.93,131.95C229.26,131.49 228.9,130.52 227.69,128.71C226.48,126.89 226.04,126.14 225.74,124.17C225.44,122.2 226.69,121.94 226.39,120.28C226.09,118.62 225.2,118.7 224.45,117.04C223.69,115.38 223.75,114.96 223.15,113.15C222.54,111.34 222.76,111.38 221.85,109.26C220.95,107.14 220.17,106.19 219.26,104.08C218.35,101.96 217.81,102 217.96,100.19C218.11,98.37 219.61,98.11 219.91,96.3C220.21,94.48 218.96,94.22 219.26,92.41C219.56,90.59 221.2,90.03 221.2,88.52C221.2,87.01 220.92,86.53 219.26,85.93C217.6,85.32 216.19,86.38 214.07,85.93C211.96,85.47 210.94,85.19 210.19,83.98C209.43,82.77 209.93,82.1 210.83,80.74C211.74,79.38 212.86,79.51 214.07,78.15C215.28,76.79 215.57,76.57 216.02,74.91C216.47,73.24 215.26,72.53 216.02,71.02Z" fill="#0c54b6"/>
<circle cx="218.17" cy="71.19" r="1.74" fill="#0c54b6"/>
<circle cx="221.65" cy="70.05" r="1.78" fill="#0c54b6"/>
<circle cx="225.58" cy="72" r="1.11" fill="#0c54b6"/>
<circle cx="228.14" cy="72.3" r="1.1" fill="#0c54b6"/>
<circle cx="232.04" cy="71.23" r="1.18" fill="#0b4ca8"/>
<circle cx="234.52" cy="70.41" r="1.8" fill="#0b4ca8"/>
<circle cx="236.74" cy="71.32" r="1" fill="#0c54b6"/>
<circle cx="239.05" cy="70.7" r="1.96" fill="#0c54b6"/>
<circle cx="239.52" cy="69.64" r="1.96" fill="#0c54b6"/>
<circle cx="240.3" cy="67.19" r="1.97" fill="#0b4ca8"/>
<circle cx="242.91" cy="66.63" r="1.36" fill="#0c54b6"/>
<circle cx="244.7" cy="68.85" r="1.33" fill="#0c54b6"/>
<circle cx="247.75" cy="70.03" r="1.71" fill="#0b4ca8"/>
<circle cx="251.23" cy="70.89" r="1.48" fill="#0b4ca8"/>
<circle cx="253.08" cy="70.43" r="1.18" fill="#0c54b6"/>
<circle cx="255.84" cy="71.3" r="1.36" fill="#0b4ca8"/>
<circle cx="257.46" cy="72.04" r="1.58" fill="#0c54b6"/>
<circle cx="259.31" cy="74.75" r="1.62" fill="#0c54b6"/>
<circle cx="261.03" cy="76.22" r="1.93" fill="#0b4ca8"/>
<circle cx="263.34" cy="76.53" r="1.89" fill="#0b4ca8"/>
<circle cx="264.29" cy="77.91" r="1.75" fill="#0b4ca8"/>
<circle cx="266.82" cy="78.55" r="1.95" fill="#0b4ca8"/>
<circle cx="271.09" cy="80.69" r="1.36" fill="#0b4ca8"/>
<circle cx="269.94" cy="84.45" r="1.55" fill="#0b4ca8"/>
<circle cx="267.63" cy="86.52" r="1.8" fill="#0b4ca8"/>
<circle cx="266.52" cy="90.62" r="1.16" fill="#0b4ca8"/>
<circle cx="265.71" cy="91.71" r="1.74" fill="#0b4ca8"/>
<circle cx="265.43" cy="94.48" r="1.42" fill="#0c54b6"/>
<circle cx="264.91" cy="97.57" r="1.33" fill="#0c54b6"/>
<circle cx="264.57" cy="99.84" r="1.79" fill="#0b4ca8"/>
<circle cx="264.29" cy="101.98" r="1.06" fill="#0c54b6"/>
<circle cx="262.82" cy="104.33" r="2" fill="#0b4ca8"/>
<circle cx="263.36" cy="107.85" r="1.69" fill="#0b4ca8"/>
<circle cx="263.3" cy="109.72" r="1.4" fill="#0b4ca8"/>
<circle cx="262.05" cy="114.08" r="1.53" fill="#0b4ca8"/>
<circle cx="261.64" cy="116.62" r="1.18" fill="#0b4ca8"/>
<circle cx="261.37" cy="117.8" r="1.8" fill="#0c54b6"/>
<circle cx="261.79" cy="121.33" r="1.36" fill="#0b4ca8"/>
<circle cx="262.05" cy="123.87" r="1.26" fill="#0b4ca8"/>
<circle cx="262.88" cy="127.19" r="1.34" fill="#0c54b6"/>
<circle cx="262.64" cy="128.73" r="1.77" fill="#0b4ca8"/>
<circle cx="261.78" cy="130.9" r="1.82" fill="#0b4ca8"/>
<circle cx="261.1" cy="133.16" r="1.64" fill="#0b4ca8"/>
<circle cx="259.7" cy="134.77" r="1.84" fill="#0b4ca8"/>
<circle cx="257.62" cy="137.58" r="1.96" fill="#0c54b6"/>
<circle cx="256.46" cy="138.47" r="1.36" fill="#0b4ca8"/>
<circle cx="252.91" cy="139.44" r="1.72" fill="#0c54b6"/>
<circle cx="249.55" cy="138.21" r="1.94" fill="#0b4ca8"/>
<circle cx="246.85" cy="136.05" r="1.55" fill="#0b4ca8"/>
<circle cx="243.3" cy="133.78" r="1.03" fill="#0b4ca8"/>
<circle cx="241.13" cy="130.25" r="1.18" fill="#0c54b6"/>
<circle cx="237.3" cy="129.62" r="1.04" fill="#0c54b6"/>
<circle cx="234.55" cy="130.16" r="1.89" fill="#0c54b6"/>
<circle cx="230.72" cy="130.65" r="1.55" fill="#0b4ca8"/>
<circle cx="229.33" cy="128.91" r="1.61" fill="#0c54b6"/>
<circle cx="227.56" cy="127.09" r="1.37" fill="#0b4ca8"/>
<circle cx="226.9" cy="124.02" r="1.87" fill="#0b4ca8"/>
<circle cx="226.51" cy="121.29" r="1.55" fill="#0b4ca8"/>
<circle cx="226.29" cy="118.48" r="1.34" fill="#0b4ca8"/>
<circle cx="224.68" cy="114.28" r="1.42" fill="#0b4ca8"/>
<circle cx="223.28" cy="111.69" r="1.16" fill="#0b4ca8"/>
<circle cx="222.37" cy="107.18" r="1.97" fill="#0b4ca8"/>
<circle cx="220.76" cy="105.11" r="1.66" fill="#0b4ca8"/>
<circle cx="219.38" cy="102.65" r="1.62" fill="#0b4ca8"/>
<circle cx="219.69" cy="99.15" r="1.98" fill="#0b4ca8"/>
<circle cx="220.84" cy="94.31" r="1.38" fill="#0c54b6"/>
<circle cx="221.12" cy="91.44" r="1.26" fill="#0b4ca8"/>
<circle cx="221.78" cy="88.58" r="1.02" fill="#0b4ca8"/>
<circle cx="219.17" cy="86.31" r="1.29" fill="#0c54b6"/>
<circle cx="216.4" cy="86.31" r="1.96" fill="#0c54b6"/>
<circle cx="212.68" cy="85.22" r="1.83" fill="#0b4ca8"/>
<circle cx="210.65" cy="83.69" r="1.47" fill="#0b4ca8"/>
<circle cx="212.33" cy="80.93" r="1.15" fill="#0b4ca8"/>
<circle cx="215.63" cy="78" r="1.99" fill="#0c54b6"/>
<circle cx="216.39" cy="75.23" r="1.13" fill="#0b4ca8"/>
<g clip-path="url(#cpntd)">
<circle cx="248.36" cy="120.82" r="1.24" fill="#0f5cc4" stroke="#0a3c88" stroke-width="0.45" opacity="0.6"/>
<circle cx="252.85" cy="73.92" r="2.3" fill="#2a78dc" stroke="#0a3c88" stroke-width="0.45" opacity="0.84"/>
<circle cx="250.56" cy="130.4" r="2.55" fill="#1464cc" stroke="#0a3c88" stroke-width="0.45" opacity="0.76"/>
<circle cx="258.66" cy="109.6" r="2.24" fill="#2a78dc" stroke="#0a3c88" stroke-width="0.45" opacity="0.91"/>
<circle cx="243.66" cy="97.83" r="2.07" fill="#0b4ca8" opacity="0.45"/>
<circle cx="255.15" cy="139.42" r="2.8" fill="#2a78dc" stroke="#0a3c88" stroke-width="0.45" opacity="0.83"/>
<circle cx="254.52" cy="75.96" r="1.67" fill="#0f5cc4" stroke="#0a3c88" stroke-width="0.45" opacity="0.62"/>
<circle cx="254.02" cy="75.46" r="0.67" fill="#2a78dc" opacity="0.6"/>
<circle cx="244.75" cy="115.47" r="2.39" fill="#0b4ca8" opacity="0.61"/>
<circle cx="229.76" cy="110.96" r="1.98" fill="#1464cc" stroke="#0a3c88" stroke-width="0.45" opacity="0.65"/>
<circle cx="244.71" cy="112.52" r="1.62" fill="#0f5cc4" stroke="#0a3c88" stroke-width="0.45" opacity="0.88"/>
<circle cx="238.39" cy="95.07" r="1.41" fill="#0a459e" opacity="0.39"/>
<circle cx="237.97" cy="94.65" r="0.56" fill="#2a78dc" opacity="0.6"/>
<circle cx="240.08" cy="90.14" r="2.47" fill="#0b4ca8" opacity="0.52"/>
<circle cx="236.9" cy="125.56" r="2.4" fill="#2a78dc" stroke="#0a3c88" stroke-width="0.45" opacity="0.82"/>
<circle cx="236.18" cy="124.84" r="0.96" fill="#2a78dc" opacity="0.6"/>
<circle cx="224.81" cy="90.89" r="2.18" fill="#0a459e" opacity="0.52"/>
<circle cx="224.15" cy="90.24" r="0.87" fill="#2a78dc" opacity="0.6"/>
<circle cx="228.6" cy="113.3" r="2.74" fill="#2a78dc" stroke="#0a3c88" stroke-width="0.45" opacity="0.66"/>
<circle cx="227.78" cy="112.48" r="1.1" fill="#2a78dc" opacity="0.6"/>
<circle cx="212.49" cy="79.84" r="1.51" fill="#1464cc" stroke="#0a3c88" stroke-width="0.45" opacity="0.76"/>
<circle cx="248.73" cy="98.06" r="1.94" fill="#1464cc" stroke="#0a3c88" stroke-width="0.45" opacity="0.9"/>
<circle cx="244.54" cy="74.12" r="2.51" fill="#0f5cc4" stroke="#0a3c88" stroke-width="0.45" opacity="0.72"/>
<circle cx="263" cy="77.56" r="2.46" fill="#0a459e" opacity="0.65"/>
<circle cx="262.26" cy="76.82" r="0.98" fill="#2a78dc" opacity="0.6"/>
<circle cx="224.53" cy="71.71" r="1.84" fill="#1464cc" stroke="#0a3c88" stroke-width="0.45" opacity="0.7"/>
<circle cx="254.86" cy="78.12" r="1.58" fill="#1464cc" stroke="#0a3c88" stroke-width="0.45" opacity="0.6"/>
<circle cx="254.38" cy="77.64" r="0.63" fill="#2a78dc" opacity="0.6"/>
<circle cx="258.67" cy="96.67" r="1.27" fill="#2a78dc" opacity="0.6"/>
<circle cx="252.67" cy="114.27" r="2" fill="#1464cc" stroke="#0a3c88" stroke-width="0.45" opacity="0.82"/>
<circle cx="269.31" cy="80.46" r="2.31" fill="#1464cc" stroke="#0a3c88" stroke-width="0.45" opacity="0.88"/>
<circle cx="268.61" cy="79.76" r="0.93" fill="#2a78dc" opacity="0.6"/>
<circle cx="249.07" cy="99.01" r="1.77" fill="#0f5cc4" stroke="#0a3c88" stroke-width="0.45" opacity="0.92"/>
<circle cx="248.54" cy="98.48" r="0.71" fill="#2a78dc" opacity="0.6"/>
<circle cx="238.13" cy="127.97" r="1.56" fill="#0a459e" opacity="0.57"/>
<circle cx="237.66" cy="127.5" r="0.62" fill="#2a78dc" opacity="0.6"/>
<circle cx="235.24" cy="75.81" r="2.06" fill="#2a78dc" stroke="#0a3c88" stroke-width="0.45" opacity="0.83"/>
<circle cx="234.62" cy="75.19" r="0.82" fill="#2a78dc" opacity="0.6"/>
<circle cx="240.84" cy="84.54" r="2.33" fill="#1464cc" stroke="#0a3c88" stroke-width="0.45" opacity="0.73"/>
<circle cx="252.97" cy="124.58" r="1.23" fill="#0a459e" opacity="0.47"/>
<circle cx="252.6" cy="124.21" r="0.49" fill="#2a78dc" opacity="0.6"/>
<circle cx="218.29" cy="70.79" r="1.47" fill="#2a78dc" stroke="#0a3c88" stroke-width="0.45" opacity="0.87"/>
<circle cx="248.27" cy="83.21" r="1.89" fill="#2a78dc" stroke="#0a3c88" stroke-width="0.45" opacity="0.89"/>
<circle cx="259.64" cy="74.72" r="1.71" fill="#0f5cc4" stroke="#0a3c88" stroke-width="0.45" opacity="0.87"/>
<circle cx="247.27" cy="73.62" r="2.5" fill="#2a78dc" stroke="#0a3c88" stroke-width="0.45" opacity="0.68"/>
<circle cx="232.23" cy="100.74" r="1.52" fill="#0f5cc4" stroke="#0a3c88" stroke-width="0.45" opacity="0.73"/>
<circle cx="260.85" cy="115.69" r="2.65" fill="#0f5cc4" stroke="#0a3c88" stroke-width="0.45" opacity="0.77"/>
<circle cx="260.05" cy="114.9" r="1.06" fill="#2a78dc" opacity="0.6"/>
<circle cx="220.74" cy="73.26" r="2.35" fill="#0f5cc4" opacity="0.71"/>
<circle cx="239.44" cy="105.97" r="1.35" fill="#2a78dc" stroke="#0a3c88" stroke-width="0.45" opacity="0.82"/>
<circle cx="248.16" cy="104.45" r="2" fill="#2a78dc" opacity="0.53"/>
<circle cx="251.89" cy="106.19" r="2.48" fill="#0b4ca8" opacity="0.36"/>
<circle cx="251.14" cy="105.44" r="0.99" fill="#2a78dc" opacity="0.6"/>
<circle cx="258.33" cy="111.75" r="2.58" fill="#1464cc" opacity="0.49"/>
<circle cx="257.56" cy="110.98" r="1.03" fill="#2a78dc" opacity="0.6"/>
<circle cx="254.74" cy="71.25" r="2.41" fill="#1464cc" opacity="0.75"/>
<circle cx="256.15" cy="111.77" r="1.53" fill="#0f5cc4" opacity="0.46"/>
<circle cx="234.46" cy="79.23" r="2.24" fill="#0f5cc4" stroke="#0a3c88" stroke-width="0.45" opacity="0.9"/>
<circle cx="253.02" cy="139.8" r="1.6" fill="#2a78dc" stroke="#0a3c88" stroke-width="0.45" opacity="0.63"/>
<circle cx="245.65" cy="112.94" r="2.22" fill="#2a78dc" stroke="#0a3c88" stroke-width="0.45" opacity="0.81"/>
<circle cx="244.98" cy="112.27" r="0.89" fill="#2a78dc" opacity="0.6"/>
<circle cx="236.21" cy="72.18" r="2.62" fill="#2a78dc" stroke="#0a3c88" stroke-width="0.45" opacity="0.79"/>
<circle cx="237.18" cy="90.35" r="1.36" fill="#1464cc" stroke="#0a3c88" stroke-width="0.45" opacity="0.65"/>
<circle cx="214.71" cy="80.07" r="1.95" fill="#083a8a" opacity="0.75"/>
<circle cx="252.02" cy="74.22" r="1.74" fill="#1464cc" stroke="#0a3c88" stroke-width="0.45" opacity="0.89"/>
<circle cx="254.56" cy="135.31" r="2.73" fill="#0f5cc4" opacity="0.51"/>
<circle cx="253.74" cy="134.49" r="1.09" fill="#2a78dc" opacity="0.6"/>
<circle cx="230.36" cy="78.83" r="2.63" fill="#0f5cc4" opacity="0.46"/>
<circle cx="231.5" cy="121.66" r="1.99" fill="#1464cc" stroke="#0a3c88" stroke-width="0.45" opacity="0.95"/>
<circle cx="222.35" cy="91.67" r="1.43" fill="#2a78dc" opacity="0.66"/>
<circle cx="228.6" cy="91.17" r="2.56" fill="#0f5cc4" opacity="0.45"/>
<circle cx="227.83" cy="90.4" r="1.02" fill="#2a78dc" opacity="0.6"/>
<circle cx="254.99" cy="76.8" r="2.75" fill="#1464cc" stroke="#0a3c88" stroke-width="0.45" opacity="0.9"/>
<circle cx="254.16" cy="75.97" r="1.1" fill="#2a78dc" opacity="0.6"/>
<circle cx="238.34" cy="75.53" r="1.33" fill="#1464cc" stroke="#0a3c88" stroke-width="0.45" opacity="0.8"/>
<circle cx="270.64" cy="80.41" r="2.49" fill="#2a78dc" stroke="#0a3c88" stroke-width="0.45" opacity="0.76"/>
<circle cx="269.89" cy="79.66" r="0.99" fill="#2a78dc" opacity="0.6"/>
<circle cx="241.31" cy="130.51" r="2.7" fill="#0f5cc4" stroke="#0a3c88" stroke-width="0.45" opacity="0.75"/>
<circle cx="260.74" cy="127.76" r="1.89" fill="#0f5cc4" opacity="0.8"/>
<circle cx="272.05" cy="82.13" r="1.87" fill="#2a78dc" stroke="#0a3c88" stroke-width="0.45" opacity="0.64"/>
<circle cx="271.49" cy="81.56" r="0.75" fill="#2a78dc" opacity="0.6"/>
<circle cx="238.66" cy="71.39" r="1.81" fill="#1464cc" stroke="#0a3c88" stroke-width="0.45" opacity="0.94"/>
<circle cx="218.67" cy="83.62" r="2.67" fill="#0f5cc4" opacity="0.36"/>
<circle cx="217.87" cy="82.82" r="1.07" fill="#2a78dc" opacity="0.6"/>
<circle cx="230.98" cy="81.97" r="1.67" fill="#0f5cc4" stroke="#0a3c88" stroke-width="0.45" opacity="0.83"/>
<circle cx="230.48" cy="81.47" r="0.67" fill="#2a78dc" opacity="0.6"/>
<circle cx="233.13" cy="101.75" r="2.13" fill="#0f5cc4" stroke="#0a3c88" stroke-width="0.45" opacity="0.79"/>
<circle cx="258.17" cy="97.33" r="2.01" fill="#0f5cc4" stroke="#0a3c88" stroke-width="0.45" opacity="0.84"/>
<circle cx="258.5" cy="107.77" r="1.9" fill="#2a78dc" stroke="#0a3c88" stroke-width="0.45" opacity="0.7"/>
<circle cx="247.16" cy="95.2" r="1.8" fill="#1464cc" stroke="#0a3c88" stroke-width="0.45" opacity="0.62"/>
<circle cx="246.62" cy="94.66" r="0.72" fill="#2a78dc" opacity="0.6"/>
<circle cx="248.72" cy="73.24" r="2.02" fill="#1464cc" stroke="#0a3c88" stroke-width="0.45" opacity="0.62"/>
<circle cx="248.11" cy="72.63" r="0.81" fill="#2a78dc" opacity="0.6"/>
<circle cx="245.32" cy="108.45" r="1.27" fill="#1464cc" stroke="#0a3c88" stroke-width="0.45" opacity="0.69"/>
<circle cx="244.94" cy="108.07" r="0.51" fill="#2a78dc" opacity="0.6"/>
<circle cx="258.95" cy="121.56" r="1.62" fill="#0f5cc4" stroke="#0a3c88" stroke-width="0.45" opacity="0.85"/>
<circle cx="262.23" cy="110.49" r="2.11" fill="#0f5cc4" stroke="#0a3c88" stroke-width="0.45" opacity="0.84"/>
<circle cx="252.13" cy="114.68" r="1.24" fill="#0a459e" opacity="0.67"/>
<circle cx="217.09" cy="70.65" r="2.29" fill="#2a78dc" stroke="#0a3c88" stroke-width="0.45" opacity="0.91"/>
<circle cx="257.13" cy="85.28" r="1.68" fill="#0a459e" opacity="0.58"/>
<circle cx="219.86" cy="82.1" r="1.62" fill="#0f5cc4" stroke="#0a3c88" stroke-width="0.45" opacity="0.82"/>
<circle cx="219.37" cy="81.62" r="0.65" fill="#2a78dc" opacity="0.6"/>
<circle cx="242.43" cy="95.51" r="1.51" fill="#2a78dc" stroke="#0a3c88" stroke-width="0.45" opacity="0.72"/>
<circle cx="241.97" cy="95.05" r="0.61" fill="#2a78dc" opacity="0.6"/>
<circle cx="237.18" cy="108.18" r="2" fill="#0f5cc4" opacity="0.6"/>
<circle cx="236.58" cy="107.58" r="0.8" fill="#2a78dc" opacity="0.6"/>
<circle cx="258.99" cy="128.69" r="1.67" fill="#0a459e" opacity="0.54"/>
<circle cx="240.47" cy="119.16" r="1.34" fill="#0f5cc4" stroke="#0a3c88" stroke-width="0.45" opacity="0.9"/>
<circle cx="240.07" cy="118.76" r="0.54" fill="#2a78dc" opacity="0.6"/>
<circle cx="257.21" cy="79.28" r="2.44" fill="#0f5cc4" opacity="0.64"/>
<circle cx="256.48" cy="78.55" r="0.98" fill="#2a78dc" opacity="0.6"/>
<circle cx="235.59" cy="90.59" r="1.35" fill="#0b4ca8" opacity="0.5"/>
<circle cx="235.19" cy="90.19" r="0.54" fill="#2a78dc" opacity="0.6"/>
<circle cx="256.06" cy="137.87" r="1.85" fill="#2a78dc" stroke="#0a3c88" stroke-width="0.45" opacity="0.79"/>
<circle cx="252.6" cy="90.14" r="1.78" fill="#0a459e" opacity="0.4"/>
<circle cx="252.07" cy="89.61" r="0.71" fill="#2a78dc" opacity="0.6"/>
<circle cx="243.62" cy="72.13" r="2.78" fill="#1464cc" stroke="#0a3c88" stroke-width="0.45" opacity="0.94"/>
<circle cx="242.79" cy="71.29" r="1.11" fill="#2a78dc" opacity="0.6"/>
<circle cx="223.21" cy="104.53" r="2.67" fill="#2a78dc" stroke="#0a3c88" stroke-width="0.45" opacity="0.79"/>
<circle cx="222.41" cy="103.73" r="1.07" fill="#2a78dc" opacity="0.6"/>
<circle cx="239.18" cy="99.16" r="2.67" fill="#2a78dc" stroke="#0a3c88" stroke-width="0.45" opacity="0.69"/>
<circle cx="257.38" cy="111.31" r="1.41" fill="#0b4ca8" opacity="0.78"/>
<circle cx="256.96" cy="110.89" r="0.57" fill="#2a78dc" opacity="0.6"/>
<circle cx="224.75" cy="84.61" r="2.23" fill="#1464cc" opacity="0.63"/>
<circle cx="224.08" cy="83.94" r="0.89" fill="#2a78dc" opacity="0.6"/>
<circle cx="253.66" cy="73.75" r="2.13" fill="#2a78dc" stroke="#0a3c88" stroke-width="0.45" opacity="0.64"/>
<circle cx="231.12" cy="110.32" r="2.22" fill="#1464cc" stroke="#0a3c88" stroke-width="0.45" opacity="0.62"/>
<circle cx="230.46" cy="109.66" r="0.89" fill="#2a78dc" opacity="0.6"/>
<circle cx="242.79" cy="87.96" r="1.79" fill="#1464cc" opacity="0.64"/>
<circle cx="229.63" cy="129.97" r="2.26" fill="#2a78dc" stroke="#0a3c88" stroke-width="0.45" opacity="0.78"/>
<circle cx="228.95" cy="129.3" r="0.9" fill="#2a78dc" opacity="0.6"/>
<circle cx="253.07" cy="125.16" r="1.22" fill="#2a78dc" opacity="0.35"/>
<circle cx="243.49" cy="101.82" r="1.39" fill="#1464cc" stroke="#0a3c88" stroke-width="0.45" opacity="0.83"/>
<circle cx="243.07" cy="101.4" r="0.56" fill="#2a78dc" opacity="0.6"/>
<circle cx="250.3" cy="83.05" r="1.64" fill="#2a78dc" stroke="#0a3c88" stroke-width="0.45" opacity="0.73"/>
<circle cx="224.06" cy="72.89" r="2.09" fill="#1464cc" opacity="0.7"/>
<circle cx="236.68" cy="100.69" r="1.5" fill="#1464cc" stroke="#0a3c88" stroke-width="0.45" opacity="0.77"/>
<circle cx="257.94" cy="112.71" r="2.54" fill="#2a78dc" opacity="0.76"/>
<circle cx="257.18" cy="111.95" r="1.01" fill="#2a78dc" opacity="0.6"/>
<circle cx="250.72" cy="99.21" r="2" fill="#1464cc" stroke="#0a3c88" stroke-width="0.45" opacity="0.91"/>
<circle cx="250.12" cy="98.61" r="0.8" fill="#2a78dc" opacity="0.6"/>
<circle cx="213.79" cy="79.93" r="2.59" fill="#083a8a" opacity="0.75"/>
<circle cx="213.01" cy="79.15" r="1.04" fill="#2a78dc" opacity="0.6"/>
<circle cx="235.24" cy="99.74" r="1.85" fill="#2a78dc" stroke="#0a3c88" stroke-width="0.45" opacity="0.9"/>
<circle cx="257.65" cy="131.3" r="2.67" fill="#1464cc" opacity="0.72"/>
<circle cx="261.56" cy="121.1" r="2.37" fill="#0b4ca8" opacity="0.46"/>
<circle cx="222.14" cy="105.94" r="2.54" fill="#0f5cc4" stroke="#0a3c88" stroke-width="0.45" opacity="0.82"/>
<circle cx="221.37" cy="105.18" r="1.02" fill="#2a78dc" opacity="0.6"/>
<circle cx="244.05" cy="118.87" r="2.72" fill="#2a78dc" opacity="0.6"/>
<circle cx="215.15" cy="77.14" r="1.21" fill="#0b4ca8" opacity="0.52"/>
<circle cx="214.79" cy="76.78" r="0.48" fill="#2a78dc" opacity="0.6"/>
<circle cx="245.75" cy="132.46" r="1.73" fill="#1464cc" stroke="#0a3c88" stroke-width="0.45" opacity="0.94"/>
<circle cx="245.23" cy="131.94" r="0.69" fill="#2a78dc" opacity="0.6"/>
<circle cx="240.08" cy="74.05" r="2.02" fill="#1464cc" opacity="0.45"/>
<circle cx="235.53" cy="89.95" r="2.57" fill="#1464cc" opacity="0.63"/>
<circle cx="264.92" cy="82.11" r="1.69" fill="#2a78dc" stroke="#0a3c88" stroke-width="0.45" opacity="0.78"/>
<circle cx="261.92" cy="110.19" r="1.32" fill="#1464cc" stroke="#0a3c88" stroke-width="0.45" opacity="0.63"/>
<circle cx="261.53" cy="109.8" r="0.53" fill="#2a78dc" opacity="0.6"/>
<circle cx="238.91" cy="73.22" r="2.58" fill="#0b4ca8" opacity="0.78"/>
<circle cx="247.2" cy="132.71" r="1.7" fill="#0f5cc4" stroke="#0a3c88" stroke-width="0.45" opacity="0.9"/>
<circle cx="238.28" cy="115.22" r="2.18" fill="#1464cc" stroke="#0a3c88" stroke-width="0.45" opacity="0.91"/>
<circle cx="237.62" cy="114.56" r="0.87" fill="#2a78dc" opacity="0.6"/>
<circle cx="232.91" cy="111.19" r="2.14" fill="#2a78dc" stroke="#0a3c88" stroke-width="0.45" opacity="0.64"/>
<circle cx="227.89" cy="115.2" r="1.25" fill="#2a78dc" stroke="#0a3c88" stroke-width="0.45" opacity="0.8"/>
<circle cx="227.51" cy="114.82" r="0.5" fill="#2a78dc" opacity="0.6"/>
<circle cx="239.2" cy="100.62" r="1.26" fill="#1464cc" stroke="#0a3c88" stroke-width="0.45" opacity="0.91"/>
<circle cx="238.82" cy="100.24" r="0.5" fill="#2a78dc" opacity="0.6"/>
<circle cx="258.95" cy="136.72" r="2.7" fill="#2a78dc" stroke="#0a3c88" stroke-width="0.45" opacity="0.88"/>
<circle cx="232.42" cy="79.45" r="2.77" fill="#2a78dc" stroke="#0a3c88" stroke-width="0.45" opacity="0.65"/>
<circle cx="242.29" cy="74.73" r="1.81" fill="#1464cc" stroke="#0a3c88" stroke-width="0.45" opacity="0.91"/>
<circle cx="244.69" cy="73.29" r="1.74" fill="#1464cc" stroke="#0a3c88" stroke-width="0.45" opacity="0.77"/>
<circle cx="244.17" cy="72.77" r="0.7" fill="#2a78dc" opacity="0.6"/>
<circle cx="230.73" cy="89.48" r="1.79" fill="#2a78dc" stroke="#0a3c88" stroke-width="0.45" opacity="0.71"/>
<circle cx="230.19" cy="88.94" r="0.72" fill="#2a78dc" opacity="0.6"/>
<circle cx="258.89" cy="85.01" r="1.47" fill="#1464cc" stroke="#0a3c88" stroke-width="0.45" opacity="0.89"/>
<circle cx="239.42" cy="83.3" r="1.29" fill="#2a78dc" opacity="0.45"/>
<circle cx="239.03" cy="82.91" r="0.52" fill="#2a78dc" opacity="0.6"/>
<circle cx="240.33" cy="117.54" r="1.21" fill="#1464cc" stroke="#0a3c88" stroke-width="0.45" opacity="0.68"/>
<circle cx="242.65" cy="92.4" r="1.63" fill="#0f5cc4" stroke="#0a3c88" stroke-width="0.45" opacity="0.81"/>
<circle cx="242.17" cy="91.91" r="0.65" fill="#2a78dc" opacity="0.6"/>
<circle cx="215.73" cy="83.65" r="1.81" fill="#0f5cc4" opacity="0.48"/>
<circle cx="215.19" cy="83.11" r="0.73" fill="#2a78dc" opacity="0.6"/>
<circle cx="247.02" cy="118.83" r="2.37" fill="#0a459e" opacity="0.63"/>
<circle cx="246.31" cy="118.12" r="0.95" fill="#2a78dc" opacity="0.6"/>
<circle cx="221.8" cy="100.85" r="2.07" fill="#2a78dc" stroke="#0a3c88" stroke-width="0.45" opacity="0.95"/>
<circle cx="221.18" cy="100.23" r="0.83" fill="#2a78dc" opacity="0.6"/>
<circle cx="233.77" cy="128.85" r="2.56" fill="#2a78dc" stroke="#0a3c88" stroke-width="0.45" opacity="0.82"/>
<circle cx="248.18" cy="129.17" r="2.66" fill="#0f5cc4" stroke="#0a3c88" stroke-width="0.45" opacity="0.7"/>
<circle cx="227.02" cy="113.94" r="1.7" fill="#1464cc" stroke="#0a3c88" stroke-width="0.45" opacity="0.88"/>
<circle cx="226.51" cy="113.43" r="0.68" fill="#2a78dc" opacity="0.6"/>
<circle cx="234.95" cy="110.81" r="1.52" fill="#1464cc" opacity="0.5"/>
<circle cx="234.49" cy="110.36" r="0.61" fill="#2a78dc" opacity="0.6"/>
<circle cx="248.54" cy="112.01" r="2.27" fill="#2a78dc" opacity="0.72"/>
<circle cx="245.41" cy="124.89" r="2.26" fill="#2a78dc" stroke="#0a3c88" stroke-width="0.45" opacity="0.66"/>
<circle cx="240.13" cy="102.72" r="2.21" fill="#083a8a" opacity="0.5"/>
<circle cx="250.75" cy="106.41" r="2.46" fill="#0f5cc4" opacity="0.36"/>
<circle cx="218.91" cy="74.24" r="1.27" fill="#0f5cc4" stroke="#0a3c88" stroke-width="0.45" opacity="0.86"/>
<circle cx="218.53" cy="73.86" r="0.51" fill="#2a78dc" opacity="0.6"/>
<circle cx="258.09" cy="105.81" r="2.27" fill="#1464cc" opacity="0.67"/>
<circle cx="240.89" cy="115.27" r="2.1" fill="#0f5cc4" stroke="#0a3c88" stroke-width="0.45" opacity="0.67"/>
<circle cx="224.51" cy="116.16" r="1.91" fill="#1464cc" stroke="#0a3c88" stroke-width="0.45" opacity="0.75"/>
<circle cx="223.94" cy="115.59" r="0.76" fill="#2a78dc" opacity="0.6"/>
<circle cx="237.33" cy="89.49" r="2.47" fill="#0a459e" opacity="0.7"/>
<circle cx="236.59" cy="88.75" r="0.99" fill="#2a78dc" opacity="0.6"/>
<circle cx="225.73" cy="87.88" r="2.21" fill="#083a8a" opacity="0.59"/>
<circle cx="225.07" cy="87.22" r="0.88" fill="#2a78dc" opacity="0.6"/>
<circle cx="251.71" cy="130.85" r="1.36" fill="#083a8a" opacity="0.59"/>
<circle cx="251.3" cy="130.44" r="0.54" fill="#2a78dc" opacity="0.6"/>
<circle cx="256.06" cy="126.82" r="1.21" fill="#0a459e" opacity="0.41"/>
<circle cx="264.07" cy="86.74" r="1.9" fill="#1464cc" stroke="#0a3c88" stroke-width="0.45" opacity="0.63"/>
<circle cx="250.11" cy="104" r="1.82" fill="#1464cc" stroke="#0a3c88" stroke-width="0.45" opacity="0.67"/>
<circle cx="239.33" cy="108.01" r="2.64" fill="#1464cc" opacity="0.44"/>
<circle cx="228.31" cy="119.45" r="1.27" fill="#1464cc" stroke="#0a3c88" stroke-width="0.45" opacity="0.78"/>
<circle cx="219.54" cy="92.25" r="2.3" fill="#2a78dc" stroke="#0a3c88" stroke-width="0.45" opacity="0.77"/>
<circle cx="264.04" cy="102.13" r="2.62" fill="#0a459e" opacity="0.5"/>
<circle cx="250.98" cy="134.15" r="2.29" fill="#0a459e" opacity="0.52"/>
<circle cx="233.9" cy="96.73" r="2.17" fill="#083a8a" opacity="0.62"/>
<circle cx="216.11" cy="80.59" r="2.38" fill="#2a78dc" opacity="0.75"/>
<circle cx="215.39" cy="79.88" r="0.95" fill="#2a78dc" opacity="0.6"/>
<circle cx="234.77" cy="108.22" r="1.8" fill="#1464cc" stroke="#0a3c88" stroke-width="0.45" opacity="0.89"/>
<circle cx="234.23" cy="107.68" r="0.72" fill="#2a78dc" opacity="0.6"/>
<circle cx="230.56" cy="83.18" r="2.63" fill="#1464cc" stroke="#0a3c88" stroke-width="0.45" opacity="0.73"/>
<circle cx="229.77" cy="82.39" r="1.05" fill="#2a78dc" opacity="0.6"/>
<circle cx="229" cy="111.5" r="2.01" fill="#1464cc" stroke="#0a3c88" stroke-width="0.45" opacity="0.75"/>
<circle cx="246.86" cy="125.21" r="2.34" fill="#2a78dc" stroke="#0a3c88" stroke-width="0.45" opacity="0.84"/>
<circle cx="246.16" cy="124.51" r="0.94" fill="#2a78dc" opacity="0.6"/>
<circle cx="232.45" cy="98.62" r="2.28" fill="#2a78dc" opacity="0.59"/>
<circle cx="253.18" cy="139.75" r="1.71" fill="#0f5cc4" opacity="0.62"/>
<circle cx="252.66" cy="139.23" r="0.68" fill="#2a78dc" opacity="0.6"/>
<circle cx="261.97" cy="87.43" r="2.19" fill="#0f5cc4" stroke="#0a3c88" stroke-width="0.45" opacity="0.94"/>
<circle cx="239.51" cy="108.08" r="2.25" fill="#0f5cc4" stroke="#0a3c88" stroke-width="0.45" opacity="0.81"/>
<circle cx="248.82" cy="129.97" r="2.78" fill="#0a459e" opacity="0.37"/>
<circle cx="247.99" cy="129.14" r="1.11" fill="#2a78dc" opacity="0.6"/>
<circle cx="251.06" cy="85.17" r="2.55" fill="#2a78dc" stroke="#0a3c88" stroke-width="0.45" opacity="0.85"/>
<circle cx="227.69" cy="112.87" r="2.15" fill="#0f5cc4" stroke="#0a3c88" stroke-width="0.45" opacity="0.68"/>
<circle cx="253.52" cy="86.38" r="1.2" fill="#0f5cc4" opacity="0.61"/>
<circle cx="253.16" cy="86.02" r="0.48" fill="#2a78dc" opacity="0.6"/>
<circle cx="255.68" cy="98.56" r="2.13" fill="#1464cc" stroke="#0a3c88" stroke-width="0.45" opacity="0.92"/>
<circle cx="241.28" cy="114.77" r="2.2" fill="#0f5cc4" stroke="#0a3c88" stroke-width="0.45" opacity="0.75"/>
<circle cx="246.89" cy="100.28" r="1.97" fill="#2a78dc" stroke="#0a3c88" stroke-width="0.45" opacity="0.94"/>
<circle cx="246.3" cy="99.69" r="0.79" fill="#2a78dc" opacity="0.6"/>
<circle cx="255.13" cy="136.75" r="2.38" fill="#0f5cc4" opacity="0.44"/>
<circle cx="251.53" cy="114.09" r="2.78" fill="#0f5cc4" stroke="#0a3c88" stroke-width="0.45" opacity="0.62"/>
<circle cx="219.28" cy="80.17" r="2.72" fill="#0f5cc4" stroke="#0a3c88" stroke-width="0.45" opacity="0.94"/>
<circle cx="218.46" cy="79.35" r="1.09" fill="#2a78dc" opacity="0.6"/>
<circle cx="252.53" cy="85.81" r="2.37" fill="#2a78dc" opacity="0.52"/>
<circle cx="251.82" cy="85.1" r="0.95" fill="#2a78dc" opacity="0.6"/>
<circle cx="252.28" cy="124.84" r="1.99" fill="#0a459e" opacity="0.6"/>
<circle cx="251.68" cy="124.24" r="0.8" fill="#2a78dc" opacity="0.6"/>
<circle cx="246.38" cy="105.46" r="2.46" fill="#0f5cc4" stroke="#0a3c88" stroke-width="0.45" opacity="0.89"/>
<circle cx="243.61" cy="83.63" r="1.94" fill="#0f5cc4" stroke="#0a3c88" stroke-width="0.45" opacity="0.85"/>
<circle cx="227.04" cy="93.21" r="2.7" fill="#0f5cc4" stroke="#0a3c88" stroke-width="0.45" opacity="0.91"/>
<circle cx="226.23" cy="92.41" r="1.08" fill="#2a78dc" opacity="0.6"/>
<circle cx="246.98" cy="112.85" r="1.23" fill="#0f5cc4" stroke="#0a3c88" stroke-width="0.45" opacity="0.79"/>
<circle cx="246.61" cy="112.48" r="0.49" fill="#2a78dc" opacity="0.6"/>
<circle cx="267.2" cy="85.52" r="1.75" fill="#2a78dc" stroke="#0a3c88" stroke-width="0.45" opacity="0.89"/>
<circle cx="253.47" cy="79.69" r="1.89" fill="#2a78dc" stroke="#0a3c88" stroke-width="0.45" opacity="0.93"/>
<circle cx="232.69" cy="70.03" r="1.9" fill="#0f5cc4" opacity="0.65"/>
<circle cx="224.73" cy="79.04" r="1.46" fill="#2a78dc" opacity="0.52"/>
<circle cx="226.9" cy="97.2" r="1.79" fill="#0f5cc4" opacity="0.67"/>
<circle cx="230.31" cy="104.07" r="2.58" fill="#1464cc" stroke="#0a3c88" stroke-width="0.45" opacity="0.74"/>
<circle cx="261.97" cy="109.82" r="2.52" fill="#0a459e" opacity="0.8"/>
<circle cx="261.21" cy="109.06" r="1.01" fill="#2a78dc" opacity="0.6"/>
<circle cx="261.63" cy="107.81" r="1.61" fill="#2a78dc" stroke="#0a3c88" stroke-width="0.45" opacity="0.63"/>
<circle cx="261.15" cy="107.32" r="0.64" fill="#2a78dc" opacity="0.6"/>
<circle cx="233.29" cy="71.21" r="2.67" fill="#2a78dc" opacity="0.74"/>
<circle cx="226.82" cy="97.62" r="1.81" fill="#0a459e" opacity="0.55"/>
<circle cx="215.33" cy="81.66" r="2.12" fill="#0f5cc4" stroke="#0a3c88" stroke-width="0.45" opacity="0.76"/>
<circle cx="214.69" cy="81.02" r="0.85" fill="#2a78dc" opacity="0.6"/>
<circle cx="227.49" cy="91.71" r="2.01" fill="#0a459e" opacity="0.72"/>
<circle cx="248.69" cy="130.7" r="2.17" fill="#2a78dc" stroke="#0a3c88" stroke-width="0.45" opacity="0.77"/>
<circle cx="248.04" cy="130.05" r="0.87" fill="#2a78dc" opacity="0.6"/>
<circle cx="237.74" cy="128.7" r="2.23" fill="#0f5cc4" stroke="#0a3c88" stroke-width="0.45" opacity="0.7"/>
<circle cx="235.5" cy="112.99" r="2.61" fill="#0b4ca8" opacity="0.42"/>
<circle cx="234.71" cy="112.21" r="1.04" fill="#2a78dc" opacity="0.6"/>
<circle cx="249.29" cy="79.53" r="2.65" fill="#1464cc" stroke="#0a3c88" stroke-width="0.45" opacity="0.85"/>
<circle cx="235.94" cy="105.45" r="2.59" fill="#1464cc" stroke="#0a3c88" stroke-width="0.45" opacity="0.94"/>
<circle cx="235.16" cy="104.68" r="1.03" fill="#2a78dc" opacity="0.6"/>
<circle cx="254.17" cy="95.64" r="2.8" fill="#2a78dc" opacity="0.36"/>
<circle cx="253.33" cy="94.8" r="1.12" fill="#2a78dc" opacity="0.6"/>
<circle cx="254.82" cy="100.04" r="1.73" fill="#0b4ca8" opacity="0.67"/>
<circle cx="254.7" cy="98.9" r="2.21" fill="#2a78dc" stroke="#0a3c88" stroke-width="0.45" opacity="0.93"/>
<circle cx="236.83" cy="100.64" r="1.57" fill="#1464cc" stroke="#0a3c88" stroke-width="0.45" opacity="0.62"/>
<circle cx="229.33" cy="84.3" r="1.21" fill="#0f5cc4" opacity="0.36"/>
<circle cx="228.97" cy="83.94" r="0.49" fill="#2a78dc" opacity="0.6"/>
<circle cx="246.72" cy="99.57" r="2.08" fill="#083a8a" opacity="0.6"/>
<circle cx="265.46" cy="84.54" r="2.48" fill="#0f5cc4" stroke="#0a3c88" stroke-width="0.45" opacity="0.92"/>
<circle cx="264.72" cy="83.8" r="0.99" fill="#2a78dc" opacity="0.6"/>
<circle cx="243.15" cy="71.47" r="2.72" fill="#2a78dc" stroke="#0a3c88" stroke-width="0.45" opacity="0.69"/>
<circle cx="232.42" cy="92.93" r="2.77" fill="#2a78dc" stroke="#0a3c88" stroke-width="0.45" opacity="0.74"/>
<circle cx="228.68" cy="78.75" r="1.73" fill="#1464cc" stroke="#0a3c88" stroke-width="0.45" opacity="0.9"/>
<circle cx="228.16" cy="78.23" r="0.69" fill="#2a78dc" opacity="0.6"/>
<circle cx="229.2" cy="103.23" r="1.41" fill="#0a459e" opacity="0.65"/>
<circle cx="241.78" cy="98.09" r="2.26" fill="#083a8a" opacity="0.47"/>
<circle cx="241.1" cy="97.41" r="0.9" fill="#2a78dc" opacity="0.6"/>
<circle cx="264.32" cy="97.69" r="2.31" fill="#2a78dc" opacity="0.56"/>
<circle cx="242.37" cy="95.23" r="2.59" fill="#0f5cc4" stroke="#0a3c88" stroke-width="0.45" opacity="0.66"/>
<circle cx="241.59" cy="94.45" r="1.04" fill="#2a78dc" opacity="0.6"/>
<circle cx="255.39" cy="99.88" r="2.23" fill="#1464cc" opacity="0.53"/>
<circle cx="220.52" cy="94.46" r="2.49" fill="#0f5cc4" stroke="#0a3c88" stroke-width="0.45" opacity="0.67"/>
<circle cx="219.77" cy="93.71" r="0.99" fill="#2a78dc" opacity="0.6"/>
<circle cx="256.68" cy="127.13" r="1.68" fill="#0f5cc4" stroke="#0a3c88" stroke-width="0.45" opacity="0.65"/>
<circle cx="225.44" cy="80.74" r="1.9" fill="#0b4ca8" opacity="0.61"/>
<circle cx="217.97" cy="82.8" r="2.57" fill="#0f5cc4" opacity="0.8"/>
<circle cx="256.94" cy="105.85" r="1.55" fill="#2a78dc" stroke="#0a3c88" stroke-width="0.45" opacity="0.66"/>
<circle cx="228.97" cy="126.32" r="1.29" fill="#0a459e" opacity="0.57"/>
<circle cx="258.86" cy="120.38" r="2.35" fill="#0a459e" opacity="0.75"/>
<circle cx="258.15" cy="119.67" r="0.94" fill="#2a78dc" opacity="0.6"/>
<circle cx="256.89" cy="80.63" r="1.73" fill="#2a78dc" stroke="#0a3c88" stroke-width="0.45" opacity="0.66"/>
<circle cx="253.67" cy="95.55" r="1.87" fill="#2a78dc" stroke="#0a3c88" stroke-width="0.45" opacity="0.94"/>
<circle cx="257.66" cy="76.54" r="2.16" fill="#0f5cc4" opacity="0.66"/>
<circle cx="236.76" cy="95.34" r="2.75" fill="#2a78dc" stroke="#0a3c88" stroke-width="0.45" opacity="0.72"/>
<circle cx="227.27" cy="121.89" r="2.09" fill="#0f5cc4" opacity="0.59"/>
<circle cx="232.04" cy="90.53" r="1.35" fill="#0a459e" opacity="0.79"/>
<circle cx="231.63" cy="90.13" r="0.54" fill="#2a78dc" opacity="0.6"/>
<circle cx="213" cy="79.95" r="2.01" fill="#2a78dc" stroke="#0a3c88" stroke-width="0.45" opacity="0.62"/>
<circle cx="236.3" cy="74.9" r="1.89" fill="#0f5cc4" opacity="0.63"/>
<circle cx="235.74" cy="74.33" r="0.75" fill="#2a78dc" opacity="0.6"/>
<circle cx="233.35" cy="128.1" r="2.36" fill="#0f5cc4" stroke="#0a3c88" stroke-width="0.45" opacity="0.79"/>
<circle cx="264.05" cy="77.59" r="1.89" fill="#1464cc" stroke="#0a3c88" stroke-width="0.45" opacity="0.77"/>
<circle cx="241.83" cy="126.81" r="2.01" fill="#0b4ca8" opacity="0.71"/>
<circle cx="246.73" cy="101.49" r="2.22" fill="#2a78dc" opacity="0.79"/>
<circle cx="243.33" cy="103.98" r="2.09" fill="#0b4ca8" opacity="0.73"/>
<circle cx="227.54" cy="113.69" r="2.78" fill="#083a8a" opacity="0.71"/>
<circle cx="226.71" cy="112.86" r="1.11" fill="#2a78dc" opacity="0.6"/>
<circle cx="219.58" cy="76.26" r="2.47" fill="#1464cc" stroke="#0a3c88" stroke-width="0.45" opacity="0.67"/>
<circle cx="218.84" cy="75.52" r="0.99" fill="#2a78dc" opacity="0.6"/>
<circle cx="247.17" cy="118.7" r="1.26" fill="#2a78dc" stroke="#0a3c88" stroke-width="0.45" opacity="0.88"/>
<circle cx="263.75" cy="90.71" r="1.27" fill="#083a8a" opacity="0.44"/>
<circle cx="263.37" cy="90.33" r="0.51" fill="#2a78dc" opacity="0.6"/>
<circle cx="249.76" cy="119.66" r="1.79" fill="#2a78dc" opacity="0.72"/>
<circle cx="249.22" cy="119.12" r="0.72" fill="#2a78dc" opacity="0.6"/>
<circle cx="244.04" cy="78.22" r="2.67" fill="#2a78dc" opacity="0.56"/>
<circle cx="242.49" cy="109.83" r="1.94" fill="#1464cc" stroke="#0a3c88" stroke-width="0.45" opacity="0.87"/>
<circle cx="241.9" cy="109.25" r="0.78" fill="#2a78dc" opacity="0.6"/>
<circle cx="252.73" cy="80.07" r="1.61" fill="#083a8a" opacity="0.52"/>
<circle cx="236.81" cy="79.82" r="1.82" fill="#2a78dc" stroke="#0a3c88" stroke-width="0.45" opacity="0.75"/>
<circle cx="262.06" cy="120.21" r="1.84" fill="#2a78dc" stroke="#0a3c88" stroke-width="0.45" opacity="0.69"/>
<circle cx="250.41" cy="136.28" r="2.14" fill="#2a78dc" stroke="#0a3c88" stroke-width="0.45" opacity="0.72"/>
<circle cx="249.77" cy="135.64" r="0.86" fill="#2a78dc" opacity="0.6"/>
<circle cx="255.76" cy="96.84" r="2.51" fill="#2a78dc" stroke="#0a3c88" stroke-width="0.45" opacity="0.69"/>
<circle cx="255" cy="96.09" r="1.01" fill="#2a78dc" opacity="0.6"/>
<circle cx="226.05" cy="91.38" r="1.92" fill="#1464cc" stroke="#0a3c88" stroke-width="0.45" opacity="0.7"/>
<circle cx="253.99" cy="108.39" r="1.65" fill="#083a8a" opacity="0.59"/>
<circle cx="253.5" cy="107.9" r="0.66" fill="#2a78dc" opacity="0.6"/>
<circle cx="264.53" cy="92.47" r="1.78" fill="#1464cc" stroke="#0a3c88" stroke-width="0.45" opacity="0.73"/>
<circle cx="264" cy="91.94" r="0.71" fill="#2a78dc" opacity="0.6"/>
<circle cx="268.66" cy="78.97" r="2.44" fill="#0f5cc4" stroke="#0a3c88" stroke-width="0.45" opacity="0.91"/>
<circle cx="267.93" cy="78.24" r="0.97" fill="#2a78dc" opacity="0.6"/>
<circle cx="224.24" cy="81.51" r="1.25" fill="#2a78dc" stroke="#0a3c88" stroke-width="0.45" opacity="0.88"/>
<circle cx="227.91" cy="121.49" r="1.99" fill="#2a78dc" stroke="#0a3c88" stroke-width="0.45" opacity="0.73"/>
<circle cx="243.07" cy="130.66" r="2.37" fill="#083a8a" opacity="0.46"/>
<circle cx="242.36" cy="129.95" r="0.95" fill="#2a78dc" opacity="0.6"/>
<circle cx="228.81" cy="106.53" r="1.57" fill="#1464cc" stroke="#0a3c88" stroke-width="0.45" opacity="0.93"/>
<circle cx="235.63" cy="129.38" r="2.4" fill="#2a78dc" stroke="#0a3c88" stroke-width="0.45" opacity="0.85"/>
<circle cx="256.5" cy="117.78" r="1.55" fill="#1464cc" opacity="0.45"/>
<circle cx="248.92" cy="131.83" r="1.71" fill="#0f5cc4" stroke="#0a3c88" stroke-width="0.45" opacity="0.77"/>
<circle cx="248.4" cy="131.32" r="0.68" fill="#2a78dc" opacity="0.6"/>
<circle cx="217.94" cy="78.02" r="2.12" fill="#1464cc" stroke="#0a3c88" stroke-width="0.45" opacity="0.72"/>
<circle cx="217.3" cy="77.39" r="0.85" fill="#2a78dc" opacity="0.6"/>
<circle cx="266.41" cy="85.27" r="2.2" fill="#0f5cc4" opacity="0.48"/>
<circle cx="217.41" cy="78.85" r="2.8" fill="#0a459e" opacity="0.66"/>
<circle cx="216.57" cy="78.01" r="1.12" fill="#2a78dc" opacity="0.6"/>
<circle cx="246.74" cy="127.9" r="1.56" fill="#2a78dc" stroke="#0a3c88" stroke-width="0.45" opacity="0.87"/>
<circle cx="253.06" cy="83.26" r="1.7" fill="#1464cc" stroke="#0a3c88" stroke-width="0.45" opacity="0.69"/>
<circle cx="250.1" cy="89.61" r="1.49" fill="#1464cc" stroke="#0a3c88" stroke-width="0.45" opacity="0.67"/>
<circle cx="239.67" cy="95.7" r="2.4" fill="#1464cc" stroke="#0a3c88" stroke-width="0.45" opacity="0.85"/>
<circle cx="238.95" cy="94.98" r="0.96" fill="#2a78dc" opacity="0.6"/>
<circle cx="231.47" cy="83.91" r="1.53" fill="#1464cc" opacity="0.36"/>
<circle cx="247.11" cy="131.95" r="2.45" fill="#0f5cc4" opacity="0.56"/>
<circle cx="228.88" cy="120.79" r="1.24" fill="#2a78dc" stroke="#0a3c88" stroke-width="0.45" opacity="0.91"/>
<circle cx="224.04" cy="82.22" r="2.38" fill="#2a78dc" stroke="#0a3c88" stroke-width="0.45" opacity="0.95"/>
<circle cx="264.6" cy="103.76" r="1.41" fill="#2a78dc" stroke="#0a3c88" stroke-width="0.45" opacity="0.86"/>
<circle cx="245.33" cy="90.63" r="1.73" fill="#2a78dc" stroke="#0a3c88" stroke-width="0.45" opacity="0.78"/>
<circle cx="234.78" cy="119.96" r="1.33" fill="#1464cc" stroke="#0a3c88" stroke-width="0.45" opacity="0.74"/>
<circle cx="244.95" cy="118.08" r="1.38" fill="#0a459e" opacity="0.61"/>
<circle cx="234.84" cy="72.62" r="2.27" fill="#0f5cc4" stroke="#0a3c88" stroke-width="0.45" opacity="0.91"/>
<circle cx="234.46" cy="121.41" r="1.21" fill="#0b4ca8" opacity="0.57"/>
<circle cx="234.09" cy="121.05" r="0.49" fill="#2a78dc" opacity="0.6"/>
<circle cx="219.49" cy="82.26" r="1.51" fill="#083a8a" opacity="0.48"/>
<circle cx="219.03" cy="81.81" r="0.6" fill="#2a78dc" opacity="0.6"/>
<circle cx="250.16" cy="73.85" r="2.67" fill="#0b4ca8" opacity="0.55"/>
<circle cx="249.36" cy="73.05" r="1.07" fill="#2a78dc" opacity="0.6"/>
<circle cx="251.11" cy="111.84" r="2" fill="#2a78dc" stroke="#0a3c88" stroke-width="0.45" opacity="0.62"/>
<circle cx="253.76" cy="120.59" r="2.64" fill="#2a78dc" stroke="#0a3c88" stroke-width="0.45" opacity="0.83"/>
<circle cx="250.96" cy="82.3" r="1.76" fill="#1464cc" stroke="#0a3c88" stroke-width="0.45" opacity="0.94"/>
<circle cx="241.83" cy="68.45" r="2.72" fill="#1464cc" stroke="#0a3c88" stroke-width="0.45" opacity="0.91"/>
<circle cx="258.89" cy="134.42" r="2.6" fill="#2a78dc" stroke="#0a3c88" stroke-width="0.45" opacity="0.88"/>
<circle cx="258.1" cy="133.63" r="1.04" fill="#2a78dc" opacity="0.6"/>
<circle cx="230.87" cy="112.01" r="1.7" fill="#1464cc" opacity="0.6"/>
<circle cx="263.09" cy="78.1" r="2" fill="#2a78dc" stroke="#0a3c88" stroke-width="0.45" opacity="0.83"/>
<circle cx="262.49" cy="77.5" r="0.8" fill="#2a78dc" opacity="0.6"/>
<circle cx="243.88" cy="70.91" r="1.77" fill="#0f5cc4" stroke="#0a3c88" stroke-width="0.45" opacity="0.88"/>
<circle cx="243.35" cy="70.38" r="0.71" fill="#2a78dc" opacity="0.6"/>
<circle cx="242.24" cy="126.6" r="2.34" fill="#083a8a" opacity="0.79"/>
<circle cx="241.53" cy="125.9" r="0.94" fill="#2a78dc" opacity="0.6"/>
<circle cx="236.39" cy="77.39" r="2.4" fill="#0a459e" opacity="0.63"/>
<circle cx="249.26" cy="106.94" r="2.03" fill="#0f5cc4" stroke="#0a3c88" stroke-width="0.45" opacity="0.76"/>
<circle cx="234.22" cy="120.57" r="2.49" fill="#2a78dc" stroke="#0a3c88" stroke-width="0.45" opacity="0.61"/>
<circle cx="247.08" cy="84.51" r="1.27" fill="#1464cc" opacity="0.65"/>
<circle cx="245.65" cy="99.33" r="1.51" fill="#0a459e" opacity="0.42"/>
<circle cx="245.2" cy="98.87" r="0.6" fill="#2a78dc" opacity="0.6"/>
<circle cx="242.22" cy="126.17" r="2.13" fill="#0f5cc4" opacity="0.43"/>
<circle cx="241.59" cy="125.53" r="0.85" fill="#2a78dc" opacity="0.6"/>
<circle cx="236.97" cy="74.68" r="1.87" fill="#2a78dc" stroke="#0a3c88" stroke-width="0.45" opacity="0.6"/>
<circle cx="248.92" cy="88.18" r="1.34" fill="#1464cc" stroke="#0a3c88" stroke-width="0.45" opacity="0.66"/>
<circle cx="221.83" cy="74.16" r="1.45" fill="#0a459e" opacity="0.69"/>
<circle cx="221.4" cy="73.73" r="0.58" fill="#2a78dc" opacity="0.6"/>
<circle cx="227.61" cy="94.62" r="1.73" fill="#0a459e" opacity="0.39"/>
<circle cx="246.24" cy="108.49" r="1.91" fill="#2a78dc" stroke="#0a3c88" stroke-width="0.45" opacity="0.9"/>
<circle cx="244.15" cy="132.9" r="1.2" fill="#083a8a" opacity="0.66"/>
<circle cx="246.66" cy="93.06" r="1.58" fill="#083a8a" opacity="0.36"/>
<circle cx="227.85" cy="90.83" r="1.91" fill="#2a78dc" stroke="#0a3c88" stroke-width="0.45" opacity="0.73"/>
<circle cx="227.28" cy="90.26" r="0.76" fill="#2a78dc" opacity="0.6"/>
<circle cx="247.14" cy="117.35" r="1.55" fill="#0f5cc4" stroke="#0a3c88" stroke-width="0.45" opacity="0.68"/>
<circle cx="246.67" cy="116.88" r="0.62" fill="#2a78dc" opacity="0.6"/>
<circle cx="256.39" cy="108.83" r="1.54" fill="#2a78dc" stroke="#0a3c88" stroke-width="0.45" opacity="0.77"/>
<circle cx="247.62" cy="116.05" r="1.83" fill="#2a78dc" stroke="#0a3c88" stroke-width="0.45" opacity="0.87"/>
<circle cx="242.17" cy="115.43" r="2.7" fill="#2a78dc" opacity="0.46"/>
<circle cx="245.69" cy="110.39" r="1.47" fill="#2a78dc" stroke="#0a3c88" stroke-width="0.45" opacity="0.92"/>
<circle cx="246.46" cy="70.71" r="2.06" fill="#1464cc" stroke="#0a3c88" stroke-width="0.45" opacity="0.79"/>
<circle cx="245.84" cy="70.09" r="0.83" fill="#2a78dc" opacity="0.6"/>
<circle cx="271.4" cy="80.79" r="2.29" fill="#2a78dc" stroke="#0a3c88" stroke-width="0.45" opacity="0.91"/>
<circle cx="250.16" cy="77.65" r="2.8" fill="#0b4ca8" opacity="0.75"/>
<circle cx="237.13" cy="125.03" r="1.48" fill="#2a78dc" stroke="#0a3c88" stroke-width="0.45" opacity="0.85"/>
<circle cx="236.69" cy="124.59" r="0.59" fill="#2a78dc" opacity="0.6"/>
<circle cx="251.61" cy="122.06" r="1.53" fill="#0f5cc4" stroke="#0a3c88" stroke-width="0.45" opacity="0.67"/>
<circle cx="228.95" cy="73.52" r="2.77" fill="#2a78dc" stroke="#0a3c88" stroke-width="0.45" opacity="0.84"/>
<circle cx="256.59" cy="96.97" r="1.59" fill="#0f5cc4" opacity="0.78"/>
<circle cx="256.11" cy="96.49" r="0.64" fill="#2a78dc" opacity="0.6"/>
<circle cx="218.9" cy="76.79" r="1.37" fill="#2a78dc" stroke="#0a3c88" stroke-width="0.45" opacity="0.72"/>
<circle cx="261.32" cy="85.4" r="2.52" fill="#0f5cc4" stroke="#0a3c88" stroke-width="0.45" opacity="0.79"/>
<circle cx="260.57" cy="84.64" r="1.01" fill="#2a78dc" opacity="0.6"/>
<circle cx="259.75" cy="83.51" r="2.45" fill="#1464cc" stroke="#0a3c88" stroke-width="0.45" opacity="0.82"/>
<circle cx="259.02" cy="82.78" r="0.98" fill="#2a78dc" opacity="0.6"/>
<circle cx="241.65" cy="90.73" r="2.26" fill="#083a8a" opacity="0.62"/>
<circle cx="243.46" cy="134.26" r="2.38" fill="#2a78dc" opacity="0.42"/>
<circle cx="221.54" cy="78.55" r="1.38" fill="#2a78dc" stroke="#0a3c88" stroke-width="0.45" opacity="0.9"/>
<circle cx="239.62" cy="74.85" r="1.48" fill="#0f5cc4" opacity="0.71"/>
<circle cx="245.72" cy="79.3" r="1.81" fill="#1464cc" stroke="#0a3c88" stroke-width="0.45" opacity="0.78"/>
<circle cx="245.18" cy="78.76" r="0.72" fill="#2a78dc" opacity="0.6"/>
<circle cx="224.69" cy="114.18" r="1.86" fill="#2a78dc" opacity="0.79"/>
<circle cx="224.13" cy="113.62" r="0.75" fill="#2a78dc" opacity="0.6"/>
<circle cx="237.56" cy="101.19" r="2.03" fill="#0f5cc4" stroke="#0a3c88" stroke-width="0.45" opacity="0.8"/>
<circle cx="248.88" cy="117.63" r="2.61" fill="#1464cc" opacity="0.6"/>
<circle cx="236.6" cy="78.98" r="2.65" fill="#0f5cc4" stroke="#0a3c88" stroke-width="0.45" opacity="0.87"/>
<circle cx="235.81" cy="78.18" r="1.06" fill="#2a78dc" opacity="0.6"/>
<circle cx="237.31" cy="111.85" r="1.99" fill="#0f5cc4" opacity="0.58"/>
<circle cx="236.71" cy="111.26" r="0.8" fill="#2a78dc" opacity="0.6"/>
<circle cx="226.86" cy="114.82" r="1.36" fill="#0f5cc4" stroke="#0a3c88" stroke-width="0.45" opacity="0.65"/>
<circle cx="243.71" cy="94.67" r="2.5" fill="#2a78dc" stroke="#0a3c88" stroke-width="0.45" opacity="0.8"/>
<circle cx="242.96" cy="93.92" r="1" fill="#2a78dc" opacity="0.6"/>
<circle cx="235.78" cy="97.37" r="2.32" fill="#1464cc" opacity="0.37"/>
<circle cx="235.08" cy="96.67" r="0.93" fill="#2a78dc" opacity="0.6"/>
<circle cx="250.1" cy="80.39" r="2.4" fill="#0b4ca8" opacity="0.39"/>
<circle cx="253.76" cy="97.87" r="2.73" fill="#1464cc" stroke="#0a3c88" stroke-width="0.45" opacity="0.8"/>
<circle cx="239.39" cy="118.41" r="2.46" fill="#2a78dc" opacity="0.74"/>
<circle cx="238.65" cy="117.67" r="0.99" fill="#2a78dc" opacity="0.6"/>
<circle cx="233.95" cy="73.31" r="2.04" fill="#1464cc" stroke="#0a3c88" stroke-width="0.45" opacity="0.84"/>
<circle cx="233.34" cy="72.7" r="0.82" fill="#2a78dc" opacity="0.6"/>
<circle cx="224.59" cy="97.98" r="2.61" fill="#2a78dc" stroke="#0a3c88" stroke-width="0.45" opacity="0.67"/>
<circle cx="223.81" cy="97.2" r="1.04" fill="#2a78dc" opacity="0.6"/>
<circle cx="252.68" cy="103.26" r="2.67" fill="#1464cc" opacity="0.73"/>
<circle cx="251.88" cy="102.45" r="1.07" fill="#2a78dc" opacity="0.6"/>
<circle cx="239.95" cy="109.16" r="1.74" fill="#2a78dc" stroke="#0a3c88" stroke-width="0.45" opacity="0.88"/>
<path d="M224.45,79.45C225.66,76.85 225.96,78.28 227.69,76.2C229.41,74.13 229.2,73.22 230.93,71.67C232.66,70.11 232.96,69.68 234.17,70.37C235.38,71.06 234.25,73.4 235.46,74.26C236.67,75.12 237.32,73.09 238.7,73.61C240.09,74.13 241.17,74.65 240.65,76.2C240.13,77.76 238.49,77.72 236.76,79.45C235.03,81.17 235.72,80.96 234.17,82.69C232.61,84.41 233,84.37 230.93,85.93C228.85,87.48 228.46,88.52 226.39,88.52C224.32,88.52 223.67,88.35 223.15,85.93C222.63,83.51 223.24,82.04 224.45,79.45Z" fill="#e02636"/>
<circle cx="226.79" cy="83.47" r="1.27" fill="#f4525e" opacity="0.66"/>
<circle cx="225.68" cy="86.76" r="0.78" fill="#f4525e" opacity="0.6"/>
<circle cx="230.62" cy="74.08" r="1.06" fill="#f4525e" opacity="0.62"/>
<circle cx="234.13" cy="79.9" r="1.01" fill="#b01828" opacity="0.56"/>
<circle cx="223.76" cy="83.36" r="0.82" fill="#f4525e" opacity="0.42"/>
<circle cx="228.64" cy="76.03" r="1.15" fill="#b01828" opacity="0.41"/>
<circle cx="239.4" cy="75.43" r="1.06" fill="#b01828" opacity="0.6"/>
<circle cx="227.89" cy="78.18" r="1.08" fill="#b01828" opacity="0.58"/>
<circle cx="232.14" cy="73.55" r="1.22" fill="#b01828" opacity="0.78"/>
<circle cx="225.32" cy="81.23" r="1.05" fill="#b01828" opacity="0.7"/>
<circle cx="236.72" cy="75.38" r="1.19" fill="#f4525e" opacity="0.43"/>
<circle cx="232.12" cy="71.96" r="1.03" fill="#f4525e" opacity="0.64"/>
<circle cx="231.11" cy="80.49" r="1.34" fill="#f4525e" opacity="0.42"/>
<circle cx="228.7" cy="76.43" r="1.15" fill="#f4525e" opacity="0.75"/>
<circle cx="229.9" cy="82.34" r="1.13" fill="#f4525e" opacity="0.53"/>
<circle cx="240.23" cy="76.11" r="0.83" fill="#b01828" opacity="0.8"/>
<circle cx="227.51" cy="81.46" r="0.84" fill="#f4525e" opacity="0.59"/>
<circle cx="227.68" cy="84.23" r="0.86" fill="#b01828" opacity="0.41"/>
<circle cx="230.36" cy="73.45" r="0.95" fill="#b01828" opacity="0.63"/>
<circle cx="229.79" cy="75.37" r="0.75" fill="#b01828" opacity="0.65"/>
<circle cx="234.59" cy="72.26" r="1.24" fill="#f4525e" opacity="0.61"/>
<circle cx="226.55" cy="87.96" r="0.87" fill="#f4525e" opacity="0.53"/>
<circle cx="226.01" cy="84.62" r="0.93" fill="#b01828" opacity="0.68"/>
<circle cx="228.41" cy="80.32" r="0.93" fill="#f4525e" opacity="0.46"/>
<circle cx="231.26" cy="80.51" r="1.29" fill="#f4525e" opacity="0.77"/>
<circle cx="228.69" cy="81.21" r="1.19" fill="#b01828" opacity="0.53"/>
<circle cx="232.89" cy="82.85" r="1.23" fill="#b01828" opacity="0.65"/>
<circle cx="231.51" cy="78.33" r="1" fill="#b01828" opacity="0.68"/>
<circle cx="239.23" cy="76.18" r="0.8" fill="#f4525e" opacity="0.61"/>
<circle cx="226.09" cy="86.11" r="0.99" fill="#b01828" opacity="0.77"/>
<circle cx="237.73" cy="74.72" r="1.29" fill="#b01828" opacity="0.69"/>
<circle cx="232.52" cy="75.23" r="1.24" fill="#b01828" opacity="0.61"/>
<circle cx="232.14" cy="75.63" r="1.21" fill="#f4525e" opacity="0.53"/>
<circle cx="231.73" cy="79.82" r="0.75" fill="#f4525e" opacity="0.74"/>
<circle cx="231.95" cy="73.31" r="0.72" fill="#f4525e" opacity="0.48"/>
<circle cx="230.84" cy="79.94" r="0.78" fill="#b01828" opacity="0.73"/>
<circle cx="232.61" cy="72.06" r="1.06" fill="#b01828" opacity="0.59"/>
<circle cx="233.13" cy="77.63" r="0.94" fill="#f4525e" opacity="0.46"/>
<circle cx="226.12" cy="80.31" r="0.76" fill="#b01828" opacity="0.5"/>
<circle cx="226.53" cy="80.49" r="1.14" fill="#b01828" opacity="0.64"/>
<circle cx="230.94" cy="74.45" r="1.01" fill="#b01828" opacity="0.63"/>
<circle cx="238.82" cy="74.38" r="1.36" fill="#f4525e" opacity="0.42"/>
<circle cx="238.65" cy="77.18" r="1" fill="#b01828" opacity="0.69"/>
<circle cx="230.59" cy="72.36" r="0.88" fill="#f4525e" opacity="0.76"/>
<circle cx="231.77" cy="82.01" r="0.97" fill="#b01828" opacity="0.6"/>
<circle cx="226.57" cy="80.73" r="0.83" fill="#f4525e" opacity="0.62"/>
<circle cx="228.71" cy="86.8" r="0.88" fill="#b01828" opacity="0.8"/>
<circle cx="230.4" cy="81.64" r="0.7" fill="#f4525e" opacity="0.71"/>
<circle cx="224.68" cy="84.89" r="1.11" fill="#f4525e" opacity="0.62"/>
<circle cx="225.59" cy="79.2" r="0.79" fill="#b01828" opacity="0.68"/>
<circle cx="228.96" cy="80.68" r="1.14" fill="#b01828" opacity="0.65"/>
<circle cx="227.43" cy="83.27" r="1.07" fill="#f4525e" opacity="0.58"/>
<path d="M245.83,79.45C246.87,77.72 247.95,77.37 250.37,76.85C252.79,76.33 253.01,76.81 254.91,77.5C256.81,78.19 257.16,78.06 257.5,79.45C257.85,80.83 257.42,81.3 256.21,82.69C255,84.07 254.87,83.94 252.96,84.63C251.06,85.32 250.8,85.62 249.08,85.28C247.35,84.93 247.35,84.89 246.48,83.33C245.62,81.78 244.8,81.17 245.83,79.45Z" fill="#e02636"/>
<circle cx="251.23" cy="83.08" r="0.72" fill="#b01828" opacity="0.48"/>
<circle cx="256.2" cy="79.43" r="0.91" fill="#f4525e" opacity="0.43"/>
<circle cx="254.82" cy="79.55" r="1.05" fill="#b01828" opacity="0.7"/>
<circle cx="256.53" cy="79.24" r="1.02" fill="#b01828" opacity="0.57"/>
<circle cx="256.36" cy="79.84" r="0.84" fill="#f4525e" opacity="0.44"/>
<circle cx="253.01" cy="81.07" r="0.79" fill="#b01828" opacity="0.51"/>
<circle cx="248.75" cy="79.3" r="1.24" fill="#b01828" opacity="0.77"/>
<circle cx="252.93" cy="78.49" r="0.77" fill="#f4525e" opacity="0.69"/>
<circle cx="251.12" cy="81.96" r="1.33" fill="#f4525e" opacity="0.64"/>
<circle cx="256.01" cy="79.97" r="1.22" fill="#f4525e" opacity="0.7"/>
<circle cx="253.51" cy="80.64" r="1.04" fill="#b01828" opacity="0.63"/>
<circle cx="249.23" cy="81.46" r="1.32" fill="#b01828" opacity="0.64"/>
<circle cx="252.82" cy="78.97" r="1.13" fill="#f4525e" opacity="0.45"/>
<circle cx="254.17" cy="80.39" r="0.78" fill="#b01828" opacity="0.68"/>
<circle cx="253.17" cy="78.45" r="1.04" fill="#b01828" opacity="0.47"/>
<circle cx="246.75" cy="80.61" r="1.2" fill="#f4525e" opacity="0.7"/>
<path d="M235.46,90.46C236.5,88.39 237.15,87.91 238.7,87.22C240.26,86.53 240.78,86.14 241.3,87.87C241.82,89.6 241.51,91.46 240.65,93.7C239.79,95.95 239.61,95.95 238.06,96.3C236.5,96.64 235.51,96.56 234.82,95C234.12,93.45 234.43,92.54 235.46,90.46Z" fill="#e02636"/>
<circle cx="240.78" cy="89.98" r="0.73" fill="#f4525e" opacity="0.68"/>
<circle cx="236.43" cy="95.4" r="0.93" fill="#f4525e" opacity="0.4"/>
<circle cx="239.4" cy="92" r="1.28" fill="#f4525e" opacity="0.54"/>
<circle cx="236.11" cy="90.91" r="0.72" fill="#b01828" opacity="0.71"/>
<circle cx="237.19" cy="90.16" r="0.86" fill="#f4525e" opacity="0.61"/>
<circle cx="240.06" cy="91.93" r="0.99" fill="#f4525e" opacity="0.54"/>
<circle cx="235.5" cy="92.52" r="1.02" fill="#f4525e" opacity="0.46"/>
<circle cx="238.33" cy="89.97" r="1.34" fill="#b01828" opacity="0.45"/>
<circle cx="239.64" cy="88.38" r="0.76" fill="#f4525e" opacity="0.55"/>
<path d="M222.5,111.21C223.19,110.69 224.79,112.55 227.04,111.85C229.28,111.16 229.03,110.34 230.93,108.61C232.83,106.88 232.44,105.89 234.17,105.37C235.9,104.85 236.72,105.11 237.41,106.67C238.1,108.22 236.76,108.79 236.76,111.21C236.76,113.63 238.1,114.36 237.41,115.74C236.72,117.13 236.24,116.74 234.17,116.39C232.09,116.05 232.22,115.14 229.63,114.45C227.04,113.76 226.35,114.66 224.45,113.8C222.54,112.93 221.81,111.72 222.5,111.21Z" fill="#e02636"/>
<circle cx="230.27" cy="111.44" r="0.94" fill="#b01828" opacity="0.55"/>
<circle cx="234.86" cy="113.16" r="0.78" fill="#f4525e" opacity="0.79"/>
<circle cx="234.97" cy="106.45" r="1.36" fill="#f4525e" opacity="0.67"/>
<circle cx="232.98" cy="110.19" r="0.8" fill="#f4525e" opacity="0.53"/>
<circle cx="236.95" cy="107.77" r="1.34" fill="#b01828" opacity="0.72"/>
<circle cx="224.96" cy="111.62" r="1.3" fill="#b01828" opacity="0.68"/>
<circle cx="234.88" cy="105.9" r="1.1" fill="#f4525e" opacity="0.41"/>
<circle cx="235.02" cy="110.98" r="0.76" fill="#b01828" opacity="0.64"/>
<circle cx="235.79" cy="114.62" r="1.27" fill="#f4525e" opacity="0.77"/>
<circle cx="235.09" cy="105.75" r="0.71" fill="#f4525e" opacity="0.72"/>
<circle cx="236.03" cy="114.78" r="1.08" fill="#f4525e" opacity="0.67"/>
<circle cx="233.2" cy="109.42" r="1" fill="#b01828" opacity="0.71"/>
<circle cx="225.61" cy="113.87" r="0.82" fill="#b01828" opacity="0.75"/>
<circle cx="235.92" cy="112.89" r="0.92" fill="#b01828" opacity="0.46"/>
<circle cx="236.87" cy="108.86" r="0.88" fill="#f4525e" opacity="0.66"/>
<circle cx="235.91" cy="106.6" r="1.07" fill="#b01828" opacity="0.53"/>
<circle cx="233.02" cy="109.48" r="0.72" fill="#f4525e" opacity="0.56"/>
<circle cx="230.31" cy="111.29" r="1.07" fill="#b01828" opacity="0.75"/>
<circle cx="237.3" cy="106.76" r="1.35" fill="#f4525e" opacity="0.7"/>
<circle cx="223.24" cy="111.44" r="1.12" fill="#f4525e" opacity="0.77"/>
<circle cx="236.8" cy="108.92" r="1.26" fill="#b01828" opacity="0.58"/>
<circle cx="233.53" cy="110.23" r="1.09" fill="#f4525e" opacity="0.77"/>
<circle cx="224.78" cy="113.22" r="0.97" fill="#b01828" opacity="0.58"/>
<circle cx="230.37" cy="109.84" r="0.79" fill="#f4525e" opacity="0.49"/>
<circle cx="236.21" cy="112.49" r="0.71" fill="#b01828" opacity="0.71"/>
<circle cx="233.26" cy="115.56" r="1.34" fill="#f4525e" opacity="0.51"/>
<circle cx="235.28" cy="106.14" r="1.33" fill="#f4525e" opacity="0.73"/>
<path d="M241.95,113.15C242.81,112.29 243.98,111.81 245.19,112.5C246.4,113.19 246.83,114.53 246.48,115.74C246.14,116.95 245.1,117.04 243.89,117.04C242.68,117.04 242.46,116.78 241.95,115.74C241.43,114.71 241.08,114.01 241.95,113.15Z" fill="#e02636"/>
<circle cx="244.98" cy="113.14" r="1.09" fill="#f4525e" opacity="0.69"/>
<circle cx="244.48" cy="114.57" r="1.06" fill="#f4525e" opacity="0.43"/>
<circle cx="243.03" cy="113.41" r="1.34" fill="#b01828" opacity="0.8"/>
<path d="M249.08,106.02C249.59,104.98 250.11,104.21 251.67,104.72C253.22,105.24 253.87,106.41 254.91,107.96C255.95,109.52 256.25,110.04 255.56,110.56C254.87,111.08 253.87,110.43 252.32,109.91C250.76,109.39 250.59,109.65 249.72,108.61C248.86,107.58 248.56,107.06 249.08,106.02Z" fill="#e02636"/>
<circle cx="250.2" cy="106.05" r="1.39" fill="#f4525e" opacity="0.78"/>
<circle cx="249.86" cy="105.96" r="0.88" fill="#f4525e" opacity="0.44"/>
<circle cx="252.79" cy="107.8" r="1.1" fill="#f4525e" opacity="0.73"/>
<circle cx="251.72" cy="107.1" r="1.1" fill="#b01828" opacity="0.56"/>
<circle cx="253.49" cy="107.29" r="1.17" fill="#f4525e" opacity="0.58"/>
<circle cx="250.36" cy="106.61" r="1.16" fill="#f4525e" opacity="0.52"/>
</g>
<path d="M223.15,117.69C225.48,113.54 232.74,115.61 236.11,117.04C239.48,118.47 238.19,121.71 240,124.82C241.82,127.93 244.41,128.97 245.19,132.6C245.96,136.23 248.04,141.93 243.89,142.97C239.74,144 228.59,142.84 224.45,137.78C220.3,132.72 220.82,121.84 223.15,117.69Z" fill="#ffffff" opacity="0.27"/>
</g>
<g opacity="0.45">
<defs><clipPath id="cps2s"><path d="M80.76,230.94C77.81,233.36 78.63,236.87 78.51,241.3C78.39,245.74 79.43,245.91 80.24,249.94C81.04,253.98 80.35,256.77 81.97,258.58C83.58,260.4 85.13,259.33 87.15,257.72C89.16,256.11 89.6,254.7 90.6,251.67C91.61,248.65 91.35,249.6 91.47,244.76C91.59,239.92 93.62,234.16 91.12,230.94C88.62,227.71 83.7,228.52 80.76,230.94Z"/></clipPath><filter id="bls2s" x="-5%" y="-5%" width="110%" height="110%"><feGaussianBlur stdDeviation="0.45"/></filter></defs>
<g filter="url(#bls2s)">
<path d="M80.76,230.94C77.81,233.36 78.63,236.87 78.51,241.3C78.39,245.74 79.43,245.91 80.24,249.94C81.04,253.98 80.35,256.77 81.97,258.58C83.58,260.4 85.13,259.33 87.15,257.72C89.16,256.11 89.6,254.7 90.6,251.67C91.61,248.65 91.35,249.6 91.47,244.76C91.59,239.92 93.62,234.16 91.12,230.94C88.62,227.71 83.7,228.52 80.76,230.94Z" fill="#c8c8c8"/>
<circle cx="80.75" cy="232.12" r="1.37" fill="#c8c8c8"/>
<circle cx="80.5" cy="235" r="1.46" fill="#a0a0a0"/>
<circle cx="79.7" cy="237.36" r="1.62" fill="#a0a0a0"/>
<circle cx="80.28" cy="240.36" r="1.95" fill="#a0a0a0"/>
<circle cx="78.9" cy="241.73" r="1.24" fill="#c8c8c8"/>
<circle cx="80.24" cy="244.7" r="1.38" fill="#c8c8c8"/>
<circle cx="80.11" cy="246.72" r="1.2" fill="#a0a0a0"/>
<circle cx="81.44" cy="248.07" r="1.77" fill="#a0a0a0"/>
<circle cx="80.84" cy="249.82" r="1.81" fill="#c8c8c8"/>
<circle cx="81.18" cy="252.76" r="1.05" fill="#a0a0a0"/>
<circle cx="81.56" cy="253.55" r="1.24" fill="#c8c8c8"/>
<circle cx="82.01" cy="256.88" r="1" fill="#c8c8c8"/>
<circle cx="83.4" cy="258.05" r="1.2" fill="#c8c8c8"/>
<circle cx="84.81" cy="256.92" r="1.92" fill="#a0a0a0"/>
<circle cx="87.45" cy="256.71" r="1.2" fill="#c8c8c8"/>
<circle cx="88.48" cy="254.23" r="1.09" fill="#c8c8c8"/>
<circle cx="89.82" cy="252.16" r="1.72" fill="#a0a0a0"/>
<circle cx="90.28" cy="250.51" r="1.61" fill="#a0a0a0"/>
<circle cx="90.62" cy="248.17" r="1.58" fill="#a0a0a0"/>
<circle cx="90.47" cy="245.75" r="1.24" fill="#c8c8c8"/>
<circle cx="90.32" cy="244.1" r="1.85" fill="#c8c8c8"/>
<circle cx="90.56" cy="241.85" r="1.11" fill="#a0a0a0"/>
<circle cx="90.36" cy="240.52" r="1.4" fill="#c8c8c8"/>
<circle cx="91.05" cy="237.65" r="1.61" fill="#c8c8c8"/>
<circle cx="90.88" cy="235.87" r="1.44" fill="#c8c8c8"/>
<circle cx="90.83" cy="233.56" r="1.28" fill="#c8c8c8"/>
<circle cx="90.52" cy="232.35" r="1.78" fill="#a0a0a0"/>
<circle cx="87.77" cy="232.12" r="1.78" fill="#c8c8c8"/>
<circle cx="85.27" cy="232.14" r="1.23" fill="#a0a0a0"/>
<circle cx="82.79" cy="232.23" r="1.96" fill="#c8c8c8"/>
<g clip-path="url(#cps2s)">
<circle cx="87.16" cy="235.67" r="1.64" fill="#8a8a8a" opacity="0.77"/>
<circle cx="81.92" cy="235.48" r="0.92" fill="#8a8a8a" opacity="0.38"/>
<circle cx="81.64" cy="235.2" r="0.37" fill="#ffffff" opacity="0.6"/>
<circle cx="83.55" cy="247.84" r="1.77" fill="#8a8a8a" opacity="0.57"/>
<circle cx="83.02" cy="247.31" r="0.71" fill="#ffffff" opacity="0.6"/>
<circle cx="82.35" cy="234.2" r="1.22" fill="#a0a0a0" opacity="0.61"/>
<circle cx="87.1" cy="238.52" r="1.4" fill="#ffffff" opacity="0.39"/>
<circle cx="86.68" cy="238.1" r="0.56" fill="#ffffff" opacity="0.6"/>
<circle cx="85.36" cy="235.73" r="1.43" fill="#8a8a8a" opacity="0.74"/>
<circle cx="84.93" cy="235.3" r="0.57" fill="#ffffff" opacity="0.6"/>
<circle cx="84.65" cy="247.29" r="1.35" fill="#a0a0a0" opacity="0.62"/>
<circle cx="84.24" cy="246.89" r="0.54" fill="#ffffff" opacity="0.6"/>
<circle cx="86.04" cy="247.12" r="1.24" fill="#8a8a8a" opacity="0.74"/>
<circle cx="90.89" cy="232.72" r="1.02" fill="#8a8a8a" opacity="0.66"/>
<circle cx="84.86" cy="248.54" r="0.85" fill="#ffffff" opacity="0.46"/>
<circle cx="83.32" cy="257.55" r="1.37" fill="#8a8a8a" opacity="0.37"/>
<circle cx="86.46" cy="249.68" r="1.21" fill="#8a8a8a" opacity="0.37"/>
<circle cx="86.6" cy="246.06" r="1.27" fill="#e8e8e8" opacity="0.5"/>
<circle cx="79.89" cy="240.58" r="1.03" fill="#e8e8e8" opacity="0.79"/>
<circle cx="79.58" cy="240.27" r="0.41" fill="#ffffff" opacity="0.6"/>
<circle cx="86.87" cy="233.22" r="0.9" fill="#8a8a8a" opacity="0.52"/>
<circle cx="81.57" cy="238.02" r="1.32" fill="#a0a0a0" opacity="0.46"/>
<circle cx="90.96" cy="245.3" r="1.22" fill="#ffffff" opacity="0.73"/>
<circle cx="81.37" cy="232.56" r="1.08" fill="#8a8a8a" opacity="0.79"/>
<circle cx="91.05" cy="233.55" r="1.12" fill="#a0a0a0" opacity="0.57"/>
<circle cx="90.71" cy="233.21" r="0.45" fill="#ffffff" opacity="0.6"/>
<circle cx="89.36" cy="241.97" r="1.01" fill="#a0a0a0" opacity="0.56"/>
<circle cx="84.42" cy="241.58" r="1.13" fill="#8a8a8a" opacity="0.43"/>
<circle cx="80.95" cy="250.61" r="1.46" fill="#8a8a8a" opacity="0.5"/>
<circle cx="80.52" cy="250.17" r="0.58" fill="#ffffff" opacity="0.6"/>
<circle cx="86.37" cy="251.99" r="1.68" fill="#e8e8e8" opacity="0.66"/>
<circle cx="83.98" cy="237.22" r="1.53" fill="#e8e8e8" opacity="0.56"/>
<circle cx="83.52" cy="236.76" r="0.61" fill="#ffffff" opacity="0.6"/>
<circle cx="90.4" cy="236.61" r="1.02" fill="#ffffff" opacity="0.37"/>
<circle cx="90.09" cy="236.3" r="0.41" fill="#ffffff" opacity="0.6"/>
<circle cx="80.63" cy="233.59" r="1.62" fill="#ffffff" opacity="0.53"/>
<circle cx="89.76" cy="245" r="1.16" fill="#e8e8e8" opacity="0.49"/>
<circle cx="89.42" cy="244.65" r="0.46" fill="#ffffff" opacity="0.6"/>
<circle cx="80.87" cy="247.87" r="1.67" fill="#e8e8e8" opacity="0.49"/>
<circle cx="82.12" cy="245.38" r="1.55" fill="#8a8a8a" opacity="0.47"/>
<circle cx="81.65" cy="244.92" r="0.62" fill="#ffffff" opacity="0.6"/>
<circle cx="84.36" cy="249.73" r="1.03" fill="#a0a0a0" opacity="0.68"/>
<circle cx="84.05" cy="249.42" r="0.41" fill="#ffffff" opacity="0.6"/>
<circle cx="82.12" cy="240.46" r="1.38" fill="#e8e8e8" opacity="0.55"/>
<circle cx="81.71" cy="240.04" r="0.55" fill="#ffffff" opacity="0.6"/>
<circle cx="88.2" cy="234.65" r="1.22" fill="#ffffff" opacity="0.35"/>
<circle cx="83.11" cy="241.22" r="1.17" fill="#ffffff" opacity="0.55"/>
<circle cx="80.98" cy="233.67" r="0.97" fill="#ffffff" opacity="0.47"/>
<circle cx="80.69" cy="233.38" r="0.39" fill="#ffffff" opacity="0.6"/>
<circle cx="84.59" cy="245.47" r="1.56" fill="#a0a0a0" opacity="0.65"/>
<circle cx="80.76" cy="232.5" r="1.65" fill="#e8e8e8" opacity="0.65"/>
<circle cx="80.26" cy="232" r="0.66" fill="#ffffff" opacity="0.6"/>
<circle cx="87.67" cy="240.07" r="1.2" fill="#8a8a8a" opacity="0.55"/>
<circle cx="80.37" cy="246.82" r="1" fill="#ffffff" opacity="0.73"/>
<circle cx="90.46" cy="235.14" r="1.18" fill="#ffffff" opacity="0.41"/>
<circle cx="90.11" cy="234.79" r="0.47" fill="#ffffff" opacity="0.6"/>
<circle cx="88.21" cy="254.05" r="1.47" fill="#ffffff" opacity="0.58"/>
<circle cx="87.77" cy="253.61" r="0.59" fill="#ffffff" opacity="0.6"/>
<circle cx="86.45" cy="257.19" r="1.15" fill="#8a8a8a" opacity="0.68"/>
<circle cx="84.52" cy="256.69" r="0.9" fill="#e8e8e8" opacity="0.56"/>
<circle cx="84.24" cy="256.42" r="0.36" fill="#ffffff" opacity="0.6"/>
<circle cx="82.53" cy="237.17" r="0.98" fill="#ffffff" opacity="0.52"/>
<circle cx="82.7" cy="256.23" r="1.35" fill="#8a8a8a" opacity="0.39"/>
<circle cx="82.29" cy="255.83" r="0.54" fill="#ffffff" opacity="0.6"/>
<circle cx="81.86" cy="255.35" r="1.24" fill="#8a8a8a" opacity="0.39"/>
<circle cx="81.49" cy="254.98" r="0.5" fill="#ffffff" opacity="0.6"/>
<circle cx="84.03" cy="235.81" r="1.04" fill="#a0a0a0" opacity="0.51"/>
<circle cx="90.13" cy="240.58" r="1.32" fill="#e8e8e8" opacity="0.42"/>
<circle cx="82.1" cy="238.97" r="1.24" fill="#ffffff" opacity="0.69"/>
<circle cx="81.73" cy="238.6" r="0.49" fill="#ffffff" opacity="0.6"/>
<circle cx="87.33" cy="237.1" r="1.06" fill="#8a8a8a" opacity="0.8"/>
<circle cx="85.1" cy="251.12" r="0.86" fill="#a0a0a0" opacity="0.54"/>
<circle cx="84.84" cy="250.86" r="0.35" fill="#ffffff" opacity="0.6"/>
</g>
</g>
</g>
<defs><clipPath id="cps2"><path d="M67.28,155.78C69.5,154.57 70.79,154.39 73.33,154.91C75.87,155.44 76.11,156.21 78.16,158.02C80.22,159.84 80.69,160.19 82.14,162.69C83.59,165.19 84.02,165.71 84.38,168.73C84.75,171.76 83.29,172.42 83.69,175.65C84.1,178.87 85.06,179.33 86.11,182.56C87.16,185.78 88.06,186.65 88.19,189.47C88.31,192.29 85.95,192.23 86.63,194.65C87.32,197.07 89.27,197.09 91.12,199.84C92.98,202.58 92.72,202.69 94.58,206.4C96.43,210.11 97.38,215.01 99.07,215.73C100.76,216.46 100.99,212.33 101.84,209.51C102.68,206.69 102.94,206.46 102.7,203.64C102.46,200.81 100.52,200.24 100.8,197.42C101.08,194.59 101.77,193.15 103.91,191.54C106.05,189.93 107.13,189.94 109.96,190.51C112.78,191.07 113.79,191.78 116,193.96C118.22,196.14 119.46,197.62 119.46,199.84C119.46,202.05 117.98,202.94 116,203.46C114.03,203.99 113.09,201.92 110.99,202.08C108.9,202.24 108.31,202.74 107.02,204.16C105.73,205.57 106.15,206.07 105.46,208.13C104.78,210.19 104.04,210.43 104.08,212.97C104.12,215.51 105.44,216.19 105.64,219.02C105.84,221.84 105.35,222.48 104.95,225.06C104.54,227.64 104.84,228.1 103.91,230.07C102.98,232.05 103.07,233.33 100.97,233.53C98.88,233.73 97.34,230.94 94.92,230.94C92.51,230.94 92.82,232.52 90.6,233.53C88.39,234.54 88.04,235.46 85.42,235.26C82.8,235.06 82.2,233.07 79.37,232.67C76.55,232.26 76.15,234.34 73.33,233.53C70.5,232.72 69.7,231.63 67.28,229.21C64.86,226.79 64.57,225.98 62.96,223.16C61.35,220.34 60.77,220.14 60.37,217.11C59.96,214.09 60.63,213.43 61.23,210.2C61.84,206.98 62.96,206.52 62.96,203.29C62.96,200.07 61.03,199.4 61.23,196.38C61.43,193.36 63.62,193.15 63.82,190.33C64.02,187.51 62.9,187.11 62.1,184.29C61.29,181.46 61.17,181.06 60.37,178.24C59.56,175.42 58.64,175.21 58.64,172.19C58.64,169.17 59.16,168.1 60.37,165.28C61.58,162.46 62.21,162.31 63.82,160.1C65.44,157.88 65.06,156.98 67.28,155.78Z"/></clipPath><filter id="bls2" x="-5%" y="-5%" width="110%" height="110%"><feGaussianBlur stdDeviation="0.3"/></filter></defs>
<g filter="url(#bls2)">
<path d="M67.28,155.78C69.5,154.57 70.79,154.39 73.33,154.91C75.87,155.44 76.11,156.21 78.16,158.02C80.22,159.84 80.69,160.19 82.14,162.69C83.59,165.19 84.02,165.71 84.38,168.73C84.75,171.76 83.29,172.42 83.69,175.65C84.1,178.87 85.06,179.33 86.11,182.56C87.16,185.78 88.06,186.65 88.19,189.47C88.31,192.29 85.95,192.23 86.63,194.65C87.32,197.07 89.27,197.09 91.12,199.84C92.98,202.58 92.72,202.69 94.58,206.4C96.43,210.11 97.38,215.01 99.07,215.73C100.76,216.46 100.99,212.33 101.84,209.51C102.68,206.69 102.94,206.46 102.7,203.64C102.46,200.81 100.52,200.24 100.8,197.42C101.08,194.59 101.77,193.15 103.91,191.54C106.05,189.93 107.13,189.94 109.96,190.51C112.78,191.07 113.79,191.78 116,193.96C118.22,196.14 119.46,197.62 119.46,199.84C119.46,202.05 117.98,202.94 116,203.46C114.03,203.99 113.09,201.92 110.99,202.08C108.9,202.24 108.31,202.74 107.02,204.16C105.73,205.57 106.15,206.07 105.46,208.13C104.78,210.19 104.04,210.43 104.08,212.97C104.12,215.51 105.44,216.19 105.64,219.02C105.84,221.84 105.35,222.48 104.95,225.06C104.54,227.64 104.84,228.1 103.91,230.07C102.98,232.05 103.07,233.33 100.97,233.53C98.88,233.73 97.34,230.94 94.92,230.94C92.51,230.94 92.82,232.52 90.6,233.53C88.39,234.54 88.04,235.46 85.42,235.26C82.8,235.06 82.2,233.07 79.37,232.67C76.55,232.26 76.15,234.34 73.33,233.53C70.5,232.72 69.7,231.63 67.28,229.21C64.86,226.79 64.57,225.98 62.96,223.16C61.35,220.34 60.77,220.14 60.37,217.11C59.96,214.09 60.63,213.43 61.23,210.2C61.84,206.98 62.96,206.52 62.96,203.29C62.96,200.07 61.03,199.4 61.23,196.38C61.43,193.36 63.62,193.15 63.82,190.33C64.02,187.51 62.9,187.11 62.1,184.29C61.29,181.46 61.17,181.06 60.37,178.24C59.56,175.42 58.64,175.21 58.64,172.19C58.64,169.17 59.16,168.1 60.37,165.28C61.58,162.46 62.21,162.31 63.82,160.1C65.44,157.88 65.06,156.98 67.28,155.78Z" fill="#bcbcbc"/>
<circle cx="68.67" cy="157.01" r="1.56" fill="#969696"/>
<circle cx="71.36" cy="155.91" r="1.86" fill="#969696"/>
<circle cx="74.4" cy="156.05" r="1.79" fill="#969696"/>
<circle cx="76.29" cy="157.97" r="1.54" fill="#bcbcbc"/>
<circle cx="79.03" cy="159.66" r="1.4" fill="#bcbcbc"/>
<circle cx="80.97" cy="161.77" r="1.83" fill="#bcbcbc"/>
<circle cx="82.31" cy="163.37" r="1.24" fill="#969696"/>
<circle cx="83.54" cy="166.93" r="1.59" fill="#bcbcbc"/>
<circle cx="84.38" cy="170.74" r="1.5" fill="#969696"/>
<circle cx="84.15" cy="172.87" r="1.41" fill="#bcbcbc"/>
<circle cx="83.89" cy="174.87" r="1.32" fill="#969696"/>
<circle cx="83.77" cy="176.2" r="1.56" fill="#bcbcbc"/>
<circle cx="85.02" cy="180.46" r="1.39" fill="#bcbcbc"/>
<circle cx="85.44" cy="181.1" r="1.93" fill="#969696"/>
<circle cx="86.52" cy="184.34" r="1.4" fill="#bcbcbc"/>
<circle cx="87.11" cy="186.34" r="1.27" fill="#969696"/>
<circle cx="87.41" cy="188.51" r="1.41" fill="#bcbcbc"/>
<circle cx="88.02" cy="190.17" r="1.1" fill="#969696"/>
<circle cx="87.24" cy="193.25" r="1.56" fill="#bcbcbc"/>
<circle cx="87.29" cy="196.65" r="1.77" fill="#969696"/>
<circle cx="87.97" cy="197.02" r="1.42" fill="#969696"/>
<circle cx="89.05" cy="199.24" r="1.97" fill="#bcbcbc"/>
<circle cx="90.03" cy="199.99" r="1.39" fill="#bcbcbc"/>
<circle cx="91.69" cy="201.82" r="1.15" fill="#bcbcbc"/>
<circle cx="93.46" cy="204.85" r="1.33" fill="#bcbcbc"/>
<circle cx="93.96" cy="205.94" r="1.21" fill="#bcbcbc"/>
<circle cx="95.55" cy="208.99" r="1.37" fill="#969696"/>
<circle cx="96.99" cy="211.77" r="1.14" fill="#bcbcbc"/>
<circle cx="97.61" cy="213.16" r="1.23" fill="#bcbcbc"/>
<circle cx="98.49" cy="214.68" r="1.63" fill="#969696"/>
<circle cx="99.82" cy="211.94" r="1.6" fill="#bcbcbc"/>
<circle cx="100.46" cy="211.03" r="1.51" fill="#969696"/>
<circle cx="100.82" cy="208.39" r="1.82" fill="#969696"/>
<circle cx="100.63" cy="204.99" r="1.93" fill="#bcbcbc"/>
<circle cx="101.22" cy="202.91" r="1.56" fill="#bcbcbc"/>
<circle cx="100.82" cy="199.99" r="1.92" fill="#bcbcbc"/>
<circle cx="100.23" cy="197.44" r="1.41" fill="#bcbcbc"/>
<circle cx="101.05" cy="195.51" r="1.37" fill="#bcbcbc"/>
<circle cx="102.31" cy="193.63" r="1.14" fill="#969696"/>
<circle cx="104.04" cy="191.82" r="1.69" fill="#bcbcbc"/>
<circle cx="106.93" cy="191.28" r="1.92" fill="#969696"/>
<circle cx="110.31" cy="191.17" r="1.96" fill="#bcbcbc"/>
<circle cx="111.74" cy="192.23" r="1.73" fill="#bcbcbc"/>
<circle cx="112.87" cy="193.16" r="1.55" fill="#bcbcbc"/>
<circle cx="115.58" cy="195.05" r="1.92" fill="#969696"/>
<circle cx="116.73" cy="197.07" r="1.87" fill="#bcbcbc"/>
<circle cx="117.77" cy="198.92" r="1.57" fill="#969696"/>
<circle cx="118.76" cy="200.24" r="1.01" fill="#bcbcbc"/>
<circle cx="115.26" cy="202.19" r="1.99" fill="#969696"/>
<circle cx="114.24" cy="203.15" r="1.74" fill="#969696"/>
<circle cx="111.82" cy="202.47" r="1.54" fill="#bcbcbc"/>
<circle cx="110.34" cy="202.24" r="1.09" fill="#bcbcbc"/>
<circle cx="106.92" cy="203.17" r="1.61" fill="#969696"/>
<circle cx="105.72" cy="206.14" r="1.37" fill="#bcbcbc"/>
<circle cx="104.45" cy="208.49" r="1.75" fill="#969696"/>
<circle cx="103.99" cy="210.9" r="1.24" fill="#969696"/>
<circle cx="103.21" cy="212.58" r="1.43" fill="#bcbcbc"/>
<circle cx="104.58" cy="216.93" r="1.38" fill="#969696"/>
<circle cx="105.19" cy="218.98" r="1.13" fill="#bcbcbc"/>
<circle cx="104.59" cy="222.63" r="1.95" fill="#bcbcbc"/>
<circle cx="104.1" cy="224.1" r="1.47" fill="#969696"/>
<circle cx="103.7" cy="227.17" r="1.52" fill="#969696"/>
<circle cx="103.22" cy="229.67" r="1.83" fill="#bcbcbc"/>
<circle cx="101.56" cy="231.91" r="1.28" fill="#bcbcbc"/>
<circle cx="99.61" cy="232.52" r="1.41" fill="#969696"/>
<circle cx="97.41" cy="231.74" r="1.14" fill="#bcbcbc"/>
<circle cx="94.06" cy="230.11" r="1.63" fill="#969696"/>
<circle cx="91.42" cy="232.31" r="1.68" fill="#969696"/>
<circle cx="90.06" cy="232.27" r="1.71" fill="#bcbcbc"/>
<circle cx="87.71" cy="233.84" r="1.27" fill="#bcbcbc"/>
<circle cx="84.8" cy="233.29" r="1.79" fill="#bcbcbc"/>
<circle cx="81.8" cy="232.63" r="1.89" fill="#969696"/>
<circle cx="78.91" cy="231.31" r="1.63" fill="#969696"/>
<circle cx="75.68" cy="232.26" r="1.65" fill="#969696"/>
<circle cx="73.02" cy="232.51" r="1.65" fill="#bcbcbc"/>
<circle cx="71.87" cy="230.22" r="1.9" fill="#969696"/>
<circle cx="69.09" cy="229.43" r="1.79" fill="#bcbcbc"/>
<circle cx="67.33" cy="228.27" r="1.08" fill="#969696"/>
<circle cx="65.43" cy="225.95" r="1.49" fill="#bcbcbc"/>
<circle cx="64.48" cy="224.16" r="1.04" fill="#bcbcbc"/>
<circle cx="63.94" cy="221.04" r="2" fill="#969696"/>
<circle cx="62.09" cy="217.58" r="1.49" fill="#bcbcbc"/>
<circle cx="61.31" cy="215.55" r="1.44" fill="#bcbcbc"/>
<circle cx="61.82" cy="213.49" r="1.84" fill="#969696"/>
<circle cx="62.66" cy="210.83" r="1.95" fill="#bcbcbc"/>
<circle cx="62.03" cy="209.5" r="1.14" fill="#969696"/>
<circle cx="62.75" cy="206.88" r="1.2" fill="#bcbcbc"/>
<circle cx="63.57" cy="204.55" r="1.03" fill="#969696"/>
<circle cx="63.45" cy="202.46" r="1.99" fill="#bcbcbc"/>
<circle cx="62.84" cy="200.02" r="1.07" fill="#969696"/>
<circle cx="62.48" cy="197.5" r="1.8" fill="#bcbcbc"/>
<circle cx="62.24" cy="195.63" r="1.13" fill="#969696"/>
<circle cx="63.53" cy="192.59" r="1.11" fill="#bcbcbc"/>
<circle cx="64.2" cy="189.06" r="1.13" fill="#bcbcbc"/>
<circle cx="63.21" cy="187.38" r="1.16" fill="#969696"/>
<circle cx="62.74" cy="184.23" r="1.36" fill="#bcbcbc"/>
<circle cx="62.1" cy="181.2" r="1.58" fill="#969696"/>
<circle cx="61.17" cy="177.94" r="1.7" fill="#bcbcbc"/>
<circle cx="59.98" cy="175.15" r="1.41" fill="#bcbcbc"/>
<circle cx="59.68" cy="172.31" r="1.86" fill="#bcbcbc"/>
<circle cx="60.27" cy="170.13" r="1.85" fill="#bcbcbc"/>
<circle cx="60.82" cy="168.41" r="1.74" fill="#bcbcbc"/>
<circle cx="61.43" cy="165.78" r="1.31" fill="#bcbcbc"/>
<circle cx="63.11" cy="161.8" r="1.19" fill="#bcbcbc"/>
<circle cx="64.25" cy="160.43" r="1.09" fill="#969696"/>
<circle cx="66.92" cy="157.94" r="1.42" fill="#bcbcbc"/>
<g clip-path="url(#cps2)">
<circle cx="70.84" cy="205.37" r="1.86" fill="#969696" opacity="0.66"/>
<circle cx="65.66" cy="195.54" r="1.81" fill="#ffffff" opacity="0.72"/>
<circle cx="95.94" cy="227.63" r="1.48" fill="#666666" opacity="0.44"/>
<circle cx="86.74" cy="216.35" r="1.29" fill="#efefef" stroke="#5a5a5a" stroke-width="0.45" opacity="0.6"/>
<circle cx="86.25" cy="214.31" r="1.39" fill="#666666" opacity="0.39"/>
<circle cx="85.83" cy="213.9" r="0.55" fill="#ffffff" opacity="0.6"/>
<circle cx="63.8" cy="222.55" r="1.95" fill="#ffffff" stroke="#5a5a5a" stroke-width="0.45" opacity="0.94"/>
<circle cx="74.35" cy="228.13" r="1.79" fill="#ffffff" stroke="#5a5a5a" stroke-width="0.45" opacity="0.84"/>
<circle cx="79.42" cy="192.58" r="0.91" fill="#efefef" stroke="#5a5a5a" stroke-width="0.45" opacity="0.93"/>
<circle cx="79.19" cy="207.92" r="1.58" fill="#d8d8d8" stroke="#5a5a5a" stroke-width="0.45" opacity="0.85"/>
<circle cx="96.07" cy="214.27" r="1.21" fill="#666666" opacity="0.69"/>
<circle cx="95.71" cy="213.91" r="0.48" fill="#ffffff" opacity="0.6"/>
<circle cx="74.36" cy="177.06" r="1.31" fill="#d8d8d8" stroke="#5a5a5a" stroke-width="0.45" opacity="0.82"/>
<circle cx="63.27" cy="202.92" r="1.81" fill="#666666" opacity="0.52"/>
<circle cx="91.6" cy="202.84" r="1.42" fill="#efefef" stroke="#5a5a5a" stroke-width="0.45" opacity="0.79"/>
<circle cx="75.05" cy="229.59" r="1.7" fill="#d8d8d8" stroke="#5a5a5a" stroke-width="0.45" opacity="0.82"/>
<circle cx="74.54" cy="229.08" r="0.68" fill="#ffffff" opacity="0.6"/>
<circle cx="77.81" cy="186.87" r="1.6" fill="#efefef" opacity="0.38"/>
<circle cx="77.33" cy="186.39" r="0.64" fill="#ffffff" opacity="0.6"/>
<circle cx="87.69" cy="233.1" r="1.19" fill="#d8d8d8" stroke="#5a5a5a" stroke-width="0.45" opacity="0.81"/>
<circle cx="87.33" cy="232.74" r="0.48" fill="#ffffff" opacity="0.6"/>
<circle cx="71.03" cy="159.09" r="1.53" fill="#ffffff" stroke="#5a5a5a" stroke-width="0.45" opacity="0.69"/>
<circle cx="84.16" cy="217.42" r="1.54" fill="#d8d8d8" stroke="#5a5a5a" stroke-width="0.45" opacity="0.78"/>
<circle cx="83.69" cy="216.96" r="0.61" fill="#ffffff" opacity="0.6"/>
<circle cx="89.5" cy="222.93" r="1.23" fill="#ffffff" stroke="#5a5a5a" stroke-width="0.45" opacity="0.7"/>
<circle cx="89.13" cy="222.56" r="0.49" fill="#ffffff" opacity="0.6"/>
<circle cx="116.53" cy="195.26" r="1.68" fill="#efefef" stroke="#5a5a5a" stroke-width="0.45" opacity="0.69"/>
<circle cx="116.03" cy="194.75" r="0.67" fill="#ffffff" opacity="0.6"/>
<circle cx="60.95" cy="172.79" r="1.23" fill="#efefef" stroke="#5a5a5a" stroke-width="0.45" opacity="0.77"/>
<circle cx="60.58" cy="172.42" r="0.49" fill="#ffffff" opacity="0.6"/>
<circle cx="79.21" cy="194.63" r="1.06" fill="#d8d8d8" opacity="0.55"/>
<circle cx="67.8" cy="167.24" r="1.9" fill="#efefef" opacity="0.6"/>
<circle cx="84.65" cy="184.58" r="1.02" fill="#ffffff" stroke="#5a5a5a" stroke-width="0.45" opacity="0.77"/>
<circle cx="76.82" cy="217.22" r="0.99" fill="#969696" opacity="0.62"/>
<circle cx="85.46" cy="202.7" r="1.98" fill="#efefef" opacity="0.55"/>
<circle cx="84.87" cy="202.1" r="0.79" fill="#ffffff" opacity="0.6"/>
<circle cx="77.96" cy="187.02" r="2.02" fill="#d8d8d8" opacity="0.39"/>
<circle cx="77.35" cy="186.41" r="0.81" fill="#ffffff" opacity="0.6"/>
<circle cx="81.04" cy="186.27" r="1.09" fill="#d8d8d8" opacity="0.43"/>
<circle cx="75.76" cy="156.7" r="1.52" fill="#efefef" stroke="#5a5a5a" stroke-width="0.45" opacity="0.62"/>
<circle cx="63.61" cy="214.13" r="1.98" fill="#ffffff" stroke="#5a5a5a" stroke-width="0.45" opacity="0.75"/>
<circle cx="88.38" cy="227.84" r="1.31" fill="#808080" opacity="0.5"/>
<circle cx="88.66" cy="198.08" r="1.77" fill="#d8d8d8" opacity="0.53"/>
<circle cx="90.5" cy="211.96" r="1.86" fill="#d8d8d8" stroke="#5a5a5a" stroke-width="0.45" opacity="0.95"/>
<circle cx="89.94" cy="211.4" r="0.75" fill="#ffffff" opacity="0.6"/>
<circle cx="68.84" cy="171.33" r="1.41" fill="#666666" opacity="0.56"/>
<circle cx="68.41" cy="170.91" r="0.56" fill="#ffffff" opacity="0.6"/>
<circle cx="68.1" cy="228.81" r="1.99" fill="#d8d8d8" opacity="0.61"/>
<circle cx="67.5" cy="228.21" r="0.8" fill="#ffffff" opacity="0.6"/>
<circle cx="65.25" cy="169.74" r="1.16" fill="#efefef" stroke="#5a5a5a" stroke-width="0.45" opacity="0.66"/>
<circle cx="64.9" cy="169.39" r="0.46" fill="#ffffff" opacity="0.6"/>
<circle cx="69.13" cy="215.77" r="1.27" fill="#efefef" stroke="#5a5a5a" stroke-width="0.45" opacity="0.92"/>
<circle cx="68.75" cy="215.39" r="0.51" fill="#ffffff" opacity="0.6"/>
<circle cx="91.93" cy="231.8" r="1.48" fill="#efefef" stroke="#5a5a5a" stroke-width="0.45" opacity="0.94"/>
<circle cx="73.63" cy="188.77" r="1.95" fill="#808080" opacity="0.42"/>
<circle cx="66.61" cy="214.5" r="1.64" fill="#d8d8d8" opacity="0.42"/>
<circle cx="66.12" cy="214.01" r="0.66" fill="#ffffff" opacity="0.6"/>
<circle cx="75.06" cy="212.48" r="1.02" fill="#808080" opacity="0.39"/>
<circle cx="70.06" cy="170.42" r="1.72" fill="#ffffff" stroke="#5a5a5a" stroke-width="0.45" opacity="0.77"/>
<circle cx="83.3" cy="199.61" r="2.1" fill="#d8d8d8" opacity="0.51"/>
<circle cx="82.67" cy="198.99" r="0.84" fill="#ffffff" opacity="0.6"/>
<circle cx="82.62" cy="192.01" r="2.06" fill="#ffffff" opacity="0.55"/>
<circle cx="65.53" cy="216.92" r="1.93" fill="#ffffff" opacity="0.44"/>
<circle cx="64.95" cy="216.35" r="0.77" fill="#ffffff" opacity="0.6"/>
<circle cx="81.51" cy="198.28" r="1.26" fill="#d8d8d8" stroke="#5a5a5a" stroke-width="0.45" opacity="0.67"/>
<circle cx="78.67" cy="230.84" r="1.58" fill="#d8d8d8" stroke="#5a5a5a" stroke-width="0.45" opacity="0.65"/>
<circle cx="78.2" cy="230.37" r="0.63" fill="#ffffff" opacity="0.6"/>
<circle cx="69.58" cy="187.23" r="1.9" fill="#d8d8d8" stroke="#5a5a5a" stroke-width="0.45" opacity="0.75"/>
<circle cx="79.42" cy="221.06" r="2.01" fill="#666666" opacity="0.7"/>
<circle cx="78.82" cy="220.45" r="0.8" fill="#ffffff" opacity="0.6"/>
<circle cx="78.8" cy="188.03" r="0.92" fill="#969696" opacity="0.49"/>
<circle cx="78.52" cy="187.75" r="0.37" fill="#ffffff" opacity="0.6"/>
<circle cx="74.5" cy="170.08" r="1.27" fill="#efefef" stroke="#5a5a5a" stroke-width="0.45" opacity="0.89"/>
<circle cx="68.27" cy="216.5" r="1.98" fill="#ffffff" stroke="#5a5a5a" stroke-width="0.45" opacity="0.85"/>
<circle cx="90.03" cy="212.39" r="1.9" fill="#d8d8d8" stroke="#5a5a5a" stroke-width="0.45" opacity="0.65"/>
<circle cx="84.03" cy="181.71" r="1.01" fill="#ffffff" stroke="#5a5a5a" stroke-width="0.45" opacity="0.65"/>
<circle cx="108.36" cy="203.24" r="1.05" fill="#ffffff" stroke="#5a5a5a" stroke-width="0.45" opacity="0.73"/>
<circle cx="108.05" cy="202.93" r="0.42" fill="#ffffff" opacity="0.6"/>
<circle cx="94.98" cy="220.09" r="1.45" fill="#969696" opacity="0.41"/>
<circle cx="97.58" cy="216.24" r="1.09" fill="#ffffff" stroke="#5a5a5a" stroke-width="0.45" opacity="0.74"/>
<circle cx="97.26" cy="215.91" r="0.44" fill="#ffffff" opacity="0.6"/>
<circle cx="66.64" cy="174.53" r="2.02" fill="#666666" opacity="0.67"/>
<circle cx="66.03" cy="173.92" r="0.81" fill="#ffffff" opacity="0.6"/>
<circle cx="79.65" cy="226.96" r="2" fill="#efefef" stroke="#5a5a5a" stroke-width="0.45" opacity="0.89"/>
<circle cx="83.52" cy="189.78" r="1.58" fill="#efefef" stroke="#5a5a5a" stroke-width="0.45" opacity="0.92"/>
<circle cx="83.04" cy="189.3" r="0.63" fill="#ffffff" opacity="0.6"/>
<circle cx="61.97" cy="213.21" r="1.98" fill="#ffffff" opacity="0.49"/>
<circle cx="113.98" cy="198.7" r="1.69" fill="#d8d8d8" opacity="0.8"/>
<circle cx="81.07" cy="198.79" r="1.58" fill="#d8d8d8" stroke="#5a5a5a" stroke-width="0.45" opacity="0.63"/>
<circle cx="66.17" cy="198.1" r="2.04" fill="#d8d8d8" stroke="#5a5a5a" stroke-width="0.45" opacity="0.62"/>
<circle cx="80.32" cy="201.95" r="0.96" fill="#efefef" stroke="#5a5a5a" stroke-width="0.45" opacity="0.91"/>
<circle cx="80.04" cy="201.67" r="0.38" fill="#ffffff" opacity="0.6"/>
<circle cx="62.23" cy="180.29" r="1.93" fill="#d8d8d8" opacity="0.43"/>
<circle cx="70.93" cy="205.72" r="1.13" fill="#efefef" stroke="#5a5a5a" stroke-width="0.45" opacity="0.94"/>
<circle cx="70.59" cy="205.38" r="0.45" fill="#ffffff" opacity="0.6"/>
<circle cx="84.21" cy="225.53" r="1.3" fill="#efefef" stroke="#5a5a5a" stroke-width="0.45" opacity="0.64"/>
<circle cx="75" cy="212.77" r="1.5" fill="#808080" opacity="0.52"/>
<circle cx="76.94" cy="229.37" r="1.7" fill="#d8d8d8" stroke="#5a5a5a" stroke-width="0.45" opacity="0.75"/>
<circle cx="73.9" cy="219.45" r="1" fill="#ffffff" stroke="#5a5a5a" stroke-width="0.45" opacity="0.61"/>
<circle cx="67.81" cy="227.05" r="1.65" fill="#ffffff" opacity="0.52"/>
<circle cx="69.58" cy="199.58" r="1.67" fill="#efefef" stroke="#5a5a5a" stroke-width="0.45" opacity="0.78"/>
<circle cx="85.43" cy="217.02" r="1.84" fill="#ffffff" stroke="#5a5a5a" stroke-width="0.45" opacity="0.81"/>
<circle cx="84.87" cy="216.47" r="0.74" fill="#ffffff" opacity="0.6"/>
<circle cx="107.67" cy="195.38" r="1.77" fill="#d8d8d8" opacity="0.38"/>
<circle cx="91.68" cy="218.51" r="1.19" fill="#808080" opacity="0.54"/>
<circle cx="103.55" cy="217.64" r="1.82" fill="#efefef" stroke="#5a5a5a" stroke-width="0.45" opacity="0.69"/>
<circle cx="87.03" cy="211.05" r="1.74" fill="#d8d8d8" opacity="0.57"/>
<circle cx="67.43" cy="191.49" r="1.79" fill="#d8d8d8" stroke="#5a5a5a" stroke-width="0.45" opacity="0.74"/>
<circle cx="66.89" cy="190.96" r="0.72" fill="#ffffff" opacity="0.6"/>
<circle cx="72.62" cy="175.26" r="1.56" fill="#efefef" stroke="#5a5a5a" stroke-width="0.45" opacity="0.72"/>
<circle cx="83.15" cy="207.12" r="0.97" fill="#969696" opacity="0.76"/>
<circle cx="69.42" cy="224.01" r="2.02" fill="#efefef" stroke="#5a5a5a" stroke-width="0.45" opacity="0.69"/>
<circle cx="107.55" cy="193.49" r="1.38" fill="#ffffff" stroke="#5a5a5a" stroke-width="0.45" opacity="0.84"/>
<circle cx="71.08" cy="185.68" r="0.99" fill="#efefef" opacity="0.78"/>
<circle cx="103.74" cy="196.06" r="1.58" fill="#d8d8d8" stroke="#5a5a5a" stroke-width="0.45" opacity="0.85"/>
<circle cx="66.98" cy="174.26" r="1.91" fill="#efefef" stroke="#5a5a5a" stroke-width="0.45" opacity="0.71"/>
<circle cx="82.6" cy="174.06" r="0.95" fill="#efefef" stroke="#5a5a5a" stroke-width="0.45" opacity="0.75"/>
<circle cx="66.91" cy="211.68" r="1.21" fill="#ffffff" opacity="0.52"/>
<circle cx="66.95" cy="196.44" r="1.33" fill="#d8d8d8" stroke="#5a5a5a" stroke-width="0.45" opacity="0.9"/>
<circle cx="110.52" cy="199.75" r="1.32" fill="#808080" opacity="0.46"/>
<circle cx="110.12" cy="199.36" r="0.53" fill="#ffffff" opacity="0.6"/>
<circle cx="84.65" cy="186.44" r="0.97" fill="#808080" opacity="0.48"/>
<circle cx="84.36" cy="186.15" r="0.39" fill="#ffffff" opacity="0.6"/>
<circle cx="101.96" cy="196.73" r="1.79" fill="#ffffff" stroke="#5a5a5a" stroke-width="0.45" opacity="0.71"/>
<circle cx="75.18" cy="185.22" r="1.92" fill="#d8d8d8" stroke="#5a5a5a" stroke-width="0.45" opacity="0.61"/>
<circle cx="74.61" cy="184.64" r="0.77" fill="#ffffff" opacity="0.6"/>
<circle cx="81.34" cy="178.8" r="1.88" fill="#ffffff" opacity="0.56"/>
<circle cx="80.69" cy="201.2" r="2.03" fill="#ffffff" stroke="#5a5a5a" stroke-width="0.45" opacity="0.75"/>
<circle cx="80.09" cy="200.59" r="0.81" fill="#ffffff" opacity="0.6"/>
<circle cx="81.87" cy="227.99" r="0.95" fill="#efefef" stroke="#5a5a5a" stroke-width="0.45" opacity="0.94"/>
<circle cx="81.58" cy="227.71" r="0.38" fill="#ffffff" opacity="0.6"/>
<circle cx="70.34" cy="173.27" r="1.72" fill="#666666" opacity="0.77"/>
<circle cx="69.83" cy="172.76" r="0.69" fill="#ffffff" opacity="0.6"/>
<circle cx="91.91" cy="223.12" r="1.82" fill="#969696" opacity="0.75"/>
<circle cx="74.7" cy="163.26" r="0.92" fill="#d8d8d8" opacity="0.66"/>
<circle cx="76.02" cy="215.09" r="1.54" fill="#666666" opacity="0.51"/>
<circle cx="103.5" cy="225.41" r="2.09" fill="#ffffff" opacity="0.49"/>
<circle cx="82.81" cy="214.32" r="1.73" fill="#969696" opacity="0.46"/>
<circle cx="82.29" cy="213.8" r="0.69" fill="#ffffff" opacity="0.6"/>
<circle cx="78.94" cy="215.91" r="1.91" fill="#ffffff" opacity="0.79"/>
<circle cx="78.37" cy="215.34" r="0.76" fill="#ffffff" opacity="0.6"/>
<circle cx="68.42" cy="171.05" r="1.65" fill="#ffffff" stroke="#5a5a5a" stroke-width="0.45" opacity="0.84"/>
<circle cx="75.13" cy="175.16" r="1.7" fill="#ffffff" stroke="#5a5a5a" stroke-width="0.45" opacity="0.95"/>
<circle cx="70.43" cy="183.55" r="1.55" fill="#ffffff" stroke="#5a5a5a" stroke-width="0.45" opacity="0.9"/>
<circle cx="69.96" cy="183.09" r="0.62" fill="#ffffff" opacity="0.6"/>
<circle cx="72.24" cy="212.91" r="1.39" fill="#969696" opacity="0.53"/>
<circle cx="69.29" cy="163.52" r="2.02" fill="#d8d8d8" stroke="#5a5a5a" stroke-width="0.45" opacity="0.69"/>
<circle cx="75.29" cy="187.06" r="1.29" fill="#d8d8d8" stroke="#5a5a5a" stroke-width="0.45" opacity="0.65"/>
<circle cx="74.9" cy="186.68" r="0.51" fill="#ffffff" opacity="0.6"/>
<circle cx="104.9" cy="208.76" r="0.9" fill="#efefef" stroke="#5a5a5a" stroke-width="0.45" opacity="0.77"/>
<circle cx="104.63" cy="208.49" r="0.36" fill="#ffffff" opacity="0.6"/>
<circle cx="62.15" cy="199.15" r="1.69" fill="#d8d8d8" stroke="#5a5a5a" stroke-width="0.45" opacity="0.95"/>
<circle cx="61.64" cy="198.64" r="0.68" fill="#ffffff" opacity="0.6"/>
<circle cx="69.33" cy="157.06" r="1.1" fill="#ffffff" stroke="#5a5a5a" stroke-width="0.45" opacity="0.71"/>
<circle cx="59.28" cy="171.8" r="2.05" fill="#ffffff" stroke="#5a5a5a" stroke-width="0.45" opacity="0.77"/>
<circle cx="58.66" cy="171.18" r="0.82" fill="#ffffff" opacity="0.6"/>
<circle cx="90.96" cy="208.41" r="1.86" fill="#efefef" opacity="0.53"/>
<circle cx="90.4" cy="207.86" r="0.75" fill="#ffffff" opacity="0.6"/>
<circle cx="82.26" cy="184.58" r="1.69" fill="#efefef" stroke="#5a5a5a" stroke-width="0.45" opacity="0.7"/>
<circle cx="78.2" cy="162.48" r="1.3" fill="#efefef" stroke="#5a5a5a" stroke-width="0.45" opacity="0.84"/>
<circle cx="77.81" cy="162.09" r="0.52" fill="#ffffff" opacity="0.6"/>
<circle cx="65.08" cy="166.4" r="1.32" fill="#d8d8d8" stroke="#5a5a5a" stroke-width="0.45" opacity="0.71"/>
<circle cx="83.47" cy="211.64" r="1.11" fill="#969696" opacity="0.53"/>
<circle cx="105.94" cy="197.1" r="0.91" fill="#ffffff" opacity="0.52"/>
<circle cx="105.66" cy="196.83" r="0.36" fill="#ffffff" opacity="0.6"/>
<circle cx="96.12" cy="226.23" r="1.93" fill="#ffffff" opacity="0.79"/>
<circle cx="95.54" cy="225.65" r="0.77" fill="#ffffff" opacity="0.6"/>
<circle cx="103.57" cy="214.7" r="1.42" fill="#ffffff" stroke="#5a5a5a" stroke-width="0.45" opacity="0.8"/>
<circle cx="85.81" cy="202.59" r="1.61" fill="#efefef" stroke="#5a5a5a" stroke-width="0.45" opacity="0.86"/>
<circle cx="85.33" cy="202.1" r="0.65" fill="#ffffff" opacity="0.6"/>
<circle cx="83.1" cy="224.61" r="1.05" fill="#ffffff" stroke="#5a5a5a" stroke-width="0.45" opacity="0.88"/>
<circle cx="82.78" cy="224.29" r="0.42" fill="#ffffff" opacity="0.6"/>
<circle cx="65.6" cy="163.28" r="1.2" fill="#666666" opacity="0.74"/>
<circle cx="65.24" cy="162.92" r="0.48" fill="#ffffff" opacity="0.6"/>
<circle cx="107.73" cy="191.39" r="1.54" fill="#d8d8d8" opacity="0.57"/>
<circle cx="107.27" cy="190.93" r="0.62" fill="#ffffff" opacity="0.6"/>
<circle cx="65.16" cy="190.3" r="1.81" fill="#d8d8d8" opacity="0.71"/>
<circle cx="92.05" cy="227.68" r="1.86" fill="#efefef" stroke="#5a5a5a" stroke-width="0.45" opacity="0.93"/>
<circle cx="91.49" cy="227.12" r="0.74" fill="#ffffff" opacity="0.6"/>
<circle cx="76.19" cy="188.34" r="1.64" fill="#969696" opacity="0.63"/>
<circle cx="75.7" cy="187.85" r="0.65" fill="#ffffff" opacity="0.6"/>
<circle cx="96.91" cy="225.34" r="1.77" fill="#efefef" stroke="#5a5a5a" stroke-width="0.45" opacity="0.84"/>
<circle cx="71.33" cy="171.75" r="1.82" fill="#d8d8d8" stroke="#5a5a5a" stroke-width="0.45" opacity="0.69"/>
<circle cx="70.78" cy="171.2" r="0.73" fill="#ffffff" opacity="0.6"/>
<circle cx="71.14" cy="212.58" r="1.94" fill="#d8d8d8" opacity="0.42"/>
<circle cx="70.56" cy="211.99" r="0.78" fill="#ffffff" opacity="0.6"/>
<circle cx="86.42" cy="195.61" r="2.03" fill="#d8d8d8" stroke="#5a5a5a" stroke-width="0.45" opacity="0.7"/>
<circle cx="76.06" cy="223.56" r="1.71" fill="#808080" opacity="0.52"/>
<circle cx="84.13" cy="177.51" r="1.43" fill="#ffffff" stroke="#5a5a5a" stroke-width="0.45" opacity="0.69"/>
<circle cx="83.7" cy="177.08" r="0.57" fill="#ffffff" opacity="0.6"/>
<circle cx="66.68" cy="226.85" r="1.2" fill="#808080" opacity="0.4"/>
<circle cx="64.99" cy="207.73" r="1.44" fill="#ffffff" stroke="#5a5a5a" stroke-width="0.45" opacity="0.83"/>
<circle cx="64.55" cy="207.3" r="0.58" fill="#ffffff" opacity="0.6"/>
<circle cx="83.05" cy="207.62" r="1.16" fill="#d8d8d8" opacity="0.57"/>
<circle cx="64.47" cy="218.76" r="0.9" fill="#ffffff" opacity="0.63"/>
<circle cx="64.2" cy="218.49" r="0.36" fill="#ffffff" opacity="0.6"/>
<circle cx="79.99" cy="197.97" r="1.54" fill="#d8d8d8" stroke="#5a5a5a" stroke-width="0.45" opacity="0.62"/>
<circle cx="79.53" cy="197.51" r="0.62" fill="#ffffff" opacity="0.6"/>
<circle cx="77.4" cy="183.25" r="1.2" fill="#efefef" stroke="#5a5a5a" stroke-width="0.45" opacity="0.66"/>
<circle cx="77.04" cy="182.9" r="0.48" fill="#ffffff" opacity="0.6"/>
<circle cx="67.01" cy="227.11" r="1.87" fill="#efefef" stroke="#5a5a5a" stroke-width="0.45" opacity="0.82"/>
<circle cx="76.53" cy="204.61" r="1.39" fill="#969696" opacity="0.64"/>
<circle cx="76.11" cy="204.2" r="0.55" fill="#ffffff" opacity="0.6"/>
<circle cx="74.5" cy="163.89" r="2" fill="#808080" opacity="0.44"/>
<circle cx="63.78" cy="218.52" r="1.36" fill="#ffffff" stroke="#5a5a5a" stroke-width="0.45" opacity="0.62"/>
<circle cx="72.18" cy="162.88" r="1.35" fill="#ffffff" stroke="#5a5a5a" stroke-width="0.45" opacity="0.77"/>
<circle cx="71.78" cy="162.48" r="0.54" fill="#ffffff" opacity="0.6"/>
<circle cx="83.37" cy="232.55" r="0.91" fill="#efefef" stroke="#5a5a5a" stroke-width="0.45" opacity="0.89"/>
<circle cx="83.1" cy="232.28" r="0.36" fill="#ffffff" opacity="0.6"/>
<circle cx="69.81" cy="164.38" r="1.81" fill="#efefef" stroke="#5a5a5a" stroke-width="0.45" opacity="0.83"/>
<circle cx="69.27" cy="163.84" r="0.72" fill="#ffffff" opacity="0.6"/>
<circle cx="64.1" cy="200.89" r="1.02" fill="#efefef" stroke="#5a5a5a" stroke-width="0.45" opacity="0.65"/>
<circle cx="63.79" cy="200.58" r="0.41" fill="#ffffff" opacity="0.6"/>
<circle cx="76" cy="177.6" r="2.1" fill="#efefef" stroke="#5a5a5a" stroke-width="0.45" opacity="0.82"/>
<circle cx="75.37" cy="176.97" r="0.84" fill="#ffffff" opacity="0.6"/>
<circle cx="85.87" cy="190.01" r="1.04" fill="#969696" opacity="0.68"/>
<circle cx="80.29" cy="221.73" r="1.75" fill="#efefef" opacity="0.49"/>
<circle cx="83.87" cy="198" r="1.91" fill="#efefef" stroke="#5a5a5a" stroke-width="0.45" opacity="0.93"/>
<circle cx="83.3" cy="197.43" r="0.76" fill="#ffffff" opacity="0.6"/>
<circle cx="85.2" cy="219.08" r="1.51" fill="#ffffff" stroke="#5a5a5a" stroke-width="0.45" opacity="0.71"/>
<circle cx="84.75" cy="218.63" r="0.61" fill="#ffffff" opacity="0.6"/>
<circle cx="81.57" cy="219.43" r="1.72" fill="#ffffff" stroke="#5a5a5a" stroke-width="0.45" opacity="0.65"/>
<circle cx="88.41" cy="205.72" r="1.32" fill="#efefef" stroke="#5a5a5a" stroke-width="0.45" opacity="0.73"/>
<circle cx="84.96" cy="204.54" r="1.57" fill="#d8d8d8" stroke="#5a5a5a" stroke-width="0.45" opacity="0.67"/>
<circle cx="80.04" cy="167.73" r="1.49" fill="#808080" opacity="0.78"/>
<circle cx="64.58" cy="217.91" r="1.16" fill="#d8d8d8" stroke="#5a5a5a" stroke-width="0.45" opacity="0.87"/>
<circle cx="76.33" cy="223.82" r="1.77" fill="#efefef" stroke="#5a5a5a" stroke-width="0.45" opacity="0.83"/>
<circle cx="75.8" cy="223.29" r="0.71" fill="#ffffff" opacity="0.6"/>
<circle cx="67.89" cy="186.22" r="1.89" fill="#ffffff" stroke="#5a5a5a" stroke-width="0.45" opacity="0.66"/>
<circle cx="84.62" cy="217.58" r="1.68" fill="#ffffff" stroke="#5a5a5a" stroke-width="0.45" opacity="0.68"/>
<circle cx="75.1" cy="213.29" r="1.96" fill="#969696" opacity="0.4"/>
<circle cx="64.84" cy="200.34" r="1.04" fill="#ffffff" stroke="#5a5a5a" stroke-width="0.45" opacity="0.83"/>
<circle cx="64.53" cy="200.03" r="0.42" fill="#ffffff" opacity="0.6"/>
<circle cx="64.83" cy="166.12" r="1.13" fill="#d8d8d8" opacity="0.6"/>
<circle cx="66.84" cy="179.03" r="1.3" fill="#d8d8d8" opacity="0.79"/>
<circle cx="94.56" cy="210.01" r="1.64" fill="#d8d8d8" stroke="#5a5a5a" stroke-width="0.45" opacity="0.64"/>
<circle cx="94.07" cy="209.52" r="0.65" fill="#ffffff" opacity="0.6"/>
<circle cx="69.98" cy="203.5" r="1.92" fill="#d8d8d8" stroke="#5a5a5a" stroke-width="0.45" opacity="0.94"/>
<circle cx="69.4" cy="202.92" r="0.77" fill="#ffffff" opacity="0.6"/>
<circle cx="82.69" cy="173.55" r="1.32" fill="#808080" opacity="0.36"/>
<circle cx="82.29" cy="173.16" r="0.53" fill="#ffffff" opacity="0.6"/>
<circle cx="79.04" cy="209.14" r="1.45" fill="#efefef" stroke="#5a5a5a" stroke-width="0.45" opacity="0.76"/>
<circle cx="78.6" cy="208.7" r="0.58" fill="#ffffff" opacity="0.6"/>
<circle cx="77.54" cy="160.2" r="1.51" fill="#d8d8d8" opacity="0.65"/>
<circle cx="63.42" cy="216.25" r="1.19" fill="#ffffff" stroke="#5a5a5a" stroke-width="0.45" opacity="0.72"/>
<circle cx="66.88" cy="218.35" r="1.84" fill="#ffffff" stroke="#5a5a5a" stroke-width="0.45" opacity="0.93"/>
<circle cx="66.33" cy="217.8" r="0.74" fill="#ffffff" opacity="0.6"/>
<circle cx="68.28" cy="160.35" r="1.09" fill="#d8d8d8" stroke="#5a5a5a" stroke-width="0.45" opacity="0.65"/>
<circle cx="66.89" cy="209.4" r="1.96" fill="#d8d8d8" stroke="#5a5a5a" stroke-width="0.45" opacity="0.92"/>
<circle cx="66.3" cy="208.82" r="0.78" fill="#ffffff" opacity="0.6"/>
<circle cx="102.76" cy="209.25" r="1.05" fill="#ffffff" stroke="#5a5a5a" stroke-width="0.45" opacity="0.89"/>
<circle cx="102.45" cy="208.94" r="0.42" fill="#ffffff" opacity="0.6"/>
<circle cx="64.24" cy="207.42" r="0.92" fill="#efefef" stroke="#5a5a5a" stroke-width="0.45" opacity="0.82"/>
<circle cx="63.97" cy="207.15" r="0.37" fill="#ffffff" opacity="0.6"/>
<circle cx="88.05" cy="226.67" r="1.62" fill="#efefef" stroke="#5a5a5a" stroke-width="0.45" opacity="0.94"/>
<circle cx="87.57" cy="226.19" r="0.65" fill="#ffffff" opacity="0.6"/>
<circle cx="61.8" cy="167.99" r="1.11" fill="#efefef" stroke="#5a5a5a" stroke-width="0.45" opacity="0.88"/>
<circle cx="69.74" cy="156.13" r="1.27" fill="#ffffff" stroke="#5a5a5a" stroke-width="0.45" opacity="0.77"/>
<circle cx="77.93" cy="183.56" r="1.96" fill="#efefef" stroke="#5a5a5a" stroke-width="0.45" opacity="0.72"/>
<circle cx="72.83" cy="230.1" r="1.92" fill="#efefef" stroke="#5a5a5a" stroke-width="0.45" opacity="0.87"/>
<circle cx="77.71" cy="199.5" r="1.38" fill="#ffffff" stroke="#5a5a5a" stroke-width="0.45" opacity="0.6"/>
<circle cx="65.46" cy="214.79" r="1.86" fill="#efefef" stroke="#5a5a5a" stroke-width="0.45" opacity="0.77"/>
<circle cx="78.07" cy="206.27" r="0.97" fill="#d8d8d8" stroke="#5a5a5a" stroke-width="0.45" opacity="0.7"/>
<circle cx="77.78" cy="205.97" r="0.39" fill="#ffffff" opacity="0.6"/>
<circle cx="61.18" cy="170.57" r="1.66" fill="#808080" opacity="0.6"/>
<circle cx="109.8" cy="195.33" r="1.31" fill="#efefef" stroke="#5a5a5a" stroke-width="0.45" opacity="0.94"/>
<circle cx="100.31" cy="218.98" r="1.75" fill="#ffffff" stroke="#5a5a5a" stroke-width="0.45" opacity="0.69"/>
<circle cx="79.51" cy="218.53" r="1.63" fill="#ffffff" opacity="0.74"/>
<circle cx="79.02" cy="218.04" r="0.65" fill="#ffffff" opacity="0.6"/>
<circle cx="74.43" cy="178.06" r="1.37" fill="#969696" opacity="0.66"/>
<circle cx="93.26" cy="230.71" r="1.67" fill="#d8d8d8" stroke="#5a5a5a" stroke-width="0.45" opacity="0.77"/>
<circle cx="72.68" cy="204.59" r="1.04" fill="#d8d8d8" stroke="#5a5a5a" stroke-width="0.45" opacity="0.61"/>
<circle cx="72.37" cy="204.28" r="0.42" fill="#ffffff" opacity="0.6"/>
<circle cx="78.62" cy="159.27" r="0.93" fill="#ffffff" opacity="0.63"/>
<circle cx="78.91" cy="177.35" r="1.53" fill="#666666" opacity="0.39"/>
<circle cx="78.45" cy="176.89" r="0.61" fill="#ffffff" opacity="0.6"/>
<circle cx="104.65" cy="197.19" r="1.25" fill="#d8d8d8" stroke="#5a5a5a" stroke-width="0.45" opacity="0.72"/>
<circle cx="76.62" cy="224" r="1.93" fill="#efefef" stroke="#5a5a5a" stroke-width="0.45" opacity="0.92"/>
<circle cx="76.04" cy="223.42" r="0.77" fill="#ffffff" opacity="0.6"/>
<circle cx="84.75" cy="193.16" r="1.4" fill="#efefef" stroke="#5a5a5a" stroke-width="0.45" opacity="0.81"/>
<circle cx="84.33" cy="192.74" r="0.56" fill="#ffffff" opacity="0.6"/>
<circle cx="94.2" cy="230.03" r="1.22" fill="#efefef" stroke="#5a5a5a" stroke-width="0.45" opacity="0.94"/>
<circle cx="70.43" cy="175.21" r="1.99" fill="#d8d8d8" opacity="0.47"/>
<circle cx="69.83" cy="174.61" r="0.79" fill="#ffffff" opacity="0.6"/>
<circle cx="66.42" cy="189.11" r="1.59" fill="#ffffff" stroke="#5a5a5a" stroke-width="0.45" opacity="0.74"/>
<circle cx="65.94" cy="188.63" r="0.64" fill="#ffffff" opacity="0.6"/>
<circle cx="81.94" cy="214.61" r="1.78" fill="#d8d8d8" opacity="0.78"/>
<circle cx="77.14" cy="172.66" r="1.94" fill="#efefef" opacity="0.68"/>
<circle cx="76.56" cy="172.08" r="0.78" fill="#ffffff" opacity="0.6"/>
<circle cx="74.93" cy="171.55" r="1.7" fill="#808080" opacity="0.49"/>
<circle cx="74.42" cy="171.04" r="0.68" fill="#ffffff" opacity="0.6"/>
<circle cx="77.11" cy="217" r="1.45" fill="#ffffff" stroke="#5a5a5a" stroke-width="0.45" opacity="0.94"/>
<circle cx="83.06" cy="208.84" r="1.79" fill="#ffffff" stroke="#5a5a5a" stroke-width="0.45" opacity="0.76"/>
<circle cx="82.52" cy="208.3" r="0.72" fill="#ffffff" opacity="0.6"/>
<circle cx="76.79" cy="203.18" r="1" fill="#ffffff" opacity="0.5"/>
<circle cx="76.49" cy="202.88" r="0.4" fill="#ffffff" opacity="0.6"/>
<circle cx="83.95" cy="216.49" r="1.21" fill="#d8d8d8" stroke="#5a5a5a" stroke-width="0.45" opacity="0.86"/>
<circle cx="83.59" cy="216.12" r="0.48" fill="#ffffff" opacity="0.6"/>
<circle cx="71.74" cy="207.31" r="0.98" fill="#ffffff" opacity="0.69"/>
<circle cx="73.94" cy="211.57" r="1.57" fill="#d8d8d8" opacity="0.41"/>
<circle cx="73.47" cy="211.1" r="0.63" fill="#ffffff" opacity="0.6"/>
<circle cx="102.83" cy="231.27" r="1.23" fill="#ffffff" stroke="#5a5a5a" stroke-width="0.45" opacity="0.88"/>
<circle cx="88.28" cy="227.72" r="2.06" fill="#ffffff" stroke="#5a5a5a" stroke-width="0.45" opacity="0.8"/>
<circle cx="87.66" cy="227.1" r="0.82" fill="#ffffff" opacity="0.6"/>
<circle cx="68.87" cy="184.11" r="1.16" fill="#d8d8d8" stroke="#5a5a5a" stroke-width="0.45" opacity="0.79"/>
<circle cx="68.52" cy="183.76" r="0.46" fill="#ffffff" opacity="0.6"/>
<circle cx="83.25" cy="218.25" r="1.65" fill="#d8d8d8" stroke="#5a5a5a" stroke-width="0.45" opacity="0.92"/>
<circle cx="60.26" cy="170.28" r="0.93" fill="#969696" opacity="0.36"/>
<circle cx="71.49" cy="211.43" r="1.74" fill="#666666" opacity="0.73"/>
<circle cx="70.97" cy="210.91" r="0.7" fill="#ffffff" opacity="0.6"/>
<circle cx="75.76" cy="195.51" r="1.33" fill="#efefef" stroke="#5a5a5a" stroke-width="0.45" opacity="0.88"/>
<circle cx="69.32" cy="169.56" r="1.61" fill="#efefef" opacity="0.51"/>
<circle cx="68.84" cy="169.08" r="0.64" fill="#ffffff" opacity="0.6"/>
<circle cx="72.42" cy="184.18" r="1.17" fill="#d8d8d8" opacity="0.73"/>
<circle cx="100.02" cy="230.52" r="0.93" fill="#969696" opacity="0.51"/>
<circle cx="75.22" cy="208.5" r="1.73" fill="#d8d8d8" stroke="#5a5a5a" stroke-width="0.45" opacity="0.72"/>
<circle cx="74.7" cy="207.98" r="0.69" fill="#ffffff" opacity="0.6"/>
<circle cx="73.78" cy="178.39" r="1.21" fill="#d8d8d8" stroke="#5a5a5a" stroke-width="0.45" opacity="0.64"/>
<circle cx="87.17" cy="196.03" r="1.27" fill="#ffffff" stroke="#5a5a5a" stroke-width="0.45" opacity="0.78"/>
<circle cx="86.79" cy="195.65" r="0.51" fill="#ffffff" opacity="0.6"/>
<circle cx="82.36" cy="195.42" r="1.46" fill="#ffffff" opacity="0.8"/>
<circle cx="75.97" cy="178.71" r="1.37" fill="#d8d8d8" stroke="#5a5a5a" stroke-width="0.45" opacity="0.73"/>
<circle cx="81.22" cy="230.77" r="1.01" fill="#d8d8d8" opacity="0.75"/>
<circle cx="73.66" cy="232.93" r="1.55" fill="#efefef" stroke="#5a5a5a" stroke-width="0.45" opacity="0.95"/>
<circle cx="73.19" cy="232.46" r="0.62" fill="#ffffff" opacity="0.6"/>
<circle cx="67.66" cy="186.21" r="1.67" fill="#969696" opacity="0.8"/>
<circle cx="89.01" cy="230.1" r="1.68" fill="#ffffff" opacity="0.76"/>
<circle cx="88.51" cy="229.6" r="0.67" fill="#ffffff" opacity="0.6"/>
<circle cx="102.52" cy="229.2" r="1.62" fill="#808080" opacity="0.5"/>
<circle cx="64.8" cy="206.08" r="1.21" fill="#efefef" stroke="#5a5a5a" stroke-width="0.45" opacity="0.61"/>
<circle cx="67.19" cy="171.12" r="0.94" fill="#808080" opacity="0.64"/>
<circle cx="78.08" cy="164.17" r="0.91" fill="#ffffff" opacity="0.49"/>
<circle cx="82.22" cy="206.96" r="1.4" fill="#d8d8d8" stroke="#5a5a5a" stroke-width="0.45" opacity="0.84"/>
<circle cx="81.8" cy="206.54" r="0.56" fill="#ffffff" opacity="0.6"/>
<circle cx="69.98" cy="173.97" r="1.25" fill="#ffffff" opacity="0.4"/>
<circle cx="100.7" cy="230.04" r="1.28" fill="#ffffff" stroke="#5a5a5a" stroke-width="0.45" opacity="0.69"/>
<circle cx="100.32" cy="229.66" r="0.51" fill="#ffffff" opacity="0.6"/>
<circle cx="80.52" cy="203.85" r="1.57" fill="#969696" opacity="0.64"/>
<circle cx="80.05" cy="203.38" r="0.63" fill="#ffffff" opacity="0.6"/>
<circle cx="85.91" cy="193.84" r="0.95" fill="#d8d8d8" stroke="#5a5a5a" stroke-width="0.45" opacity="0.9"/>
<circle cx="104" cy="216.06" r="1.77" fill="#d8d8d8" stroke="#5a5a5a" stroke-width="0.45" opacity="0.91"/>
<circle cx="103.47" cy="215.53" r="0.71" fill="#ffffff" opacity="0.6"/>
<circle cx="107.5" cy="202.52" r="1.18" fill="#ffffff" stroke="#5a5a5a" stroke-width="0.45" opacity="0.78"/>
<circle cx="107.15" cy="202.17" r="0.47" fill="#ffffff" opacity="0.6"/>
<circle cx="83.56" cy="185.3" r="1.8" fill="#ffffff" stroke="#5a5a5a" stroke-width="0.45" opacity="0.61"/>
<circle cx="76.26" cy="177.89" r="1.7" fill="#969696" opacity="0.75"/>
<circle cx="75.75" cy="177.38" r="0.68" fill="#ffffff" opacity="0.6"/>
<circle cx="76.7" cy="174.55" r="2.1" fill="#efefef" stroke="#5a5a5a" stroke-width="0.45" opacity="0.9"/>
<circle cx="76.07" cy="173.92" r="0.84" fill="#ffffff" opacity="0.6"/>
<circle cx="73.95" cy="199.7" r="1.04" fill="#969696" opacity="0.51"/>
<circle cx="113.25" cy="201.28" r="1.97" fill="#efefef" opacity="0.65"/>
<circle cx="112.66" cy="200.69" r="0.79" fill="#ffffff" opacity="0.6"/>
<circle cx="83.19" cy="200.23" r="1.06" fill="#d8d8d8" stroke="#5a5a5a" stroke-width="0.45" opacity="0.71"/>
<circle cx="70.28" cy="190.87" r="1.93" fill="#ffffff" stroke="#5a5a5a" stroke-width="0.45" opacity="0.67"/>
<circle cx="70.72" cy="199.64" r="1.31" fill="#666666" opacity="0.66"/>
<circle cx="87.17" cy="195.65" r="0.93" fill="#efefef" stroke="#5a5a5a" stroke-width="0.45" opacity="0.9"/>
<circle cx="84.24" cy="180.44" r="1.38" fill="#ffffff" stroke="#5a5a5a" stroke-width="0.45" opacity="0.65"/>
<circle cx="69.79" cy="213.62" r="1.59" fill="#d8d8d8" stroke="#5a5a5a" stroke-width="0.45" opacity="0.65"/>
<circle cx="74.22" cy="175.45" r="1.45" fill="#d8d8d8" opacity="0.38"/>
<circle cx="64.77" cy="202.02" r="1.92" fill="#808080" opacity="0.41"/>
<circle cx="79.59" cy="164.58" r="1.71" fill="#d8d8d8" stroke="#5a5a5a" stroke-width="0.45" opacity="0.84"/>
<circle cx="76.09" cy="217.13" r="1.66" fill="#666666" opacity="0.55"/>
<circle cx="74.83" cy="198.21" r="1.33" fill="#666666" opacity="0.8"/>
<circle cx="74.43" cy="197.81" r="0.53" fill="#ffffff" opacity="0.6"/>
<circle cx="86.35" cy="195.54" r="1.86" fill="#efefef" stroke="#5a5a5a" stroke-width="0.45" opacity="0.9"/>
<circle cx="85.79" cy="194.99" r="0.75" fill="#ffffff" opacity="0.6"/>
<circle cx="65.8" cy="211.28" r="1.54" fill="#d8d8d8" stroke="#5a5a5a" stroke-width="0.45" opacity="0.81"/>
<circle cx="81.01" cy="226.29" r="1.16" fill="#d8d8d8" stroke="#5a5a5a" stroke-width="0.45" opacity="0.64"/>
<circle cx="103.26" cy="200.42" r="1.09" fill="#d8d8d8" stroke="#5a5a5a" stroke-width="0.45" opacity="0.72"/>
<circle cx="102.94" cy="200.1" r="0.43" fill="#ffffff" opacity="0.6"/>
<circle cx="87.23" cy="227.27" r="1.85" fill="#efefef" stroke="#5a5a5a" stroke-width="0.45" opacity="0.71"/>
<circle cx="71.32" cy="206.59" r="0.99" fill="#ffffff" stroke="#5a5a5a" stroke-width="0.45" opacity="0.75"/>
<circle cx="73.15" cy="222.74" r="1.52" fill="#efefef" stroke="#5a5a5a" stroke-width="0.45" opacity="0.91"/>
<circle cx="74.61" cy="174.39" r="1.71" fill="#ffffff" stroke="#5a5a5a" stroke-width="0.45" opacity="0.63"/>
<circle cx="74.09" cy="173.88" r="0.68" fill="#ffffff" opacity="0.6"/>
<circle cx="108.9" cy="194.79" r="1.67" fill="#ffffff" stroke="#5a5a5a" stroke-width="0.45" opacity="0.81"/>
<circle cx="108.4" cy="194.28" r="0.67" fill="#ffffff" opacity="0.6"/>
<circle cx="95.94" cy="216.77" r="1.63" fill="#efefef" opacity="0.53"/>
<circle cx="95.45" cy="216.28" r="0.65" fill="#ffffff" opacity="0.6"/>
<circle cx="83.61" cy="184.33" r="1.68" fill="#ffffff" stroke="#5a5a5a" stroke-width="0.45" opacity="0.84"/>
<circle cx="82.12" cy="206.55" r="1.2" fill="#efefef" stroke="#5a5a5a" stroke-width="0.45" opacity="0.81"/>
<circle cx="90.93" cy="205.5" r="1.54" fill="#efefef" opacity="0.45"/>
<circle cx="90.47" cy="205.04" r="0.62" fill="#ffffff" opacity="0.6"/>
<circle cx="76.32" cy="189.02" r="1.23" fill="#efefef" stroke="#5a5a5a" stroke-width="0.45" opacity="0.77"/>
<circle cx="75.95" cy="188.65" r="0.49" fill="#ffffff" opacity="0.6"/>
<circle cx="104.18" cy="199.43" r="1.19" fill="#efefef" stroke="#5a5a5a" stroke-width="0.45" opacity="0.75"/>
<circle cx="103.82" cy="199.07" r="0.48" fill="#ffffff" opacity="0.6"/>
<circle cx="66.75" cy="204.9" r="1.81" fill="#d8d8d8" opacity="0.41"/>
<circle cx="66.2" cy="204.35" r="0.72" fill="#ffffff" opacity="0.6"/>
<circle cx="64.27" cy="187.9" r="1.09" fill="#d8d8d8" stroke="#5a5a5a" stroke-width="0.45" opacity="0.87"/>
<circle cx="87.41" cy="217.4" r="1.7" fill="#969696" opacity="0.74"/>
<circle cx="85.69" cy="220.64" r="1.79" fill="#d8d8d8" stroke="#5a5a5a" stroke-width="0.45" opacity="0.8"/>
<circle cx="85.16" cy="220.11" r="0.72" fill="#ffffff" opacity="0.6"/>
<circle cx="62.86" cy="176.38" r="1.82" fill="#ffffff" stroke="#5a5a5a" stroke-width="0.45" opacity="0.67"/>
<circle cx="74.29" cy="209.19" r="1.03" fill="#efefef" stroke="#5a5a5a" stroke-width="0.45" opacity="0.6"/>
<circle cx="68.3" cy="221.27" r="2.07" fill="#d8d8d8" stroke="#5a5a5a" stroke-width="0.45" opacity="0.73"/>
<circle cx="67.68" cy="220.65" r="0.83" fill="#ffffff" opacity="0.6"/>
<circle cx="75.96" cy="222.95" r="1.55" fill="#808080" opacity="0.36"/>
<circle cx="89.4" cy="231.35" r="1.95" fill="#efefef" stroke="#5a5a5a" stroke-width="0.45" opacity="0.8"/>
<circle cx="92.09" cy="226.82" r="1.7" fill="#efefef" stroke="#5a5a5a" stroke-width="0.45" opacity="0.64"/>
<circle cx="62.22" cy="210.07" r="1.64" fill="#d8d8d8" stroke="#5a5a5a" stroke-width="0.45" opacity="0.67"/>
<circle cx="81.65" cy="192.68" r="1.01" fill="#efefef" stroke="#5a5a5a" stroke-width="0.45" opacity="0.64"/>
<circle cx="76.76" cy="182.49" r="1.54" fill="#808080" opacity="0.44"/>
<circle cx="76.3" cy="182.03" r="0.61" fill="#ffffff" opacity="0.6"/>
<circle cx="77.05" cy="190.44" r="1.91" fill="#ffffff" stroke="#5a5a5a" stroke-width="0.45" opacity="0.61"/>
<circle cx="76.48" cy="189.86" r="0.76" fill="#ffffff" opacity="0.6"/>
<circle cx="83.69" cy="187.35" r="1.62" fill="#efefef" stroke="#5a5a5a" stroke-width="0.45" opacity="0.69"/>
<circle cx="83.2" cy="186.86" r="0.65" fill="#ffffff" opacity="0.6"/>
<circle cx="114.9" cy="198.18" r="1.34" fill="#efefef" stroke="#5a5a5a" stroke-width="0.45" opacity="0.63"/>
<circle cx="68.2" cy="174" r="1.86" fill="#efefef" stroke="#5a5a5a" stroke-width="0.45" opacity="0.79"/>
<circle cx="67.64" cy="173.44" r="0.75" fill="#ffffff" opacity="0.6"/>
<circle cx="84.13" cy="187.2" r="1.9" fill="#d8d8d8" opacity="0.5"/>
<circle cx="91.08" cy="201.43" r="1.53" fill="#d8d8d8" opacity="0.72"/>
<circle cx="92.62" cy="226.29" r="1.62" fill="#ffffff" stroke="#5a5a5a" stroke-width="0.45" opacity="0.69"/>
<circle cx="97.19" cy="220.76" r="1.42" fill="#969696" opacity="0.52"/>
<circle cx="86.72" cy="229.67" r="1.61" fill="#efefef" stroke="#5a5a5a" stroke-width="0.45" opacity="0.66"/>
<circle cx="81.84" cy="192.07" r="1.87" fill="#efefef" stroke="#5a5a5a" stroke-width="0.45" opacity="0.73"/>
<circle cx="103.39" cy="223.79" r="1.54" fill="#d8d8d8" opacity="0.56"/>
<circle cx="64.16" cy="171.74" r="1.78" fill="#d8d8d8" stroke="#5a5a5a" stroke-width="0.45" opacity="0.88"/>
<circle cx="74.66" cy="163.14" r="2.06" fill="#efefef" stroke="#5a5a5a" stroke-width="0.45" opacity="0.87"/>
<circle cx="75.14" cy="197.1" r="1.69" fill="#d8d8d8" stroke="#5a5a5a" stroke-width="0.45" opacity="0.66"/>
<circle cx="65.68" cy="157.91" r="1.74" fill="#d8d8d8" stroke="#5a5a5a" stroke-width="0.45" opacity="0.91"/>
<circle cx="82.56" cy="196.04" r="1.8" fill="#ffffff" stroke="#5a5a5a" stroke-width="0.45" opacity="0.67"/>
<circle cx="82.02" cy="195.5" r="0.72" fill="#ffffff" opacity="0.6"/>
<circle cx="81.68" cy="212.4" r="1.39" fill="#d8d8d8" opacity="0.55"/>
<circle cx="82.83" cy="174.58" r="1.17" fill="#d8d8d8" stroke="#5a5a5a" stroke-width="0.45" opacity="0.84"/>
<circle cx="82.48" cy="174.23" r="0.47" fill="#ffffff" opacity="0.6"/>
<circle cx="103.15" cy="204.22" r="1.33" fill="#666666" opacity="0.51"/>
<circle cx="108.68" cy="192" r="1.83" fill="#ffffff" opacity="0.64"/>
<circle cx="82.66" cy="176.98" r="1.73" fill="#808080" opacity="0.68"/>
<circle cx="82.14" cy="176.47" r="0.69" fill="#ffffff" opacity="0.6"/>
<circle cx="76.94" cy="180.98" r="1.53" fill="#ffffff" stroke="#5a5a5a" stroke-width="0.45" opacity="0.81"/>
<circle cx="80.4" cy="187.7" r="1.97" fill="#efefef" stroke="#5a5a5a" stroke-width="0.45" opacity="0.86"/>
<circle cx="79.81" cy="187.11" r="0.79" fill="#ffffff" opacity="0.6"/>
<circle cx="66.57" cy="215" r="1.91" fill="#ffffff" stroke="#5a5a5a" stroke-width="0.45" opacity="0.75"/>
<circle cx="81.95" cy="180.02" r="2.06" fill="#ffffff" stroke="#5a5a5a" stroke-width="0.45" opacity="0.61"/>
<circle cx="81.33" cy="179.4" r="0.82" fill="#ffffff" opacity="0.6"/>
<circle cx="69.01" cy="191.38" r="1.41" fill="#ffffff" opacity="0.8"/>
<circle cx="74.04" cy="221.12" r="1.01" fill="#ffffff" stroke="#5a5a5a" stroke-width="0.45" opacity="0.64"/>
<circle cx="65.73" cy="212.84" r="1.74" fill="#efefef" stroke="#5a5a5a" stroke-width="0.45" opacity="0.9"/>
<circle cx="76.48" cy="161.79" r="1.37" fill="#ffffff" stroke="#5a5a5a" stroke-width="0.45" opacity="0.77"/>
<circle cx="78.96" cy="186.23" r="2.1" fill="#d8d8d8" stroke="#5a5a5a" stroke-width="0.45" opacity="0.66"/>
<circle cx="83.81" cy="198.94" r="1.96" fill="#d8d8d8" stroke="#5a5a5a" stroke-width="0.45" opacity="0.72"/>
<circle cx="66.29" cy="180.81" r="1.92" fill="#efefef" stroke="#5a5a5a" stroke-width="0.45" opacity="0.92"/>
<circle cx="81.07" cy="228.03" r="0.98" fill="#666666" opacity="0.35"/>
<circle cx="80.49" cy="178.89" r="1.05" fill="#969696" opacity="0.47"/>
<circle cx="80.18" cy="178.58" r="0.42" fill="#ffffff" opacity="0.6"/>
<circle cx="82.56" cy="218.58" r="0.9" fill="#d8d8d8" stroke="#5a5a5a" stroke-width="0.45" opacity="0.84"/>
<circle cx="82.29" cy="218.31" r="0.36" fill="#ffffff" opacity="0.6"/>
<circle cx="70.75" cy="193.62" r="1.24" fill="#d8d8d8" stroke="#5a5a5a" stroke-width="0.45" opacity="0.79"/>
<circle cx="70.37" cy="193.25" r="0.5" fill="#ffffff" opacity="0.6"/>
<circle cx="73.01" cy="159.95" r="1.44" fill="#efefef" stroke="#5a5a5a" stroke-width="0.45" opacity="0.88"/>
<circle cx="66.77" cy="202.62" r="1.67" fill="#d8d8d8" stroke="#5a5a5a" stroke-width="0.45" opacity="0.74"/>
<circle cx="88.62" cy="213.54" r="1.9" fill="#666666" opacity="0.38"/>
<circle cx="84.86" cy="224.52" r="2.06" fill="#ffffff" stroke="#5a5a5a" stroke-width="0.45" opacity="0.91"/>
<circle cx="63.82" cy="185.31" r="1.51" fill="#d8d8d8" stroke="#5a5a5a" stroke-width="0.45" opacity="0.84"/>
<circle cx="66.99" cy="195.78" r="1.68" fill="#666666" opacity="0.72"/>
<circle cx="75.45" cy="222.37" r="1.6" fill="#efefef" stroke="#5a5a5a" stroke-width="0.45" opacity="0.75"/>
<circle cx="116.02" cy="202.41" r="1.21" fill="#969696" opacity="0.51"/>
<circle cx="79.54" cy="169.84" r="1.14" fill="#ffffff" opacity="0.48"/>
<circle cx="79.2" cy="169.5" r="0.46" fill="#ffffff" opacity="0.6"/>
<circle cx="116.67" cy="201.69" r="1.21" fill="#efefef" opacity="0.68"/>
<circle cx="73.71" cy="160.27" r="1.13" fill="#d8d8d8" stroke="#5a5a5a" stroke-width="0.45" opacity="0.89"/>
<circle cx="81.71" cy="200.69" r="1.2" fill="#d8d8d8" stroke="#5a5a5a" stroke-width="0.45" opacity="0.68"/>
<circle cx="81.35" cy="200.33" r="0.48" fill="#ffffff" opacity="0.6"/>
<circle cx="66.9" cy="219.61" r="1.25" fill="#ffffff" stroke="#5a5a5a" stroke-width="0.45" opacity="0.81"/>
<circle cx="66.53" cy="219.24" r="0.5" fill="#ffffff" opacity="0.6"/>
<circle cx="102.21" cy="201.93" r="1.72" fill="#ffffff" stroke="#5a5a5a" stroke-width="0.45" opacity="0.76"/>
<circle cx="71.74" cy="213.83" r="1.6" fill="#ffffff" opacity="0.47"/>
<circle cx="71.26" cy="213.35" r="0.64" fill="#ffffff" opacity="0.6"/>
<circle cx="77.39" cy="216.2" r="1.49" fill="#ffffff" opacity="0.43"/>
<circle cx="94.6" cy="212.64" r="1.64" fill="#ffffff" stroke="#5a5a5a" stroke-width="0.45" opacity="0.84"/>
<circle cx="94.11" cy="212.15" r="0.66" fill="#ffffff" opacity="0.6"/>
<circle cx="110.96" cy="198.96" r="0.96" fill="#ffffff" stroke="#5a5a5a" stroke-width="0.45" opacity="0.82"/>
<circle cx="110.67" cy="198.68" r="0.38" fill="#ffffff" opacity="0.6"/>
<circle cx="60.3" cy="167.26" r="1.87" fill="#969696" opacity="0.58"/>
<circle cx="59.74" cy="166.7" r="0.75" fill="#ffffff" opacity="0.6"/>
<circle cx="85.91" cy="206.15" r="1.45" fill="#d8d8d8" stroke="#5a5a5a" stroke-width="0.45" opacity="0.81"/>
<circle cx="89.95" cy="202.28" r="2" fill="#d8d8d8" stroke="#5a5a5a" stroke-width="0.45" opacity="0.67"/>
<circle cx="89.35" cy="201.67" r="0.8" fill="#ffffff" opacity="0.6"/>
<circle cx="79.93" cy="226.28" r="1.46" fill="#ffffff" opacity="0.71"/>
<circle cx="79.49" cy="225.84" r="0.58" fill="#ffffff" opacity="0.6"/>
<circle cx="118.05" cy="198.81" r="1.3" fill="#efefef" stroke="#5a5a5a" stroke-width="0.45" opacity="0.81"/>
<circle cx="82.58" cy="188.87" r="1.07" fill="#efefef" opacity="0.6"/>
<circle cx="60.43" cy="169.05" r="1.49" fill="#ffffff" stroke="#5a5a5a" stroke-width="0.45" opacity="0.62"/>
<circle cx="59.98" cy="168.6" r="0.6" fill="#ffffff" opacity="0.6"/>
<circle cx="88.5" cy="232.74" r="1.68" fill="#ffffff" stroke="#5a5a5a" stroke-width="0.45" opacity="0.68"/>
<circle cx="88" cy="232.24" r="0.67" fill="#ffffff" opacity="0.6"/>
<circle cx="114.85" cy="193.71" r="1.14" fill="#d8d8d8" stroke="#5a5a5a" stroke-width="0.45" opacity="0.81"/>
<circle cx="114.51" cy="193.37" r="0.46" fill="#ffffff" opacity="0.6"/>
<circle cx="78.76" cy="186.86" r="1.02" fill="#969696" opacity="0.47"/>
<circle cx="78.45" cy="186.56" r="0.41" fill="#ffffff" opacity="0.6"/>
<circle cx="73.31" cy="193.66" r="1.14" fill="#efefef" opacity="0.39"/>
<circle cx="72.97" cy="193.32" r="0.45" fill="#ffffff" opacity="0.6"/>
<circle cx="74.66" cy="216.54" r="1.44" fill="#d8d8d8" stroke="#5a5a5a" stroke-width="0.45" opacity="0.76"/>
<circle cx="101.38" cy="222.26" r="1.84" fill="#d8d8d8" stroke="#5a5a5a" stroke-width="0.45" opacity="0.66"/>
<circle cx="75.91" cy="230.71" r="1.42" fill="#ffffff" opacity="0.55"/>
<circle cx="82.93" cy="164.9" r="1.69" fill="#efefef" stroke="#5a5a5a" stroke-width="0.45" opacity="0.9"/>
<circle cx="82.42" cy="164.39" r="0.68" fill="#ffffff" opacity="0.6"/>
<circle cx="80.17" cy="218.46" r="1.26" fill="#efefef" stroke="#5a5a5a" stroke-width="0.45" opacity="0.61"/>
<circle cx="79.8" cy="218.08" r="0.5" fill="#ffffff" opacity="0.6"/>
<circle cx="90.31" cy="212.32" r="1.55" fill="#efefef" stroke="#5a5a5a" stroke-width="0.45" opacity="0.81"/>
<circle cx="84.74" cy="202.77" r="0.99" fill="#d8d8d8" stroke="#5a5a5a" stroke-width="0.45" opacity="0.9"/>
<circle cx="66.94" cy="199.69" r="1.26" fill="#ffffff" stroke="#5a5a5a" stroke-width="0.45" opacity="0.87"/>
<circle cx="66.57" cy="199.31" r="0.51" fill="#ffffff" opacity="0.6"/>
<circle cx="72.82" cy="217.48" r="1.82" fill="#d8d8d8" stroke="#5a5a5a" stroke-width="0.45" opacity="0.78"/>
<circle cx="72.27" cy="216.93" r="0.73" fill="#ffffff" opacity="0.6"/>
<circle cx="62.77" cy="170.01" r="1.53" fill="#efefef" opacity="0.54"/>
<circle cx="70.8" cy="161.61" r="1.94" fill="#d8d8d8" stroke="#5a5a5a" stroke-width="0.45" opacity="0.83"/>
<circle cx="70.22" cy="161.03" r="0.77" fill="#ffffff" opacity="0.6"/>
<circle cx="73.2" cy="179.31" r="1.74" fill="#d8d8d8" stroke="#5a5a5a" stroke-width="0.45" opacity="0.75"/>
<circle cx="104.61" cy="216.59" r="1.87" fill="#ffffff" stroke="#5a5a5a" stroke-width="0.45" opacity="0.7"/>
<circle cx="104.05" cy="216.03" r="0.75" fill="#ffffff" opacity="0.6"/>
<circle cx="74.96" cy="173.6" r="1.86" fill="#efefef" stroke="#5a5a5a" stroke-width="0.45" opacity="0.79"/>
<circle cx="63.32" cy="209.64" r="1.85" fill="#ffffff" stroke="#5a5a5a" stroke-width="0.45" opacity="0.84"/>
<circle cx="81.68" cy="194.75" r="1.88" fill="#d8d8d8" stroke="#5a5a5a" stroke-width="0.45" opacity="0.94"/>
<circle cx="62.82" cy="200.76" r="2.03" fill="#efefef" stroke="#5a5a5a" stroke-width="0.45" opacity="0.84"/>
<circle cx="62.21" cy="200.15" r="0.81" fill="#ffffff" opacity="0.6"/>
<circle cx="71.14" cy="216.16" r="1.65" fill="#d8d8d8" stroke="#5a5a5a" stroke-width="0.45" opacity="0.76"/>
<circle cx="70.65" cy="215.66" r="0.66" fill="#ffffff" opacity="0.6"/>
<circle cx="74.03" cy="164.43" r="0.93" fill="#ffffff" opacity="0.67"/>
<circle cx="73.75" cy="164.15" r="0.37" fill="#ffffff" opacity="0.6"/>
<circle cx="81.44" cy="181.17" r="1.72" fill="#efefef" stroke="#5a5a5a" stroke-width="0.45" opacity="0.84"/>
<circle cx="80.92" cy="180.65" r="0.69" fill="#ffffff" opacity="0.6"/>
<circle cx="82.08" cy="185.32" r="1.3" fill="#666666" opacity="0.42"/>
<circle cx="81.69" cy="184.93" r="0.52" fill="#ffffff" opacity="0.6"/>
<circle cx="69.38" cy="229.09" r="1.15" fill="#808080" opacity="0.73"/>
<circle cx="83.77" cy="202.55" r="0.98" fill="#efefef" stroke="#5a5a5a" stroke-width="0.45" opacity="0.63"/>
<circle cx="83.47" cy="202.25" r="0.39" fill="#ffffff" opacity="0.6"/>
<circle cx="88.14" cy="222.56" r="1.66" fill="#969696" opacity="0.49"/>
<circle cx="87.64" cy="222.06" r="0.66" fill="#ffffff" opacity="0.6"/>
<circle cx="93.72" cy="214.86" r="1.19" fill="#ffffff" stroke="#5a5a5a" stroke-width="0.45" opacity="0.86"/>
<circle cx="97.14" cy="217.59" r="1.89" fill="#d8d8d8" opacity="0.63"/>
<circle cx="96.57" cy="217.03" r="0.75" fill="#ffffff" opacity="0.6"/>
<circle cx="72.82" cy="188.6" r="1.73" fill="#969696" opacity="0.59"/>
<circle cx="72.3" cy="188.08" r="0.69" fill="#ffffff" opacity="0.6"/>
<circle cx="64.37" cy="213.42" r="1" fill="#ffffff" stroke="#5a5a5a" stroke-width="0.45" opacity="0.78"/>
<circle cx="84.92" cy="198.27" r="1.09" fill="#ffffff" stroke="#5a5a5a" stroke-width="0.45" opacity="0.69"/>
<circle cx="84.6" cy="197.94" r="0.43" fill="#ffffff" opacity="0.6"/>
<circle cx="93.32" cy="218.88" r="1.37" fill="#efefef" stroke="#5a5a5a" stroke-width="0.45" opacity="0.72"/>
<circle cx="80.88" cy="211.28" r="1.36" fill="#efefef" opacity="0.59"/>
<circle cx="85.17" cy="204.01" r="1.39" fill="#efefef" opacity="0.55"/>
<circle cx="103.71" cy="205.02" r="2.07" fill="#ffffff" stroke="#5a5a5a" stroke-width="0.45" opacity="0.94"/>
<circle cx="103.09" cy="204.39" r="0.83" fill="#ffffff" opacity="0.6"/>
<circle cx="82.7" cy="215.56" r="0.93" fill="#808080" opacity="0.75"/>
<circle cx="82.43" cy="215.28" r="0.37" fill="#ffffff" opacity="0.6"/>
<circle cx="63.64" cy="204.36" r="1.45" fill="#d8d8d8" opacity="0.77"/>
<circle cx="69.53" cy="170.76" r="1.85" fill="#d8d8d8" opacity="0.73"/>
<circle cx="68.97" cy="170.21" r="0.74" fill="#ffffff" opacity="0.6"/>
<circle cx="65.25" cy="224.29" r="1.11" fill="#d8d8d8" stroke="#5a5a5a" stroke-width="0.45" opacity="0.71"/>
<circle cx="62.28" cy="171.91" r="1.78" fill="#ffffff" stroke="#5a5a5a" stroke-width="0.45" opacity="0.76"/>
<circle cx="62.88" cy="213.74" r="1.8" fill="#d8d8d8" stroke="#5a5a5a" stroke-width="0.45" opacity="0.88"/>
<circle cx="80.84" cy="213.8" r="1.03" fill="#808080" opacity="0.41"/>
<circle cx="74.33" cy="216.69" r="1.94" fill="#d8d8d8" stroke="#5a5a5a" stroke-width="0.45" opacity="0.93"/>
<circle cx="81.46" cy="172.84" r="1.43" fill="#808080" opacity="0.73"/>
<circle cx="103.65" cy="207.09" r="1.9" fill="#efefef" stroke="#5a5a5a" stroke-width="0.45" opacity="0.76"/>
<circle cx="106.58" cy="202.12" r="2.03" fill="#d8d8d8" stroke="#5a5a5a" stroke-width="0.45" opacity="0.7"/>
<circle cx="115.98" cy="197.18" r="1.16" fill="#efefef" stroke="#5a5a5a" stroke-width="0.45" opacity="0.94"/>
<circle cx="76.22" cy="161.54" r="2.04" fill="#ffffff" opacity="0.69"/>
<circle cx="62.49" cy="177.5" r="1.46" fill="#efefef" stroke="#5a5a5a" stroke-width="0.45" opacity="0.62"/>
<circle cx="62.05" cy="177.07" r="0.58" fill="#ffffff" opacity="0.6"/>
<circle cx="77.16" cy="172.84" r="1.09" fill="#808080" opacity="0.57"/>
<circle cx="70.36" cy="189.84" r="1.35" fill="#ffffff" stroke="#5a5a5a" stroke-width="0.45" opacity="0.79"/>
<circle cx="80.46" cy="176.33" r="1.65" fill="#666666" opacity="0.76"/>
<circle cx="104.93" cy="197.57" r="1.92" fill="#d8d8d8" stroke="#5a5a5a" stroke-width="0.45" opacity="0.73"/>
<circle cx="104.35" cy="196.99" r="0.77" fill="#ffffff" opacity="0.6"/>
<circle cx="77.3" cy="199.77" r="1.15" fill="#efefef" stroke="#5a5a5a" stroke-width="0.45" opacity="0.61"/>
<circle cx="79.22" cy="209.38" r="0.99" fill="#ffffff" stroke="#5a5a5a" stroke-width="0.45" opacity="0.92"/>
<circle cx="64.19" cy="217.36" r="1.51" fill="#ffffff" opacity="0.56"/>
<circle cx="82.94" cy="212.85" r="1.64" fill="#efefef" stroke="#5a5a5a" stroke-width="0.45" opacity="0.68"/>
<circle cx="79.93" cy="166.2" r="1.73" fill="#969696" opacity="0.57"/>
<circle cx="79.41" cy="165.68" r="0.69" fill="#ffffff" opacity="0.6"/>
<circle cx="82.14" cy="166.52" r="1.78" fill="#ffffff" stroke="#5a5a5a" stroke-width="0.45" opacity="0.8"/>
<circle cx="113.93" cy="193.59" r="1.62" fill="#808080" opacity="0.48"/>
<circle cx="113.45" cy="193.11" r="0.65" fill="#ffffff" opacity="0.6"/>
<circle cx="86.39" cy="232.17" r="1.12" fill="#969696" opacity="0.46"/>
<circle cx="66.71" cy="179.14" r="1.74" fill="#ffffff" stroke="#5a5a5a" stroke-width="0.45" opacity="0.82"/>
<circle cx="72.86" cy="174.07" r="1" fill="#969696" opacity="0.56"/>
<circle cx="72.56" cy="173.77" r="0.4" fill="#ffffff" opacity="0.6"/>
<circle cx="75.62" cy="191.19" r="1.5" fill="#efefef" stroke="#5a5a5a" stroke-width="0.45" opacity="0.87"/>
<circle cx="86.29" cy="228.43" r="1.31" fill="#d8d8d8" stroke="#5a5a5a" stroke-width="0.45" opacity="0.88"/>
<circle cx="85.9" cy="228.04" r="0.52" fill="#ffffff" opacity="0.6"/>
<circle cx="76.41" cy="157.42" r="1.47" fill="#d8d8d8" opacity="0.62"/>
<circle cx="100.76" cy="214.43" r="1.73" fill="#ffffff" opacity="0.72"/>
<circle cx="80.93" cy="197.31" r="1.18" fill="#969696" opacity="0.49"/>
<circle cx="65.41" cy="210.32" r="2.07" fill="#969696" opacity="0.55"/>
<circle cx="64.79" cy="209.7" r="0.83" fill="#ffffff" opacity="0.6"/>
<circle cx="100.7" cy="229.22" r="1.21" fill="#efefef" opacity="0.71"/>
<circle cx="100.34" cy="228.86" r="0.48" fill="#ffffff" opacity="0.6"/>
<circle cx="71.54" cy="173.56" r="1.88" fill="#d8d8d8" opacity="0.62"/>
<circle cx="70.98" cy="172.99" r="0.75" fill="#ffffff" opacity="0.6"/>
<circle cx="72.08" cy="225.27" r="1.69" fill="#ffffff" stroke="#5a5a5a" stroke-width="0.45" opacity="0.61"/>
<circle cx="67.95" cy="168.88" r="1.53" fill="#efefef" opacity="0.68"/>
<circle cx="75.68" cy="163.02" r="1.11" fill="#d8d8d8" stroke="#5a5a5a" stroke-width="0.45" opacity="0.63"/>
<circle cx="89.88" cy="233.67" r="1.33" fill="#d8d8d8" opacity="0.36"/>
<circle cx="88.55" cy="230.48" r="0.97" fill="#969696" opacity="0.77"/>
<circle cx="73.17" cy="178.61" r="1.54" fill="#d8d8d8" opacity="0.61"/>
<circle cx="72.7" cy="178.15" r="0.62" fill="#ffffff" opacity="0.6"/>
<circle cx="64.15" cy="180.17" r="1.4" fill="#d8d8d8" stroke="#5a5a5a" stroke-width="0.45" opacity="0.93"/>
<circle cx="95.98" cy="228.39" r="2.05" fill="#808080" opacity="0.45"/>
<circle cx="72.52" cy="192.93" r="1.03" fill="#d8d8d8" stroke="#5a5a5a" stroke-width="0.45" opacity="0.79"/>
<circle cx="72.21" cy="192.62" r="0.41" fill="#ffffff" opacity="0.6"/>
<circle cx="75.78" cy="191.09" r="1.55" fill="#d8d8d8" stroke="#5a5a5a" stroke-width="0.45" opacity="0.68"/>
<circle cx="79.88" cy="193.66" r="1.67" fill="#efefef" stroke="#5a5a5a" stroke-width="0.45" opacity="0.89"/>
<circle cx="79.38" cy="193.16" r="0.67" fill="#ffffff" opacity="0.6"/>
<circle cx="73.97" cy="212.85" r="1.15" fill="#ffffff" stroke="#5a5a5a" stroke-width="0.45" opacity="0.73"/>
<circle cx="73.63" cy="212.5" r="0.46" fill="#ffffff" opacity="0.6"/>
<circle cx="69.47" cy="226.13" r="0.99" fill="#efefef" stroke="#5a5a5a" stroke-width="0.45" opacity="0.72"/>
<circle cx="69.17" cy="225.84" r="0.4" fill="#ffffff" opacity="0.6"/>
<circle cx="78.02" cy="168.96" r="1.92" fill="#808080" opacity="0.49"/>
<circle cx="77.44" cy="168.39" r="0.77" fill="#ffffff" opacity="0.6"/>
<circle cx="66.26" cy="180.42" r="1.82" fill="#d8d8d8" stroke="#5a5a5a" stroke-width="0.45" opacity="0.74"/>
<circle cx="65.71" cy="179.88" r="0.73" fill="#ffffff" opacity="0.6"/>
<circle cx="75.57" cy="169.27" r="1.66" fill="#d8d8d8" opacity="0.79"/>
<circle cx="75.07" cy="168.78" r="0.66" fill="#ffffff" opacity="0.6"/>
<circle cx="71.28" cy="231.94" r="1.85" fill="#ffffff" opacity="0.65"/>
<circle cx="77.8" cy="214.91" r="1.5" fill="#d8d8d8" stroke="#5a5a5a" stroke-width="0.45" opacity="0.66"/>
<circle cx="77.35" cy="214.46" r="0.6" fill="#ffffff" opacity="0.6"/>
<circle cx="78.15" cy="158.69" r="1.38" fill="#d8d8d8" stroke="#5a5a5a" stroke-width="0.45" opacity="0.94"/>
<circle cx="83.38" cy="232.14" r="1.65" fill="#ffffff" opacity="0.5"/>
<circle cx="82.88" cy="231.65" r="0.66" fill="#ffffff" opacity="0.6"/>
<circle cx="90.91" cy="218.83" r="1.21" fill="#efefef" opacity="0.72"/>
<circle cx="90.54" cy="218.47" r="0.49" fill="#ffffff" opacity="0.6"/>
<circle cx="80.28" cy="218.42" r="1.76" fill="#efefef" stroke="#5a5a5a" stroke-width="0.45" opacity="0.87"/>
<circle cx="62.79" cy="200.71" r="1.75" fill="#efefef" stroke="#5a5a5a" stroke-width="0.45" opacity="0.85"/>
<circle cx="62.27" cy="200.19" r="0.7" fill="#ffffff" opacity="0.6"/>
<circle cx="85.29" cy="220.19" r="1.01" fill="#ffffff" opacity="0.52"/>
<circle cx="84.99" cy="219.89" r="0.4" fill="#ffffff" opacity="0.6"/>
<circle cx="64.26" cy="194.9" r="1.07" fill="#969696" opacity="0.57"/>
<circle cx="83.42" cy="194.21" r="1.03" fill="#efefef" opacity="0.39"/>
<circle cx="83.12" cy="193.91" r="0.41" fill="#ffffff" opacity="0.6"/>
<circle cx="71.16" cy="183.51" r="0.99" fill="#efefef" stroke="#5a5a5a" stroke-width="0.45" opacity="0.81"/>
<circle cx="72.71" cy="218.71" r="1.28" fill="#d8d8d8" stroke="#5a5a5a" stroke-width="0.45" opacity="0.7"/>
<circle cx="72.32" cy="218.33" r="0.51" fill="#ffffff" opacity="0.6"/>
<circle cx="73.59" cy="212.97" r="1.53" fill="#666666" opacity="0.6"/>
<circle cx="71.31" cy="204.8" r="1.18" fill="#666666" opacity="0.76"/>
<circle cx="76.5" cy="204.31" r="1.78" fill="#ffffff" opacity="0.52"/>
<circle cx="79.47" cy="162.2" r="1.3" fill="#efefef" stroke="#5a5a5a" stroke-width="0.45" opacity="0.92"/>
<circle cx="79.08" cy="161.81" r="0.52" fill="#ffffff" opacity="0.6"/>
<circle cx="71.16" cy="162.93" r="1.34" fill="#efefef" opacity="0.64"/>
<circle cx="67.6" cy="225.03" r="1.18" fill="#969696" opacity="0.36"/>
<circle cx="67.24" cy="224.68" r="0.47" fill="#ffffff" opacity="0.6"/>
<circle cx="90.36" cy="231.17" r="1.57" fill="#efefef" stroke="#5a5a5a" stroke-width="0.45" opacity="0.74"/>
<circle cx="89.89" cy="230.7" r="0.63" fill="#ffffff" opacity="0.6"/>
<circle cx="76.35" cy="173.18" r="1.73" fill="#ffffff" stroke="#5a5a5a" stroke-width="0.45" opacity="0.83"/>
<circle cx="71.2" cy="195.92" r="0.92" fill="#d8d8d8" stroke="#5a5a5a" stroke-width="0.45" opacity="0.72"/>
<circle cx="71.91" cy="161.14" r="1.05" fill="#d8d8d8" stroke="#5a5a5a" stroke-width="0.45" opacity="0.6"/>
<circle cx="71.6" cy="160.82" r="0.42" fill="#ffffff" opacity="0.6"/>
<circle cx="82.6" cy="217.63" r="1.52" fill="#d8d8d8" opacity="0.68"/>
<circle cx="84.36" cy="200.95" r="2.02" fill="#d8d8d8" opacity="0.45"/>
<circle cx="76.53" cy="193.17" r="1.4" fill="#ffffff" opacity="0.78"/>
<circle cx="76.11" cy="192.75" r="0.56" fill="#ffffff" opacity="0.6"/>
<circle cx="63.77" cy="162.32" r="1.02" fill="#ffffff" stroke="#5a5a5a" stroke-width="0.45" opacity="0.64"/>
<circle cx="92.12" cy="215.11" r="1.4" fill="#969696" opacity="0.59"/>
<circle cx="90.28" cy="209.49" r="1.92" fill="#d8d8d8" opacity="0.79"/>
<circle cx="73.58" cy="169.84" r="1.88" fill="#969696" opacity="0.42"/>
<circle cx="68.37" cy="227.86" r="1.16" fill="#d8d8d8" opacity="0.4"/>
<circle cx="83.7" cy="173.64" r="1.92" fill="#969696" opacity="0.37"/>
<circle cx="83.13" cy="173.07" r="0.77" fill="#ffffff" opacity="0.6"/>
<circle cx="102.64" cy="231.23" r="1.29" fill="#efefef" stroke="#5a5a5a" stroke-width="0.45" opacity="0.77"/>
<circle cx="60.81" cy="168.01" r="1.18" fill="#d8d8d8" stroke="#5a5a5a" stroke-width="0.45" opacity="0.74"/>
<circle cx="105.25" cy="207.91" r="0.98" fill="#efefef" stroke="#5a5a5a" stroke-width="0.45" opacity="0.84"/>
<circle cx="104.95" cy="207.61" r="0.39" fill="#ffffff" opacity="0.6"/>
<circle cx="90.24" cy="221.38" r="1.72" fill="#efefef" stroke="#5a5a5a" stroke-width="0.45" opacity="0.81"/>
<circle cx="86.29" cy="227.05" r="1.09" fill="#ffffff" stroke="#5a5a5a" stroke-width="0.45" opacity="0.89"/>
<circle cx="71.25" cy="198.39" r="1.6" fill="#efefef" stroke="#5a5a5a" stroke-width="0.45" opacity="0.69"/>
<circle cx="70.77" cy="197.91" r="0.64" fill="#ffffff" opacity="0.6"/>
<circle cx="68.69" cy="178.23" r="1.45" fill="#efefef" stroke="#5a5a5a" stroke-width="0.45" opacity="0.74"/>
<circle cx="68.26" cy="177.8" r="0.58" fill="#ffffff" opacity="0.6"/>
<circle cx="64.14" cy="182.06" r="1.76" fill="#efefef" opacity="0.73"/>
<circle cx="71.05" cy="198.16" r="1.91" fill="#969696" opacity="0.69"/>
<circle cx="65.52" cy="213.59" r="1.14" fill="#ffffff" stroke="#5a5a5a" stroke-width="0.45" opacity="0.79"/>
<circle cx="78.27" cy="201.1" r="1.68" fill="#ffffff" stroke="#5a5a5a" stroke-width="0.45" opacity="0.79"/>
<circle cx="77.77" cy="200.6" r="0.67" fill="#ffffff" opacity="0.6"/>
<circle cx="63.2" cy="198.14" r="1.99" fill="#efefef" stroke="#5a5a5a" stroke-width="0.45" opacity="0.92"/>
<circle cx="62.6" cy="197.54" r="0.8" fill="#ffffff" opacity="0.6"/>
<circle cx="78.6" cy="180.05" r="1.13" fill="#efefef" stroke="#5a5a5a" stroke-width="0.45" opacity="0.92"/>
<circle cx="69.49" cy="227.36" r="1.71" fill="#ffffff" stroke="#5a5a5a" stroke-width="0.45" opacity="0.79"/>
<circle cx="68.98" cy="226.85" r="0.69" fill="#ffffff" opacity="0.6"/>
<circle cx="77.17" cy="175.53" r="1.43" fill="#ffffff" stroke="#5a5a5a" stroke-width="0.45" opacity="0.7"/>
<circle cx="68.8" cy="178.85" r="1.2" fill="#d8d8d8" stroke="#5a5a5a" stroke-width="0.45" opacity="0.83"/>
<circle cx="82.41" cy="189.3" r="1.68" fill="#969696" opacity="0.76"/>
<circle cx="81.91" cy="188.79" r="0.67" fill="#ffffff" opacity="0.6"/>
<path d="M69.01,166.14C69.47,164.3 70.39,163.78 72.46,163.55C74.54,163.32 75.86,163.9 76.78,165.28C77.7,166.66 77.53,167.35 75.92,168.73C74.31,170.12 72.58,171.15 70.73,170.46C68.89,169.77 68.55,167.99 69.01,166.14Z" fill="#f29ad0"/>
<circle cx="76.13" cy="165.1" r="0.79" fill="#e070b8" opacity="0.54"/>
<circle cx="70.4" cy="167.75" r="1.08" fill="#f8c0e2" opacity="0.6"/>
<circle cx="73.8" cy="168.92" r="1.2" fill="#e070b8" opacity="0.73"/>
<circle cx="72.66" cy="167.97" r="0.78" fill="#f8c0e2" opacity="0.58"/>
<circle cx="74.3" cy="165.17" r="1.37" fill="#f8c0e2" opacity="0.6"/>
<circle cx="70.2" cy="165.29" r="1.14" fill="#f8c0e2" opacity="0.54"/>
<circle cx="72.44" cy="167.55" r="0.87" fill="#e070b8" opacity="0.44"/>
<circle cx="73.14" cy="165.8" r="1.37" fill="#f8c0e2" opacity="0.74"/>
<path d="M82.83,169.6C83.06,168.45 83.87,168.04 84.56,168.73C85.25,169.43 85.65,171.04 85.42,172.19C85.19,173.34 84.38,173.75 83.69,173.05C83,172.36 82.6,170.75 82.83,169.6Z" fill="#f29ad0"/>
<circle cx="82.91" cy="169.75" r="1.39" fill="#f8c0e2" opacity="0.42"/>
<circle cx="83.5" cy="170.3" r="1.07" fill="#f8c0e2" opacity="0.52"/>
<path d="M73.33,182.56C73.79,181.64 75.4,181.23 76.78,181.69C78.16,182.15 78.97,183.36 78.51,184.29C78.05,185.21 76.44,185.61 75.05,185.15C73.67,184.69 72.87,183.48 73.33,182.56Z" fill="#f29ad0"/>
<circle cx="75.79" cy="183.31" r="0.83" fill="#f8c0e2" opacity="0.63"/>
<circle cx="76.3" cy="184.25" r="1.02" fill="#f8c0e2" opacity="0.78"/>
<path d="M85.42,192.06C86.2,192.29 88.19,194.13 88.88,195.52C89.57,196.9 88.8,197.47 88.01,197.24C87.23,197.01 86.63,196.03 85.94,194.65C85.25,193.27 84.64,191.83 85.42,192.06Z" fill="#f29ad0"/>
<circle cx="85.83" cy="193.63" r="0.99" fill="#f8c0e2" opacity="0.48"/>
<circle cx="87.31" cy="195.22" r="0.79" fill="#f8c0e2" opacity="0.45"/>
<path d="M103.56,205.88C104.25,205.42 105.69,205.83 106.16,206.75C106.62,207.67 105.98,208.88 105.29,209.34C104.6,209.8 104.02,209.4 103.56,208.48C103.1,207.55 102.87,206.34 103.56,205.88Z" fill="#f29ad0"/>
<circle cx="104.97" cy="208.41" r="1.3" fill="#e070b8" opacity="0.45"/>
<circle cx="104.75" cy="208.19" r="0.96" fill="#e070b8" opacity="0.6"/>
<path d="M97,222.3C97.69,221.15 99.05,220.74 100.11,221.43C101.17,222.13 101.66,223.74 100.97,224.89C100.28,226.04 98.58,226.44 97.52,225.75C96.46,225.06 96.31,223.45 97,222.3Z" fill="#f29ad0"/>
<circle cx="98.54" cy="224.44" r="1.29" fill="#f8c0e2" opacity="0.74"/>
<circle cx="100.02" cy="223.22" r="1.2" fill="#f8c0e2" opacity="0.45"/>
<path d="M98.38,230.94C98.98,230.38 100.28,230.38 100.97,230.94C101.66,231.49 101.57,232.46 100.97,233.01C100.37,233.56 99.42,233.56 98.73,233.01C98.03,232.46 97.78,231.49 98.38,230.94Z" fill="#f29ad0"/>
<circle cx="100.71" cy="232.69" r="1.32" fill="#f8c0e2" opacity="0.71"/>
<circle cx="99.16" cy="231.99" r="0.97" fill="#f8c0e2" opacity="0.57"/>
</g>
</g>
<text x="89.2" y="51.5" font-size="14.5" text-anchor="start" font-weight="normal" fill="#e0646c" >RBD</text>
<text x="241.8" y="54.7" font-size="14.3" text-anchor="start" font-weight="normal" fill="#3e86c8" >NTD</text>
<text x="100.3" y="177.8" font-size="14.4" text-anchor="start" font-weight="normal" fill="#6db56d" >S2</text>
<circle cx="133" cy="193.2" r="1.6" fill="#000"/><circle cx="133" cy="225" r="1.6" fill="#000"/>
<text x="147.5" y="198.4" font-size="13.5" text-anchor="start" font-weight="normal" fill="#000" >251 structurally determined</text>
<text x="147.5" y="214" font-size="13.5" text-anchor="start" font-weight="normal" fill="#000" >spike-specific mAbs</text>
<text x="147.5" y="229.7" font-size="13.5" text-anchor="start" font-weight="normal" fill="#000" >2677 spike-specific mAbs</text>
<path d="M37.37,48.61L51.47,56.71L65.49,54.63M50.9,52.85L64.91,50.77M35.43,51.99L49.53,60.09L55.92,72.08M46.09,61.93L52.48,73.92" fill="none" stroke="#ff6c05" stroke-width="1.8" stroke-linejoin="miter"/>
<path d="M101.61,64.49L93.21,66.69L85.26,64.2M93.9,64.49L85.94,62M102.19,66.71L93.79,68.91L88.91,74.87M95.57,70.37L90.69,76.33" fill="none" stroke="#ecbda0" stroke-width="1.05" stroke-linejoin="miter"/>
<path d="M121.88,57.81L113.38,71.81L100.46,76.58M112.06,68.25L99.14,73.02M125.12,59.79L116.62,73.79L117.5,87.62M120.42,73.54L121.3,87.38" fill="none" stroke="#fba013" stroke-width="1.9" stroke-linejoin="miter"/>
<path d="M121.58,110.09L116.38,103.19L109.01,99.57M115.37,105.26L107.99,101.63M123.42,108.71L118.22,101.81L118.65,93.74M120.52,101.93L120.95,93.86" fill="none" stroke="#ecbda0" stroke-width="1.05" stroke-linejoin="miter"/>
<path d="M37.8,103.65L46.4,103.65L53.33,99.06M45.13,101.73L52.07,97.14M37.8,105.95L46.4,105.95L53.29,110.12M45.21,107.92L52.11,112.08" fill="none" stroke="#ecbda0" stroke-width="1.05" stroke-linejoin="miter"/>
<path d="M127.97,123.97L111.57,121.67L102.11,113.37M114.14,118.74L104.69,110.43M127.43,127.83L111.03,125.53L99.34,132.1M112.94,128.93L101.26,135.5" fill="none" stroke="#ffc800" stroke-width="1.9" stroke-linejoin="miter"/>
<path d="M90.63,149.02L87.53,141.22L79.78,136.71M86.37,143.21L78.62,138.69M92.77,148.18L89.67,140.38L90.56,132.86M91.95,140.65L92.84,133.14" fill="none" stroke="#ecbda0" stroke-width="1.05" stroke-linejoin="miter"/>
<path d="M186.99,64.7L200.09,70.7L213.52,69.75M199.85,67.41L213.28,66.45M185.61,67.7L198.71,73.7L203.75,87.22M195.62,74.85L200.65,88.38" fill="none" stroke="#4189da" stroke-width="1.6" stroke-linejoin="miter"/>
<path d="M231.29,51.37L227.49,57.87L220.03,61.26M226.63,55.96L219.17,59.34M233.11,52.43L229.31,58.93L229.85,65.98M231.4,58.77L231.95,65.82" fill="none" stroke="#9fc1e6" stroke-width="1.05" stroke-linejoin="miter"/>
<path d="M194.32,126.97L207.82,117.07L208.55,103.49M204.53,116.89L205.25,103.31M196.28,129.63L209.78,119.73L223.16,117.77M210.25,123L223.64,121.03" fill="none" stroke="#1ab6f5" stroke-width="1.6" stroke-linejoin="miter"/>
<path d="M31.38,225.95L45.48,218.45L50.92,205.27M42.24,217.12L47.68,203.93M33.02,229.05L47.12,221.55L60.87,223.67M46.59,225L60.33,227.13" fill="none" stroke="#06ad4b" stroke-width="1.9" stroke-linejoin="miter"/>
<path d="M107.75,258.83L101.75,252.63L93.77,250.49M101.2,254.66L93.23,252.51M109.25,257.37L103.25,251.17L102.95,243.44M105.35,251.09L105.05,243.36" fill="none" stroke="#b4d6ab" stroke-width="0.95" stroke-linejoin="miter"/>
<text x="370.5" y="62" font-size="13.5" text-anchor="middle" font-weight="normal" fill="#000" >COVID-19</text>
<text x="370.5" y="78" font-size="13.5" text-anchor="middle" font-weight="normal" fill="#000" >convalescents</text>
<text x="370.5" y="93.8" font-size="13.5" text-anchor="middle" font-weight="normal" fill="#000" >n=33</text>
<text x="576.7" y="59.7" font-size="13.5" text-anchor="middle" font-weight="normal" fill="#000" >Healthy</text>
<text x="576.7" y="75.6" font-size="13.5" text-anchor="middle" font-weight="normal" fill="#000" >controls</text>
<text x="576.7" y="91.6" font-size="13.5" text-anchor="middle" font-weight="normal" fill="#000" >n=24</text>
<text x="437" y="145.8" font-size="13.5" text-anchor="end" font-weight="normal" fill="#000" >PBMCs</text>
<text x="562" y="203.8" font-size="13.5" text-anchor="middle" font-weight="normal" fill="#000" >IgH library</text>
<text x="562" y="219.3" font-size="13.5" text-anchor="middle" font-weight="normal" fill="#000" >~230 million seqs</text>
<path d="M443.35,80V69L448.46,65.12H449.74L454.85,69V80Z" fill="#fff" stroke="#000" stroke-width="1.4" stroke-linejoin="round"/>
<circle cx="449.1" cy="59.4" r="5.3" fill="#fff" stroke="#000" stroke-width="1.4"/>
<path d="M463,80V69.1L467.66,65.52H468.94L473.6,69.1V80Z" fill="#fff" stroke="#000" stroke-width="1.4" stroke-linejoin="round"/>
<circle cx="468.3" cy="59.8" r="5.3" fill="#fff" stroke="#000" stroke-width="1.4"/>
<path d="M434.75,82V70.7L439.56,67.28H440.84L445.65,70.7V82Z" fill="#fff" stroke="#000" stroke-width="1.4" stroke-linejoin="round"/>
<circle cx="440.2" cy="61.5" r="5.35" fill="#fff" stroke="#000" stroke-width="1.4"/>
<path d="M452.65,82.8V71.4L457.86,68.08H459.14L464.35,71.4V82.8Z" fill="#fff" stroke="#000" stroke-width="1.4" stroke-linejoin="round"/>
<circle cx="458.5" cy="62.3" r="5.35" fill="#fff" stroke="#000" stroke-width="1.4"/>
<path d="M501.45,80V69L506.56,65.12H507.84L512.95,69V80Z" fill="#d2d2d2" stroke="#000" stroke-width="1.4" stroke-linejoin="round"/>
<circle cx="507.2" cy="59.4" r="5.3" fill="#d2d2d2" stroke="#000" stroke-width="1.4"/>
<path d="M521.1,80V69.1L525.76,65.52H527.04L531.7,69.1V80Z" fill="#d2d2d2" stroke="#000" stroke-width="1.4" stroke-linejoin="round"/>
<circle cx="526.4" cy="59.8" r="5.3" fill="#d2d2d2" stroke="#000" stroke-width="1.4"/>
<path d="M492.85,82V70.7L497.66,67.28H498.94L503.75,70.7V82Z" fill="#d2d2d2" stroke="#000" stroke-width="1.4" stroke-linejoin="round"/>
<circle cx="498.3" cy="61.5" r="5.35" fill="#d2d2d2" stroke="#000" stroke-width="1.4"/>
<path d="M510.75,82.8V71.4L515.96,68.08H517.24L522.45,71.4V82.8Z" fill="#d2d2d2" stroke="#000" stroke-width="1.4" stroke-linejoin="round"/>
<circle cx="516.6" cy="62.3" r="5.35" fill="#d2d2d2" stroke="#000" stroke-width="1.4"/>
<path d="M481.8,90V106.2" stroke="#6b6666" stroke-width="2.9" fill="none"/>
<path d="M477.7,105.7H485.9L481.8,112.2Z" fill="#6b6666"/>
<path d="M481.8,163V178" stroke="#6b6666" stroke-width="2.9" fill="none"/>
<path d="M477.7,177.5H485.9L481.8,184Z" fill="#6b6666"/>
<path d="M449.8,122V154L455,158.8L460.2,154V122Z" fill="#fff" stroke="#666" stroke-width="0.7"/>
<path d="M450.2,133.4H459.8V153.8L455,158.2L450.2,153.8Z" fill="#f9655b"/>
<path d="M456,130.5H459.8" stroke="#8a5a55" stroke-width="0.6" opacity="0.8"/>
<path d="M456,134.8H459.8" stroke="#8a5a55" stroke-width="0.6" opacity="0.8"/>
<path d="M456,138.6H459.8" stroke="#8a5a55" stroke-width="0.6" opacity="0.8"/>
<path d="M456,142.8H459.8" stroke="#8a5a55" stroke-width="0.6" opacity="0.8"/>
<path d="M449.8,122V154L455,158.8L460.2,154V122" fill="none" stroke="#666" stroke-width="0.7"/>
<rect x="448.2" y="116.4" width="13.6" height="5.7" rx="1" fill="#f39c12" stroke="#8a5a10" stroke-width="0.7"/>
<path d="M450.8,117V121.6" stroke="#d98200" stroke-width="0.8"/>
<path d="M452.9,117V121.6" stroke="#d98200" stroke-width="0.8"/>
<path d="M455,117V121.6" stroke="#d98200" stroke-width="0.8"/>
<path d="M457.1,117V121.6" stroke="#d98200" stroke-width="0.8"/>
<path d="M459.2,117V121.6" stroke="#d98200" stroke-width="0.8"/>
<path d="M476.4,122V154L481.6,158.8L486.8,154V122Z" fill="#fff" stroke="#666" stroke-width="0.7"/>
<path d="M476.8,133.4H486.4V153.8L481.6,158.2L476.8,153.8Z" fill="#f9655b"/>
<path d="M482.6,130.5H486.4" stroke="#8a5a55" stroke-width="0.6" opacity="0.8"/>
<path d="M482.6,134.8H486.4" stroke="#8a5a55" stroke-width="0.6" opacity="0.8"/>
<path d="M482.6,138.6H486.4" stroke="#8a5a55" stroke-width="0.6" opacity="0.8"/>
<path d="M482.6,142.8H486.4" stroke="#8a5a55" stroke-width="0.6" opacity="0.8"/>
<path d="M476.4,122V154L481.6,158.8L486.8,154V122" fill="none" stroke="#666" stroke-width="0.7"/>
<rect x="474.8" y="116.4" width="13.6" height="5.7" rx="1" fill="#f39c12" stroke="#8a5a10" stroke-width="0.7"/>
<path d="M477.4,117V121.6" stroke="#d98200" stroke-width="0.8"/>
<path d="M479.5,117V121.6" stroke="#d98200" stroke-width="0.8"/>
<path d="M481.6,117V121.6" stroke="#d98200" stroke-width="0.8"/>
<path d="M483.7,117V121.6" stroke="#d98200" stroke-width="0.8"/>
<path d="M485.8,117V121.6" stroke="#d98200" stroke-width="0.8"/>
<path d="M502.9,122V154L508.1,158.8L513.3,154V122Z" fill="#fff" stroke="#666" stroke-width="0.7"/>
<path d="M503.3,133.4H512.9V153.8L508.1,158.2L503.3,153.8Z" fill="#f9655b"/>
<path d="M509.1,130.5H512.9" stroke="#8a5a55" stroke-width="0.6" opacity="0.8"/>
<path d="M509.1,134.8H512.9" stroke="#8a5a55" stroke-width="0.6" opacity="0.8"/>
<path d="M509.1,138.6H512.9" stroke="#8a5a55" stroke-width="0.6" opacity="0.8"/>
<path d="M509.1,142.8H512.9" stroke="#8a5a55" stroke-width="0.6" opacity="0.8"/>
<path d="M502.9,122V154L508.1,158.8L513.3,154V122" fill="none" stroke="#666" stroke-width="0.7"/>
<rect x="501.3" y="116.4" width="13.6" height="5.7" rx="1" fill="#f39c12" stroke="#8a5a10" stroke-width="0.7"/>
<path d="M503.9,117V121.6" stroke="#d98200" stroke-width="0.8"/>
<path d="M506,117V121.6" stroke="#d98200" stroke-width="0.8"/>
<path d="M508.1,117V121.6" stroke="#d98200" stroke-width="0.8"/>
<path d="M510.2,117V121.6" stroke="#d98200" stroke-width="0.8"/>
<path d="M512.3,117V121.6" stroke="#d98200" stroke-width="0.8"/>
<path d="M364.5,191.8h36.2" stroke="#7f7f7f" stroke-width="1.3"/>
<circle cx="364.5" cy="191.8" r="3.1" fill="#5b9bd5" stroke="#6e6e6e" stroke-width="0.8"/>
<path d="M410.8,189.8h36.2" stroke="#7f7f7f" stroke-width="1.3"/>
<circle cx="410.8" cy="189.8" r="3.1" fill="#ff6600" stroke="#6e6e6e" stroke-width="0.8"/>
<path d="M458,189.3h36.2" stroke="#7f7f7f" stroke-width="1.3"/>
<circle cx="458" cy="189.3" r="3.1" fill="#bfbfbf" stroke="#6e6e6e" stroke-width="0.8"/>
<path d="M390.3,200h36.2" stroke="#7f7f7f" stroke-width="1.3"/>
<circle cx="390.3" cy="200" r="3.1" fill="#ff9900" stroke="#6e6e6e" stroke-width="0.8"/>
<path d="M434.5,197.3h36.2" stroke="#7f7f7f" stroke-width="1.3"/>
<circle cx="434.5" cy="197.3" r="3.1" fill="#ffcc00" stroke="#6e6e6e" stroke-width="0.8"/>
<path d="M457.8,204.3h36.2" stroke="#7f7f7f" stroke-width="1.3"/>
<circle cx="457.8" cy="204.3" r="3.1" fill="#ff9900" stroke="#6e6e6e" stroke-width="0.8"/>
<path d="M371.3,210.5h36.2" stroke="#7f7f7f" stroke-width="1.3"/>
<circle cx="371.3" cy="210.5" r="3.1" fill="#bfbfbf" stroke="#6e6e6e" stroke-width="0.8"/>
<path d="M413.5,207.5h36.2" stroke="#7f7f7f" stroke-width="1.3"/>
<circle cx="413.5" cy="207.5" r="3.1" fill="#33ccff" stroke="#6e6e6e" stroke-width="0.8"/>
<path d="M427.5,213.8h36.2" stroke="#7f7f7f" stroke-width="1.3"/>
<circle cx="427.5" cy="213.8" r="3.1" fill="#00b050" stroke="#6e6e6e" stroke-width="0.8"/>
<path d="M391.5,221h36.2" stroke="#7f7f7f" stroke-width="1.3"/>
<circle cx="391.5" cy="221" r="3.1" fill="#ff6600" stroke="#6e6e6e" stroke-width="0.8"/>
<path d="M447.5,221h36.2" stroke="#7f7f7f" stroke-width="1.3"/>
<circle cx="447.5" cy="221" r="3.1" fill="#5b9bd5" stroke="#6e6e6e" stroke-width="0.8"/>
<path d="M446.3,226.8L404.8,239.3M485.5,226.8L527,239.3" stroke="#8c8c8c" stroke-width="0.8" fill="none"/>
<rect x="404.5" y="239.7" width="122.5" height="4.2" fill="#e6e6e6" stroke="#333" stroke-width="0.9"/>
<rect x="405" y="240.2" width="57" height="3.2" fill="#cfcfcf"/>
<rect x="462" y="240.2" width="14.7" height="3.2" fill="#f4f4f4"/>
<rect x="476.7" y="240.2" width="21.3" height="3.2" fill="#dcdcdc"/>
<rect x="498" y="240.2" width="28.5" height="3.2" fill="#fafafa"/>
<path d="M462,239.7v4.2M476.7,239.7v4.2M498,239.7v4.2" stroke="#333" stroke-width="0.9"/>
<text x="429.6" y="253" font-size="8.6" fill="#222">V<tspan font-size="5.6" dy="1.6">H</tspan></text>
<text x="463.4" y="253" font-size="8.6" fill="#222">D<tspan font-size="5.6" dy="1.6">H</tspan></text>
<text x="483" y="253" font-size="8.6" fill="#222">J<tspan font-size="5.6" dy="1.6">H</tspan></text>
<text x="506.6" y="253" font-size="8.6" fill="#222">C<tspan font-size="5.6" dy="1.6">H</tspan></text>
<path d="M405.5,258H422.9" stroke="#111" stroke-width="1.1" fill="none"/>
<path d="M421.3,255.8L425.3,258L421.3,260.2Z" fill="#111"/>
<path d="M525,258H508" stroke="#111" stroke-width="1.1" fill="none"/>
<path d="M509.6,255.8L505.6,258L509.6,260.2Z" fill="#111"/>
<text x="66" y="306.5" font-size="13.5" text-anchor="middle" font-weight="normal" fill="#000" >Spike-specific</text>
<text x="66" y="322.5" font-size="13.5" text-anchor="middle" font-weight="normal" fill="#000" >mAbs</text>
<text x="316.4" y="329.7" font-size="13.5" text-anchor="middle" font-weight="normal" fill="#000" >Lineage</text>
<text x="316.4" y="345" font-size="13.5" text-anchor="middle" font-weight="normal" fill="#000" >clustering</text>
<text x="532.5" y="303.8" font-size="13.5" text-anchor="middle" font-weight="normal" fill="#000" >SARS-CoV-2-exposed</text>
<text x="532.5" y="319.5" font-size="13.5" text-anchor="middle" font-weight="normal" fill="#000" >and -unexposed IgH</text>
<text x="532.5" y="335" font-size="13.5" text-anchor="middle" font-weight="normal" fill="#000" >repertoires</text>
<path d="M346,312.2H300" stroke="#6b6666" stroke-width="2.3" fill="none"/>
<path d="M293.3,312.2L301.6,307.4V317Z" fill="#6b6666"/>
<path d="M126.2,313.5L126.2,305.5L122.17,297.89M124.26,306.53L120.23,298.91M128.4,313.5L128.4,305.5L134.37,298.68M130.06,306.95L136.03,300.12" fill="none" stroke="#b9d6ae" stroke-width="0.95" stroke-linejoin="miter"/>
<path d="M158.9,304.15L155.5,296.65L147.71,292.62M154.49,298.61L146.69,294.58M160.9,303.25L157.5,295.75L157.2,287.04M159.7,295.67L159.4,286.96" fill="none" stroke="#ecbda0" stroke-width="0.95" stroke-linejoin="miter"/>
<path d="M180.45,301L180.45,290.9L176.23,281.87M178.18,291.96L173.97,282.93M182.95,301L182.95,290.9L190.9,282.63M184.75,292.63L192.7,284.37" fill="none" stroke="#7a7a7a" stroke-width="1.1" stroke-linejoin="miter"/>
<path d="M148.55,324.9L148.55,314.8L143.49,305.69M146.36,316.01L141.31,306.91M151.05,324.9L151.05,314.8L158.2,307.34M152.86,316.53L160,309.06" fill="none" stroke="#4a90d9" stroke-width="1.1" stroke-linejoin="miter"/>
<path d="M180.95,324.8L181.75,314.7L177.01,305.72M179.54,315.87L174.79,306.88M183.45,325L184.25,314.9L191.39,307.34M186.06,316.62L193.21,309.06" fill="none" stroke="#ff9900" stroke-width="1.1" stroke-linejoin="miter"/>
<path d="M210.25,317.4L211.05,307.3L206.2,298.31M208.85,308.49L204,299.49M212.75,317.6L213.55,307.5L220.7,300.13M215.34,309.24L222.5,301.87" fill="none" stroke="#ffcc00" stroke-width="1.1" stroke-linejoin="miter"/>
<path d="M244.25,312.14L244.75,301.54L239.89,292.98M242.58,302.78L237.71,294.22M246.75,312.26L247.25,301.66L254.65,294.78M248.95,303.49L256.35,296.62" fill="none" stroke="#666666" stroke-width="1.1" stroke-linejoin="miter"/>
<path d="M228.91,332.79L229.71,324.79L224.64,316.43M227.82,325.93L222.76,317.57M231.09,333.01L231.89,325.01L237.17,318.88M233.56,326.44L238.83,320.32" fill="none" stroke="#b9d6ae" stroke-width="0.95" stroke-linejoin="miter"/>
<path d="M245.91,335.95L251.21,328.75L249.17,320.44M249.08,329.27L247.03,320.96M247.69,337.25L252.99,330.05L259.43,325.13M254.32,331.8L260.77,326.87" fill="none" stroke="#b2cce9" stroke-width="0.95" stroke-linejoin="miter"/>
<path d="M131.64,342.16L135.64,335.06L133.67,327.33M133.51,335.6L131.53,327.87M133.56,343.24L137.56,336.14L144.59,332.43M138.59,338.09L145.61,334.37" fill="none" stroke="#b2cce9" stroke-width="0.95" stroke-linejoin="miter"/>
<path d="M164.55,352.54L165.05,342.64L159.37,333.35M162.92,343.94L157.23,334.65M167.05,352.66L167.55,342.76L174.14,334.8M169.47,344.36L176.06,336.4" fill="none" stroke="#ff6600" stroke-width="1.1" stroke-linejoin="miter"/>
<path d="M201.75,353.34L202.25,343.44L196.57,334.15M200.12,344.74L194.43,335.45M204.25,353.46L204.75,343.56L212.17,335.27M206.61,345.23L214.03,336.93" fill="none" stroke="#00b050" stroke-width="1.1" stroke-linejoin="miter"/>
<path d="M232.49,354.55L228.99,346.65L221.53,342.54M227.93,348.57L220.47,344.46M234.51,353.65L231.01,345.75L231.1,338.19M233.21,345.78L233.3,338.21" fill="none" stroke="#ecbda0" stroke-width="0.95" stroke-linejoin="miter"/>
<path d="M261.45,359.89L262.25,350.59L256.58,340.77M260.09,351.84L254.42,342.03M263.95,360.11L264.75,350.81L270.98,341.98M266.79,352.25L273.02,343.42" fill="none" stroke="#33ccff" stroke-width="1.1" stroke-linejoin="miter"/>
<circle cx="410.6" cy="295.3" r="3.6" fill="#00b050" stroke="#555" stroke-width="0.85"/>
<circle cx="387.2" cy="304.7" r="3.6" fill="#5b9bd5" stroke="#555" stroke-width="0.85"/>
<circle cx="432.5" cy="303.1" r="3.6" fill="#bfbfbf" stroke="#555" stroke-width="0.85"/>
<circle cx="415.3" cy="310.6" r="3.6" fill="#ff6600" stroke="#555" stroke-width="0.85"/>
<circle cx="370.6" cy="316.3" r="3.6" fill="#ff6600" stroke="#555" stroke-width="0.85"/>
<circle cx="454.4" cy="316.9" r="3.6" fill="#bfbfbf" stroke="#555" stroke-width="0.85"/>
<circle cx="393.4" cy="323.1" r="3.6" fill="#ff9900" stroke="#555" stroke-width="0.85"/>
<circle cx="410.6" cy="327.2" r="3.6" fill="#33ccff" stroke="#555" stroke-width="0.85"/>
<circle cx="428.8" cy="327.5" r="3.6" fill="#5b9bd5" stroke="#555" stroke-width="0.85"/>
<circle cx="366.3" cy="335.9" r="3.6" fill="#bfbfbf" stroke="#555" stroke-width="0.85"/>
<circle cx="385" cy="340.3" r="3.6" fill="#33ccff" stroke="#555" stroke-width="0.85"/>
<circle cx="451.3" cy="337.2" r="3.6" fill="#ff6600" stroke="#555" stroke-width="0.85"/>
<circle cx="432.5" cy="342.8" r="3.6" fill="#bfbfbf" stroke="#555" stroke-width="0.85"/>
<circle cx="407.5" cy="347.5" r="3.6" fill="#ffcc00" stroke="#555" stroke-width="0.85"/>
<circle cx="379.4" cy="355.3" r="3.6" fill="#ff9900" stroke="#555" stroke-width="0.85"/>
<circle cx="423.8" cy="355.3" r="3.6" fill="#00b050" stroke="#555" stroke-width="0.85"/>
<text x="104.8" y="414.2" font-size="14.9" text-anchor="start" font-weight="normal" fill="#e9757d" >RBD</text>
<path d="M140.6,404.12H146.6M140.6,413.88H146.6" stroke="#e9757d" stroke-width="0.85" fill="none"/>
<path d="M143.7,403.7V414.3" stroke="#e9757d" stroke-width="1.0" fill="none"/>
<text x="150.9" y="413.9" font-size="15" fill="#e9757d" stroke="#e9757d" stroke-width="0.25">~</text>
<path d="M159.2,404.1H162.4M165.2,404.1H167.6M160.6,403.9L163.5,414.2L166.5,403.9" stroke="#e9757d" stroke-width="0.95" fill="none" stroke-linejoin="miter"/>
<path d="M167.4,404.12H173.5M167.4,413.88H173.5" stroke="#e9757d" stroke-width="0.85" fill="none"/>
<path d="M169.5,403.7V414.3M172.3,403.7V414.3" stroke="#e9757d" stroke-width="1.0" fill="none"/>
<text x="343.2" y="414.7" font-size="15" text-anchor="start" font-weight="normal" fill="#4a8fd6" >NTD</text>
<path d="M378.2,405.43H384.1M378.2,414.88H384.1" stroke="#4a8fd6" stroke-width="0.85" fill="none"/>
<path d="M381.1,405V415.3" stroke="#4a8fd6" stroke-width="1.0" fill="none"/>
<text x="388.4" y="414.9" font-size="15" fill="#4a8fd6" stroke="#4a8fd6" stroke-width="0.25">~</text>
<path d="M398.1,405.43H410.2M398.1,414.88H410.2" stroke="#4a8fd6" stroke-width="0.85" fill="none"/>
<path d="M400.9,405V415.3M404.2,405V415.3M407.5,405V415.3" stroke="#4a8fd6" stroke-width="1.0" fill="none"/>
<text x="526" y="413.8" font-size="14.9" text-anchor="start" font-weight="normal" fill="#7dbe7a" >S2</text>
<path d="M548.2,403.53H554.1M548.2,412.88H554.1" stroke="#7dbe7a" stroke-width="0.85" fill="none"/>
<path d="M551.1,403.1V413.3" stroke="#7dbe7a" stroke-width="1.0" fill="none"/>
<text x="558.4" y="413" font-size="15" fill="#7dbe7a" stroke="#7dbe7a" stroke-width="0.25">~</text>
<path d="M568.9,403.53H580M568.9,412.88H580" stroke="#7dbe7a" stroke-width="0.85" fill="none"/>
<path d="M572,403.1V413.3M576.9,403.1V413.3" stroke="#7dbe7a" stroke-width="1.0" fill="none"/>
<path d="M24,430.3V424.5Q24,422.5 26,422.5H258.5Q260.5,422.5 260.5,424.5V430.3" fill="none" stroke="#5c5858" stroke-width="1.4"/>
<path d="M296.3,430.3V425.2Q296.3,423.2 298.3,423.2H464.9Q466.9,423.2 466.9,425.2V430.3" fill="none" stroke="#5c5858" stroke-width="1.4"/>
<path d="M500.5,430.3V423.9Q500.5,421.9 502.5,421.9H606Q608,421.9 608,423.9V430.3" fill="none" stroke="#5c5858" stroke-width="1.4"/>
<circle cx="45.6" cy="465" r="27.3" fill="none" stroke="#4d4d4d" stroke-width="1.25" stroke-dasharray="5.6 3.45"/>
<circle cx="109.4" cy="465" r="27.3" fill="none" stroke="#4d4d4d" stroke-width="1.25" stroke-dasharray="5.6 3.45"/>
<circle cx="173.7" cy="465" r="27.3" fill="none" stroke="#4d4d4d" stroke-width="1.25" stroke-dasharray="5.6 3.45"/>
<circle cx="237.7" cy="465" r="27.3" fill="none" stroke="#4d4d4d" stroke-width="1.25" stroke-dasharray="5.6 3.45"/>
<circle cx="318.6" cy="465" r="27.3" fill="none" stroke="#4d4d4d" stroke-width="1.25" stroke-dasharray="5.6 3.45"/>
<circle cx="382.3" cy="465" r="27.3" fill="none" stroke="#4d4d4d" stroke-width="1.25" stroke-dasharray="5.6 3.45"/>
<circle cx="444.8" cy="465" r="27.3" fill="none" stroke="#4d4d4d" stroke-width="1.25" stroke-dasharray="5.6 3.45"/>
<circle cx="523.5" cy="465" r="27.3" fill="none" stroke="#4d4d4d" stroke-width="1.25" stroke-dasharray="5.6 3.45"/>
<circle cx="585.9" cy="465" r="27.3" fill="none" stroke="#4d4d4d" stroke-width="1.25" stroke-dasharray="5.6 3.45"/>
<rect x="230.1" y="464.5" width="2.4" height="2.2" rx="0.6" fill="#595959"/>
<rect x="236.5" y="464.5" width="2.4" height="2.2" rx="0.6" fill="#595959"/>
<rect x="242.9" y="464.5" width="2.4" height="2.2" rx="0.6" fill="#595959"/>
<rect x="437.4" y="464.5" width="2.4" height="2.2" rx="0.6" fill="#595959"/>
<rect x="443.8" y="464.5" width="2.4" height="2.2" rx="0.6" fill="#595959"/>
<rect x="450.2" y="464.5" width="2.4" height="2.2" rx="0.6" fill="#595959"/>
<rect x="578.3" y="464.5" width="2.4" height="2.2" rx="0.6" fill="#595959"/>
<rect x="584.7" y="464.5" width="2.4" height="2.2" rx="0.6" fill="#595959"/>
<rect x="591.1" y="464.5" width="2.4" height="2.2" rx="0.6" fill="#595959"/>
<path d="M44.8,477.1L44.8,461.8L37.04,451.87M42.12,463.89L34.36,453.96M48.2,477.1L48.2,461.8L55.96,451.87M50.88,463.89L58.64,453.96" fill="none" stroke="#ff6600" stroke-width="1.55" stroke-linejoin="miter"/>
<circle cx="29.5" cy="464.9" r="3.3" fill="#ff6600" stroke="#7a7a7a" stroke-width="0.6"/>
<circle cx="36" cy="479.6" r="3.5" fill="#ff6600" stroke="#7a7a7a" stroke-width="0.6"/>
<circle cx="52.4" cy="482.6" r="2.7" fill="#ff6600" stroke="#7a7a7a" stroke-width="0.6"/>
<circle cx="62.6" cy="472.2" r="5.2" fill="#ff6600" stroke="#7a7a7a" stroke-width="0.6"/>
<circle cx="63.1" cy="461.2" r="2" fill="#ff6600" stroke="#7a7a7a" stroke-width="0.6"/>
<circle cx="63.9" cy="450.9" r="2" fill="#ff6600" stroke="#7a7a7a" stroke-width="0.6"/>
<path d="M107.7,475.6L107.7,460.3L99.94,450.37M105.02,462.39L97.26,452.46M111.1,475.6L111.1,460.3L118.86,450.37M113.78,462.39L121.54,452.46" fill="none" stroke="#ff9900" stroke-width="1.55" stroke-linejoin="miter"/>
<circle cx="94.1" cy="462.6" r="3" fill="#ff9900" stroke="#7a7a7a" stroke-width="0.6"/>
<circle cx="98.9" cy="476.8" r="3" fill="#ff9900" stroke="#7a7a7a" stroke-width="0.6"/>
<circle cx="127.1" cy="460.7" r="3" fill="#ff9900" stroke="#7a7a7a" stroke-width="0.6"/>
<circle cx="126.4" cy="471.4" r="2" fill="#ff9900" stroke="#7a7a7a" stroke-width="0.6"/>
<circle cx="121.8" cy="477.9" r="2" fill="#ff9900" stroke="#7a7a7a" stroke-width="0.6"/>
<path d="M172.2,475.6L172.2,460.3L164.44,450.37M169.52,462.39L161.76,452.46M175.6,475.6L175.6,460.3L183.36,450.37M178.28,462.39L186.04,452.46" fill="none" stroke="#ffcc00" stroke-width="1.55" stroke-linejoin="miter"/>
<circle cx="158.6" cy="465.5" r="2" fill="#ffcc00" stroke="#7a7a7a" stroke-width="0.6"/>
<circle cx="163.6" cy="478.6" r="3.3" fill="#ffcc00" stroke="#7a7a7a" stroke-width="0.6"/>
<circle cx="188.6" cy="468.1" r="2" fill="#ffcc00" stroke="#7a7a7a" stroke-width="0.6"/>
<circle cx="185.3" cy="477.7" r="2" fill="#ffcc00" stroke="#7a7a7a" stroke-width="0.6"/>
<path d="M316.5,476.8L316.5,461.5L308.74,451.57M313.82,463.59L306.06,453.66M319.9,476.8L319.9,461.5L327.66,451.57M322.58,463.59L330.34,453.66" fill="none" stroke="#4a90d9" stroke-width="1.55" stroke-linejoin="miter"/>
<circle cx="301.9" cy="465" r="3.4" fill="#5b9bd5" stroke="#7a7a7a" stroke-width="0.6"/>
<circle cx="308.8" cy="475.9" r="1.9" fill="#5b9bd5" stroke="#7a7a7a" stroke-width="0.6"/>
<circle cx="336.9" cy="464.4" r="3.4" fill="#5b9bd5" stroke="#7a7a7a" stroke-width="0.6"/>
<circle cx="329.4" cy="471.9" r="1.9" fill="#5b9bd5" stroke="#7a7a7a" stroke-width="0.6"/>
<circle cx="324.7" cy="482.8" r="2.8" fill="#5b9bd5" stroke="#7a7a7a" stroke-width="0.6"/>
<path d="M380.8,476.8L380.8,461.5L373.04,451.57M378.12,463.59L370.36,453.66M384.2,476.8L384.2,461.5L391.96,451.57M386.88,463.59L394.64,453.66" fill="none" stroke="#33ccff" stroke-width="1.55" stroke-linejoin="miter"/>
<circle cx="370" cy="469.4" r="1.9" fill="#33ccff" stroke="#7a7a7a" stroke-width="0.6"/>
<circle cx="397.8" cy="468.8" r="1.9" fill="#33ccff" stroke="#7a7a7a" stroke-width="0.6"/>
<circle cx="394" cy="478.1" r="1.9" fill="#33ccff" stroke="#7a7a7a" stroke-width="0.6"/>
<circle cx="381" cy="483.8" r="1.9" fill="#33ccff" stroke="#7a7a7a" stroke-width="0.6"/>
<path d="M520.2,477.3L520.2,462L512.44,452.07M517.52,464.09L509.76,454.16M523.6,477.3L523.6,462L531.36,452.07M526.28,464.09L534.04,454.16" fill="none" stroke="#00b050" stroke-width="1.55" stroke-linejoin="miter"/>
<text x="16.9" y="505.6" font-size="13.2" text-anchor="start" font-weight="normal" fill="#000" >IGHV3-53</text>
<text x="16.9" y="522.2" font-size="13.2" text-anchor="start" font-weight="normal" fill="#000" >IGHV3-66</text>
<text x="81.9" y="505.6" font-size="13.2" text-anchor="start" font-weight="normal" fill="#000" >IGHV1-58</text>
<text x="147.5" y="505.6" font-size="13.2" text-anchor="start" font-weight="normal" fill="#000" >IGHV1-69</text>
<text x="288.4" y="505.6" font-size="13.2" text-anchor="start" font-weight="normal" fill="#000" >IGHV1-24</text>
<text x="336.9" y="531.5" font-size="13.45" text-anchor="middle" font-weight="normal" fill="#000" >Epitope-specific IgH lineages</text>
<defs>
<linearGradient id="g1" gradientUnits="userSpaceOnUse" x1="49.5" x2="205" y1="0" y2="0"><stop offset="0" stop-color="#fff4ec"/><stop offset="0.07" stop-color="#ffd2b0"/><stop offset="0.13" stop-color="#ff9a4a"/><stop offset="0.18" stop-color="#ff6600"/><stop offset="0.22" stop-color="#ff7518"/><stop offset="0.29" stop-color="#ff9a55"/><stop offset="0.42" stop-color="#ffb88a"/><stop offset="0.58" stop-color="#ffd8c0"/><stop offset="0.77" stop-color="#ffeee4"/><stop offset="0.97" stop-color="#fffaf6"/></linearGradient>
<linearGradient id="g2" gradientUnits="userSpaceOnUse" x1="49.5" x2="205" y1="0" y2="0"><stop offset="0" stop-color="#fdeedd"/><stop offset="0.08" stop-color="#fbd5a8"/><stop offset="0.14" stop-color="#fdb04a"/><stop offset="0.19" stop-color="#ff9900"/><stop offset="0.23" stop-color="#ffae38"/><stop offset="0.28" stop-color="#fdd7a8"/><stop offset="0.32" stop-color="#fde6cc"/><stop offset="0.65" stop-color="#feefdf"/><stop offset="0.97" stop-color="#fffaf4"/></linearGradient>
<linearGradient id="g3" gradientUnits="userSpaceOnUse" x1="49.5" x2="205" y1="0" y2="0"><stop offset="0" stop-color="#ffffff"/><stop offset="0.06" stop-color="#fffaf0"/><stop offset="0.11" stop-color="#ffe27a"/><stop offset="0.15" stop-color="#ffcc00"/><stop offset="0.19" stop-color="#ffdf6a"/><stop offset="0.25" stop-color="#fffdf5"/><stop offset="0.97" stop-color="#ffffff"/></linearGradient>
<linearGradient id="g4" gradientUnits="userSpaceOnUse" x1="49.5" x2="205" y1="0" y2="0"><stop offset="0" stop-color="#e6edf7"/><stop offset="0.07" stop-color="#bdd2ec"/><stop offset="0.12" stop-color="#7fabdc"/><stop offset="0.15" stop-color="#5b9bd5"/><stop offset="0.2" stop-color="#8bb3df"/><stop offset="0.27" stop-color="#d5e2f2"/><stop offset="0.32" stop-color="#e6edf8"/><stop offset="0.65" stop-color="#eef2fa"/><stop offset="0.97" stop-color="#f8fafd"/></linearGradient>
<linearGradient id="g5" gradientUnits="userSpaceOnUse" x1="49.5" x2="205" y1="0" y2="0"><stop offset="0" stop-color="#ffffff"/><stop offset="0.04" stop-color="#e8f8ff"/><stop offset="0.11" stop-color="#7ddcff"/><stop offset="0.15" stop-color="#33ccff"/><stop offset="0.2" stop-color="#8be0ff"/><stop offset="0.27" stop-color="#eaf9ff"/><stop offset="0.65" stop-color="#f2fbff"/><stop offset="0.97" stop-color="#ffffff"/></linearGradient>
</defs>
<path d="M51.8,544.2H64.4L58.1,557.2Z" fill="#7f7f7f"/>
<path d="M66.2,544.2H78.8L72.5,557.2Z" fill="#7f7f7f"/>
<path d="M112.1,544.2H124.7L118.4,557.2Z" fill="#7f7f7f"/>
<path d="M177.7,544.2H190.3L184,557.2Z" fill="#7f7f7f"/>
<path d="M49.7,557.7H195.8L205.2,568L195.8,578H49.7Z" fill="#fff" stroke="#111" stroke-width="1.5" stroke-linejoin="miter"/>
<text x="70.8" y="571.6" font-size="11.6" text-anchor="middle" font-weight="normal" fill="#000" >1M</text>
<text x="118.5" y="571.6" font-size="11.7" text-anchor="middle" font-weight="normal" fill="#000" >6M</text>
<text x="184.6" y="571.6" font-size="11.6" text-anchor="middle" font-weight="normal" fill="#000" >1Y</text>
<path d="M49.5,586.4H198.7L205.2,592.25L198.7,598.1H49.5Z" fill="url(#g1)" stroke="#ff7a26" stroke-width="1.2" stroke-linejoin="miter"/>
<path d="M49.5,598.1H198.7L205.2,603.9L198.7,609.7H49.5Z" fill="url(#g2)" stroke="#ffa733" stroke-width="1.2" stroke-linejoin="miter"/>
<path d="M49.5,609.7H198.7L205.2,615.55L198.7,621.4H49.5Z" fill="url(#g3)" stroke="#ffd11a" stroke-width="1.2" stroke-linejoin="miter"/>
<path d="M49.5,621.4H198.7L205.2,627.25L198.7,633.1H49.5Z" fill="url(#g4)" stroke="#5b9bd5" stroke-width="1.2" stroke-linejoin="miter"/>
<path d="M49.5,633.1H198.7L205.2,638.65L198.7,644.2H49.5Z" fill="url(#g5)" stroke="#40c8f8" stroke-width="1.2" stroke-linejoin="miter"/>
<path d="M49.5,644.2H198.7L205.2,650.3L198.7,656.4H49.5Z" fill="#fff" stroke="#00b050" stroke-width="1.2" stroke-linejoin="miter"/>
<text transform="translate(42.2,614.6) rotate(-90)" font-size="13.3" text-anchor="middle">lineages</text>
<text x="125.1" y="673.4" font-size="13.3" text-anchor="middle" font-weight="normal" fill="#000" >Dynamics of abundance</text>
<path d="M284.6,574.4V564.4L289.31,561.89H290.49L295.2,564.4V574.4Z" fill="#fff" stroke="#000" stroke-width="1.55" stroke-linejoin="round"/>
<circle cx="289.9" cy="556.6" r="4.9" fill="#fff" stroke="#000" stroke-width="1.55"/>
<path d="M315.2,559.5H348" stroke="#767171" stroke-width="1.9" fill="none"/>
<path d="M346.4,555.9L353.8,559.5L346.4,563.1Z" fill="#767171"/>
<path d="M379.03,571.77V562.15L383.51,558.76H384.62L389.09,562.15V571.77Z" fill="#fff" stroke="#000" stroke-width="1.5" stroke-linejoin="round"/>
<circle cx="384.06" cy="553.75" r="4.64" fill="#fff" stroke="#000" stroke-width="1.5"/>
<path d="M396.23,571.77V562.24L400.31,559.11H401.42L405.5,562.24V571.77Z" fill="#d0d0d0" stroke="#000" stroke-width="1.5" stroke-linejoin="round"/>
<circle cx="400.86" cy="554.1" r="4.64" fill="#d0d0d0" stroke="#000" stroke-width="1.5"/>
<path d="M371.51,573.52V563.64L375.71,560.64H376.84L381.04,563.64V573.52Z" fill="#fff" stroke="#000" stroke-width="1.5" stroke-linejoin="round"/>
<circle cx="376.27" cy="555.59" r="4.68" fill="#fff" stroke="#000" stroke-width="1.5"/>
<path d="M387.17,574.23V564.25L391.73,561.34H392.85L397.41,564.25V574.23Z" fill="#fff" stroke="#000" stroke-width="1.5" stroke-linejoin="round"/>
<circle cx="392.29" cy="556.29" r="4.68" fill="#fff" stroke="#000" stroke-width="1.5"/>
<rect x="284.3" y="585" width="94.2" height="12.1" fill="#ff6600"/>
<rect x="284.3" y="596.9" width="47.2" height="12" fill="#ff9900"/>
<rect x="284.3" y="608.7" width="9.3" height="11.7" fill="#ffcc00"/>
<rect x="284.3" y="620.2" width="23.9" height="12" fill="#5b9bd5"/>
<rect x="284.3" y="632" width="14.1" height="12" fill="#33ccff"/>
<rect x="284.3" y="643.8" width="4.5" height="11.8" fill="#00b050"/>
<text transform="translate(277.3,611.3) rotate(-90)" font-size="13.3" text-anchor="middle">lineages</text>
<text x="344.9" y="672" font-size="13.3" text-anchor="middle" font-weight="normal" fill="#000" >Prevalence in population</text>
<path d="M495,547.8L495,545.3" stroke="#8b6a0a" stroke-width="1.6"/>
<circle cx="496.6" cy="544" r="1.9" fill="#8b6a0a"/>
<circle cx="493.4" cy="544" r="1.9" fill="#8b6a0a"/>
<circle cx="495" cy="543" r="1.8" fill="#8b6a0a"/>
<path d="M501.01,550.29L502.78,548.52" stroke="#8b6a0a" stroke-width="1.6"/>
<circle cx="504.83" cy="548.73" r="1.9" fill="#8b6a0a"/>
<circle cx="502.57" cy="546.47" r="1.9" fill="#8b6a0a"/>
<circle cx="504.4" cy="546.9" r="1.8" fill="#8b6a0a"/>
<path d="M503.5,556.3L506,556.3" stroke="#8b6a0a" stroke-width="1.6"/>
<circle cx="507.3" cy="557.9" r="1.9" fill="#8b6a0a"/>
<circle cx="507.3" cy="554.7" r="1.9" fill="#8b6a0a"/>
<circle cx="508.3" cy="556.3" r="1.8" fill="#8b6a0a"/>
<path d="M501.01,562.31L502.78,564.08" stroke="#8b6a0a" stroke-width="1.6"/>
<circle cx="502.57" cy="566.13" r="1.9" fill="#8b6a0a"/>
<circle cx="504.83" cy="563.87" r="1.9" fill="#8b6a0a"/>
<circle cx="504.4" cy="565.7" r="1.8" fill="#8b6a0a"/>
<path d="M495,564.8L495,567.3" stroke="#8b6a0a" stroke-width="1.6"/>
<circle cx="493.4" cy="568.6" r="1.9" fill="#8b6a0a"/>
<circle cx="496.6" cy="568.6" r="1.9" fill="#8b6a0a"/>
<circle cx="495" cy="569.6" r="1.8" fill="#8b6a0a"/>
<path d="M488.99,562.31L487.22,564.08" stroke="#8b6a0a" stroke-width="1.6"/>
<circle cx="485.17" cy="563.87" r="1.9" fill="#8b6a0a"/>
<circle cx="487.43" cy="566.13" r="1.9" fill="#8b6a0a"/>
<circle cx="485.6" cy="565.7" r="1.8" fill="#8b6a0a"/>
<path d="M486.5,556.3L484,556.3" stroke="#8b6a0a" stroke-width="1.6"/>
<circle cx="482.7" cy="554.7" r="1.9" fill="#8b6a0a"/>
<circle cx="482.7" cy="557.9" r="1.9" fill="#8b6a0a"/>
<circle cx="481.7" cy="556.3" r="1.8" fill="#8b6a0a"/>
<path d="M488.99,550.29L487.22,548.52" stroke="#8b6a0a" stroke-width="1.6"/>
<circle cx="487.43" cy="546.47" r="1.9" fill="#8b6a0a"/>
<circle cx="485.17" cy="548.73" r="1.9" fill="#8b6a0a"/>
<circle cx="485.6" cy="546.9" r="1.8" fill="#8b6a0a"/>
<circle cx="495" cy="556.3" r="7.8" fill="#fff2cc" stroke="#8b6a0a" stroke-width="2.3"/>
<path d="M489.8,554.1c1.5,-1.6 3.2,-1.2 3.6,0.6c0.4,1.8 -1.4,2.6 -1.2,4c0.3,1.6 2.4,1.4 2.8,-0.2c0.4,-1.8 -0.8,-3.4 0.8,-4c1.6,-0.5 2.6,1 2,2.4c-0.6,1.4 -0.4,2.6 0.8,2.6c1.2,0 1.6,-1.4 1.2,-2.4c0.8,0.2 1.4,1.2 1,2.2c-0.4,1.2 -1.6,1.6 -2,2.8" fill="none" stroke="#8b6a0a" stroke-width="1.15" stroke-linecap="round"/>
<path d="M493.5,555.8c0.8,-1 1.8,-0.6 1.6,0.6M496.6,556.5c0.8,-0.8 1.8,-0.2 1.4,0.8M494.6,558.9c0.8,0.6 1.8,0.4 2.2,-0.4" fill="none" stroke="#8b6a0a" stroke-width="0.9" stroke-linecap="round"/>
<path d="M590.9,547.8L590.9,545.3" stroke="#1f3864" stroke-width="1.6"/>
<circle cx="592.5" cy="544" r="1.9" fill="#1f3864"/>
<circle cx="589.3" cy="544" r="1.9" fill="#1f3864"/>
<circle cx="590.9" cy="543" r="1.8" fill="#1f3864"/>
<path d="M596.91,550.29L598.68,548.52" stroke="#1f3864" stroke-width="1.6"/>
<circle cx="600.73" cy="548.73" r="1.9" fill="#1f3864"/>
<circle cx="598.47" cy="546.47" r="1.9" fill="#1f3864"/>
<circle cx="600.3" cy="546.9" r="1.8" fill="#1f3864"/>
<path d="M599.4,556.3L601.9,556.3" stroke="#1f3864" stroke-width="1.6"/>
<circle cx="603.2" cy="557.9" r="1.9" fill="#1f3864"/>
<circle cx="603.2" cy="554.7" r="1.9" fill="#1f3864"/>
<circle cx="604.2" cy="556.3" r="1.8" fill="#1f3864"/>
<path d="M596.91,562.31L598.68,564.08" stroke="#1f3864" stroke-width="1.6"/>
<circle cx="598.47" cy="566.13" r="1.9" fill="#1f3864"/>
<circle cx="600.73" cy="563.87" r="1.9" fill="#1f3864"/>
<circle cx="600.3" cy="565.7" r="1.8" fill="#1f3864"/>
<path d="M590.9,564.8L590.9,567.3" stroke="#1f3864" stroke-width="1.6"/>
<circle cx="589.3" cy="568.6" r="1.9" fill="#1f3864"/>
<circle cx="592.5" cy="568.6" r="1.9" fill="#1f3864"/>
<circle cx="590.9" cy="569.6" r="1.8" fill="#1f3864"/>
<path d="M584.89,562.31L583.12,564.08" stroke="#1f3864" stroke-width="1.6"/>
<circle cx="581.07" cy="563.87" r="1.9" fill="#1f3864"/>
<circle cx="583.33" cy="566.13" r="1.9" fill="#1f3864"/>
<circle cx="581.5" cy="565.7" r="1.8" fill="#1f3864"/>
<path d="M582.4,556.3L579.9,556.3" stroke="#1f3864" stroke-width="1.6"/>
<circle cx="578.6" cy="554.7" r="1.9" fill="#1f3864"/>
<circle cx="578.6" cy="557.9" r="1.9" fill="#1f3864"/>
<circle cx="577.6" cy="556.3" r="1.8" fill="#1f3864"/>
<path d="M584.89,550.29L583.12,548.52" stroke="#1f3864" stroke-width="1.6"/>
<circle cx="583.33" cy="546.47" r="1.9" fill="#1f3864"/>
<circle cx="581.07" cy="548.73" r="1.9" fill="#1f3864"/>
<circle cx="581.5" cy="546.9" r="1.8" fill="#1f3864"/>
<circle cx="590.9" cy="556.3" r="7.8" fill="#dae3f3" stroke="#1f3864" stroke-width="2.3"/>
<path d="M585.7,554.1c1.5,-1.6 3.2,-1.2 3.6,0.6c0.4,1.8 -1.4,2.6 -1.2,4c0.3,1.6 2.4,1.4 2.8,-0.2c0.4,-1.8 -0.8,-3.4 0.8,-4c1.6,-0.5 2.6,1 2,2.4c-0.6,1.4 -0.4,2.6 0.8,2.6c1.2,0 1.6,-1.4 1.2,-2.4c0.8,0.2 1.4,1.2 1,2.2c-0.4,1.2 -1.6,1.6 -2,2.8" fill="none" stroke="#1f3864" stroke-width="1.15" stroke-linecap="round"/>
<path d="M589.4,555.8c0.8,-1 1.8,-0.6 1.6,0.6M592.5,556.5c0.8,-0.8 1.8,-0.2 1.4,0.8M590.5,558.9c0.8,0.6 1.8,0.4 2.2,-0.4" fill="none" stroke="#1f3864" stroke-width="0.9" stroke-linecap="round"/>
<text x="496" y="582.9" font-size="10" text-anchor="middle" font-weight="normal" fill="#000" letter-spacing="0.2">Wildtype</text>
<text x="591.8" y="582.9" font-size="10" text-anchor="middle" font-weight="normal" fill="#000" letter-spacing="0.22">B1.1.529</text>
<path d="M498.7,594.5L586.8,597V604.5L498.7,615.5Z" fill="#ff6600"/>
<path d="M498.7,615.5L586.8,604.5V608.8L498.7,628.3Z" fill="#ff9900"/>
<path d="M498.7,628.3L586.8,608.8V611.3L498.7,635Z" fill="#ffcc00"/>
<rect x="488.3" y="588" width="10.4" height="64" fill="#fff2cc" stroke="#7f6000" stroke-width="1.5"/>
<rect x="586.8" y="588" width="10.3" height="64" fill="#dae3f3" stroke="#1f3864" stroke-width="1.5"/>
<text transform="translate(483,619.4) rotate(-90)" font-size="13.3" text-anchor="middle">lineages</text>
<text x="543.5" y="672" font-size="13.3" text-anchor="middle" font-weight="normal" fill="#000" >Cross-reactivity</text>
</g>
</svg>
</body></html>
